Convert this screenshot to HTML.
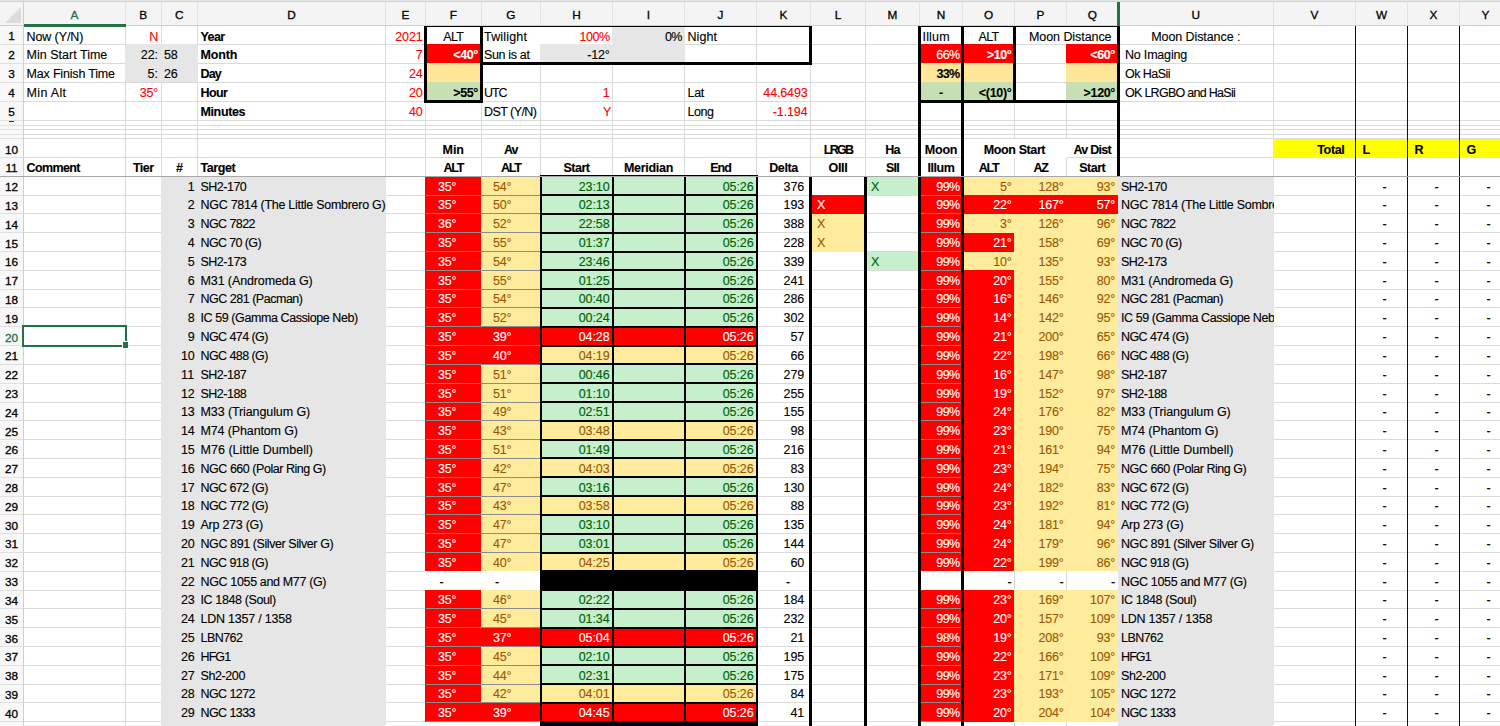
<!DOCTYPE html>
<html><head><meta charset="utf-8"><style>
html,body{margin:0;padding:0;background:#fff;}
body{width:1500px;height:726px;overflow:hidden;position:relative;font-family:"Liberation Sans", sans-serif;font-size:12.5px;-webkit-text-stroke:0.12px currentColor;}
</style></head><body>
<div style="position:absolute;left:0.00px;top:44.00px;width:1500.00px;height:1.00px;background:#DADADA;z-index:1;"></div>
<div style="position:absolute;left:0.00px;top:63.00px;width:1500.00px;height:1.00px;background:#DADADA;z-index:1;"></div>
<div style="position:absolute;left:0.00px;top:82.00px;width:1500.00px;height:1.00px;background:#DADADA;z-index:1;"></div>
<div style="position:absolute;left:0.00px;top:101.00px;width:1500.00px;height:1.00px;background:#DADADA;z-index:1;"></div>
<div style="position:absolute;left:0.00px;top:120.00px;width:1500.00px;height:1.00px;background:#DADADA;z-index:1;"></div>
<div style="position:absolute;left:0.00px;top:125.00px;width:1500.00px;height:1.00px;background:#DADADA;z-index:1;"></div>
<div style="position:absolute;left:0.00px;top:129.00px;width:1500.00px;height:1.00px;background:#DADADA;z-index:1;"></div>
<div style="position:absolute;left:0.00px;top:134.00px;width:1500.00px;height:1.00px;background:#DADADA;z-index:1;"></div>
<div style="position:absolute;left:0.00px;top:138.00px;width:1500.00px;height:1.00px;background:#DADADA;z-index:1;"></div>
<div style="position:absolute;left:0.00px;top:157.00px;width:1500.00px;height:1.00px;background:#DADADA;z-index:1;"></div>
<div style="position:absolute;left:0.00px;top:176.00px;width:1500.00px;height:1.00px;background:#DADADA;z-index:1;"></div>
<div style="position:absolute;left:0.00px;top:195.00px;width:1500.00px;height:1.00px;background:#DADADA;z-index:1;"></div>
<div style="position:absolute;left:0.00px;top:213.00px;width:1500.00px;height:1.00px;background:#DADADA;z-index:1;"></div>
<div style="position:absolute;left:0.00px;top:232.00px;width:1500.00px;height:1.00px;background:#DADADA;z-index:1;"></div>
<div style="position:absolute;left:0.00px;top:251.00px;width:1500.00px;height:1.00px;background:#DADADA;z-index:1;"></div>
<div style="position:absolute;left:0.00px;top:270.00px;width:1500.00px;height:1.00px;background:#DADADA;z-index:1;"></div>
<div style="position:absolute;left:0.00px;top:289.00px;width:1500.00px;height:1.00px;background:#DADADA;z-index:1;"></div>
<div style="position:absolute;left:0.00px;top:307.00px;width:1500.00px;height:1.00px;background:#DADADA;z-index:1;"></div>
<div style="position:absolute;left:0.00px;top:326.00px;width:1500.00px;height:1.00px;background:#DADADA;z-index:1;"></div>
<div style="position:absolute;left:0.00px;top:345.00px;width:1500.00px;height:1.00px;background:#DADADA;z-index:1;"></div>
<div style="position:absolute;left:0.00px;top:364.00px;width:1500.00px;height:1.00px;background:#DADADA;z-index:1;"></div>
<div style="position:absolute;left:0.00px;top:383.00px;width:1500.00px;height:1.00px;background:#DADADA;z-index:1;"></div>
<div style="position:absolute;left:0.00px;top:402.00px;width:1500.00px;height:1.00px;background:#DADADA;z-index:1;"></div>
<div style="position:absolute;left:0.00px;top:420.00px;width:1500.00px;height:1.00px;background:#DADADA;z-index:1;"></div>
<div style="position:absolute;left:0.00px;top:439.00px;width:1500.00px;height:1.00px;background:#DADADA;z-index:1;"></div>
<div style="position:absolute;left:0.00px;top:458.00px;width:1500.00px;height:1.00px;background:#DADADA;z-index:1;"></div>
<div style="position:absolute;left:0.00px;top:477.00px;width:1500.00px;height:1.00px;background:#DADADA;z-index:1;"></div>
<div style="position:absolute;left:0.00px;top:496.00px;width:1500.00px;height:1.00px;background:#DADADA;z-index:1;"></div>
<div style="position:absolute;left:0.00px;top:514.00px;width:1500.00px;height:1.00px;background:#DADADA;z-index:1;"></div>
<div style="position:absolute;left:0.00px;top:533.00px;width:1500.00px;height:1.00px;background:#DADADA;z-index:1;"></div>
<div style="position:absolute;left:0.00px;top:552.00px;width:1500.00px;height:1.00px;background:#DADADA;z-index:1;"></div>
<div style="position:absolute;left:0.00px;top:571.00px;width:1500.00px;height:1.00px;background:#DADADA;z-index:1;"></div>
<div style="position:absolute;left:0.00px;top:590.00px;width:1500.00px;height:1.00px;background:#DADADA;z-index:1;"></div>
<div style="position:absolute;left:0.00px;top:608.00px;width:1500.00px;height:1.00px;background:#DADADA;z-index:1;"></div>
<div style="position:absolute;left:0.00px;top:627.00px;width:1500.00px;height:1.00px;background:#DADADA;z-index:1;"></div>
<div style="position:absolute;left:0.00px;top:646.00px;width:1500.00px;height:1.00px;background:#DADADA;z-index:1;"></div>
<div style="position:absolute;left:0.00px;top:665.00px;width:1500.00px;height:1.00px;background:#DADADA;z-index:1;"></div>
<div style="position:absolute;left:0.00px;top:684.00px;width:1500.00px;height:1.00px;background:#DADADA;z-index:1;"></div>
<div style="position:absolute;left:0.00px;top:702.00px;width:1500.00px;height:1.00px;background:#DADADA;z-index:1;"></div>
<div style="position:absolute;left:0.00px;top:721.00px;width:1500.00px;height:1.00px;background:#DADADA;z-index:1;"></div>
<div style="position:absolute;left:125.00px;top:26.00px;width:1.00px;height:700.00px;background:#DADADA;z-index:1;"></div>
<div style="position:absolute;left:161.00px;top:26.00px;width:1.00px;height:700.00px;background:#DADADA;z-index:1;"></div>
<div style="position:absolute;left:197.00px;top:26.00px;width:1.00px;height:700.00px;background:#DADADA;z-index:1;"></div>
<div style="position:absolute;left:385.00px;top:26.00px;width:1.00px;height:700.00px;background:#DADADA;z-index:1;"></div>
<div style="position:absolute;left:425.00px;top:26.00px;width:1.00px;height:700.00px;background:#DADADA;z-index:1;"></div>
<div style="position:absolute;left:481.00px;top:26.00px;width:1.00px;height:700.00px;background:#DADADA;z-index:1;"></div>
<div style="position:absolute;left:540.00px;top:26.00px;width:1.00px;height:700.00px;background:#DADADA;z-index:1;"></div>
<div style="position:absolute;left:612.00px;top:26.00px;width:1.00px;height:700.00px;background:#DADADA;z-index:1;"></div>
<div style="position:absolute;left:684.00px;top:26.00px;width:1.00px;height:700.00px;background:#DADADA;z-index:1;"></div>
<div style="position:absolute;left:756.00px;top:26.00px;width:1.00px;height:700.00px;background:#DADADA;z-index:1;"></div>
<div style="position:absolute;left:810.00px;top:26.00px;width:1.00px;height:700.00px;background:#DADADA;z-index:1;"></div>
<div style="position:absolute;left:865.00px;top:26.00px;width:1.00px;height:700.00px;background:#DADADA;z-index:1;"></div>
<div style="position:absolute;left:919.00px;top:26.00px;width:1.00px;height:700.00px;background:#DADADA;z-index:1;"></div>
<div style="position:absolute;left:962.00px;top:26.00px;width:1.00px;height:700.00px;background:#DADADA;z-index:1;"></div>
<div style="position:absolute;left:1014.00px;top:26.00px;width:1.00px;height:700.00px;background:#DADADA;z-index:1;"></div>
<div style="position:absolute;left:1066.00px;top:26.00px;width:1.00px;height:700.00px;background:#DADADA;z-index:1;"></div>
<div style="position:absolute;left:1118.00px;top:26.00px;width:1.00px;height:700.00px;background:#DADADA;z-index:1;"></div>
<div style="position:absolute;left:1273.00px;top:26.00px;width:1.00px;height:700.00px;background:#DADADA;z-index:1;"></div>
<div style="position:absolute;left:1355.00px;top:26.00px;width:1.00px;height:700.00px;background:#DADADA;z-index:1;"></div>
<div style="position:absolute;left:1407.00px;top:26.00px;width:1.00px;height:700.00px;background:#DADADA;z-index:1;"></div>
<div style="position:absolute;left:1459.00px;top:26.00px;width:1.00px;height:700.00px;background:#DADADA;z-index:1;"></div>
<div style="position:absolute;left:125.00px;top:44.00px;width:73.00px;height:38.00px;background:#E6E6E6;z-index:3;"></div>
<div style="position:absolute;left:425.00px;top:26.00px;width:56.00px;height:18.00px;background:#FFFFFF;z-index:3;"></div>
<div style="position:absolute;left:425.00px;top:44.00px;width:56.00px;height:19.00px;background:#FF0000;z-index:3;"></div>
<div style="position:absolute;left:425.00px;top:63.00px;width:56.00px;height:19.00px;background:#FFE699;z-index:3;"></div>
<div style="position:absolute;left:425.00px;top:82.00px;width:56.00px;height:19.00px;background:#C6E0B4;z-index:3;"></div>
<div style="position:absolute;left:481.00px;top:26.00px;width:132.00px;height:37.00px;background:#FFFFFF;z-index:3;"></div>
<div style="position:absolute;left:612.00px;top:26.00px;width:73.00px;height:37.00px;background:#E6E6E6;z-index:3;"></div>
<div style="position:absolute;left:540.00px;top:44.00px;width:73.00px;height:19.00px;background:#E6E6E6;z-index:3;"></div>
<div style="position:absolute;left:919.00px;top:26.00px;width:199.00px;height:18.00px;background:#FFFFFF;z-index:3;"></div>
<div style="position:absolute;left:919.00px;top:44.00px;width:96.00px;height:19.00px;background:#FF0000;z-index:3;"></div>
<div style="position:absolute;left:1066.00px;top:44.00px;width:52.00px;height:19.00px;background:#FF0000;z-index:3;"></div>
<div style="position:absolute;left:919.00px;top:63.00px;width:96.00px;height:19.00px;background:#FFE699;z-index:3;"></div>
<div style="position:absolute;left:1066.00px;top:63.00px;width:52.00px;height:19.00px;background:#FFE699;z-index:3;"></div>
<div style="position:absolute;left:919.00px;top:82.00px;width:96.00px;height:19.00px;background:#C6E0B4;z-index:3;"></div>
<div style="position:absolute;left:1066.00px;top:82.00px;width:52.00px;height:19.00px;background:#C6E0B4;z-index:3;"></div>
<div style="position:absolute;left:1273.00px;top:139.00px;width:239.00px;height:19.00px;background:#FFFF00;z-index:3;"></div>
<div style="position:absolute;left:962.00px;top:139.00px;width:105.00px;height:19.00px;background:#FFFFFF;z-index:3;"></div>
<div style="position:absolute;left:161.00px;top:176.00px;width:225.00px;height:565.00px;background:#E6E6E6;z-index:3;"></div>
<div style="position:absolute;left:1118.00px;top:176.00px;width:156.00px;height:565.00px;background:#E6E6E6;z-index:3;"></div>
<div style="position:absolute;left:425.00px;top:722.00px;width:116.00px;height:19.00px;background:#FFFFFF;z-index:3;"></div>
<div style="position:absolute;left:425.00px;top:176.00px;width:56.00px;height:19.00px;background:#FF0000;z-index:3;"></div>
<div style="position:absolute;left:481.00px;top:176.00px;width:60.00px;height:19.00px;background:#FFEB9C;z-index:3;"></div>
<div style="position:absolute;left:540.00px;top:176.00px;width:217.00px;height:19.00px;background:#C6EFCE;z-index:3;"></div>
<div style="position:absolute;left:919.00px;top:176.00px;width:44.00px;height:19.00px;background:#FF0000;z-index:3;"></div>
<div style="position:absolute;left:962.00px;top:176.00px;width:156.00px;height:19.00px;background:#FFEB9C;z-index:3;"></div>
<div style="position:absolute;left:425.00px;top:195.00px;width:56.00px;height:19.00px;background:#FF0000;z-index:3;"></div>
<div style="position:absolute;left:481.00px;top:195.00px;width:60.00px;height:19.00px;background:#FFEB9C;z-index:3;"></div>
<div style="position:absolute;left:540.00px;top:195.00px;width:217.00px;height:19.00px;background:#C6EFCE;z-index:3;"></div>
<div style="position:absolute;left:919.00px;top:195.00px;width:44.00px;height:19.00px;background:#FF0000;z-index:3;"></div>
<div style="position:absolute;left:962.00px;top:195.00px;width:156.00px;height:19.00px;background:#FF0000;z-index:3;"></div>
<div style="position:absolute;left:425.00px;top:214.00px;width:56.00px;height:19.00px;background:#FF0000;z-index:3;"></div>
<div style="position:absolute;left:481.00px;top:214.00px;width:60.00px;height:19.00px;background:#FFEB9C;z-index:3;"></div>
<div style="position:absolute;left:540.00px;top:214.00px;width:217.00px;height:19.00px;background:#C6EFCE;z-index:3;"></div>
<div style="position:absolute;left:919.00px;top:214.00px;width:44.00px;height:19.00px;background:#FF0000;z-index:3;"></div>
<div style="position:absolute;left:962.00px;top:214.00px;width:156.00px;height:19.00px;background:#FFEB9C;z-index:3;"></div>
<div style="position:absolute;left:425.00px;top:233.00px;width:56.00px;height:19.00px;background:#FF0000;z-index:3;"></div>
<div style="position:absolute;left:481.00px;top:233.00px;width:60.00px;height:19.00px;background:#FFEB9C;z-index:3;"></div>
<div style="position:absolute;left:540.00px;top:233.00px;width:217.00px;height:19.00px;background:#C6EFCE;z-index:3;"></div>
<div style="position:absolute;left:919.00px;top:233.00px;width:44.00px;height:19.00px;background:#FF0000;z-index:3;"></div>
<div style="position:absolute;left:962.00px;top:233.00px;width:53.00px;height:19.00px;background:#FF0000;z-index:3;"></div>
<div style="position:absolute;left:1014.00px;top:233.00px;width:104.00px;height:19.00px;background:#FFEB9C;z-index:3;"></div>
<div style="position:absolute;left:425.00px;top:252.00px;width:56.00px;height:18.00px;background:#FF0000;z-index:3;"></div>
<div style="position:absolute;left:481.00px;top:252.00px;width:60.00px;height:18.00px;background:#FFEB9C;z-index:3;"></div>
<div style="position:absolute;left:540.00px;top:252.00px;width:217.00px;height:18.00px;background:#C6EFCE;z-index:3;"></div>
<div style="position:absolute;left:919.00px;top:252.00px;width:44.00px;height:18.00px;background:#FF0000;z-index:3;"></div>
<div style="position:absolute;left:962.00px;top:252.00px;width:156.00px;height:18.00px;background:#FFEB9C;z-index:3;"></div>
<div style="position:absolute;left:425.00px;top:270.00px;width:56.00px;height:19.00px;background:#FF0000;z-index:3;"></div>
<div style="position:absolute;left:481.00px;top:270.00px;width:60.00px;height:19.00px;background:#FFEB9C;z-index:3;"></div>
<div style="position:absolute;left:540.00px;top:270.00px;width:217.00px;height:19.00px;background:#C6EFCE;z-index:3;"></div>
<div style="position:absolute;left:919.00px;top:270.00px;width:44.00px;height:19.00px;background:#FF0000;z-index:3;"></div>
<div style="position:absolute;left:962.00px;top:270.00px;width:53.00px;height:19.00px;background:#FF0000;z-index:3;"></div>
<div style="position:absolute;left:1014.00px;top:270.00px;width:104.00px;height:19.00px;background:#FFEB9C;z-index:3;"></div>
<div style="position:absolute;left:425.00px;top:289.00px;width:56.00px;height:19.00px;background:#FF0000;z-index:3;"></div>
<div style="position:absolute;left:481.00px;top:289.00px;width:60.00px;height:19.00px;background:#FFEB9C;z-index:3;"></div>
<div style="position:absolute;left:540.00px;top:289.00px;width:217.00px;height:19.00px;background:#C6EFCE;z-index:3;"></div>
<div style="position:absolute;left:919.00px;top:289.00px;width:44.00px;height:19.00px;background:#FF0000;z-index:3;"></div>
<div style="position:absolute;left:962.00px;top:289.00px;width:53.00px;height:19.00px;background:#FF0000;z-index:3;"></div>
<div style="position:absolute;left:1014.00px;top:289.00px;width:104.00px;height:19.00px;background:#FFEB9C;z-index:3;"></div>
<div style="position:absolute;left:425.00px;top:308.00px;width:56.00px;height:19.00px;background:#FF0000;z-index:3;"></div>
<div style="position:absolute;left:481.00px;top:308.00px;width:60.00px;height:19.00px;background:#FFEB9C;z-index:3;"></div>
<div style="position:absolute;left:540.00px;top:308.00px;width:217.00px;height:19.00px;background:#C6EFCE;z-index:3;"></div>
<div style="position:absolute;left:919.00px;top:308.00px;width:44.00px;height:19.00px;background:#FF0000;z-index:3;"></div>
<div style="position:absolute;left:962.00px;top:308.00px;width:53.00px;height:19.00px;background:#FF0000;z-index:3;"></div>
<div style="position:absolute;left:1014.00px;top:308.00px;width:104.00px;height:19.00px;background:#FFEB9C;z-index:3;"></div>
<div style="position:absolute;left:425.00px;top:327.00px;width:56.00px;height:19.00px;background:#FF0000;z-index:3;"></div>
<div style="position:absolute;left:481.00px;top:327.00px;width:60.00px;height:19.00px;background:#FF0000;z-index:3;"></div>
<div style="position:absolute;left:540.00px;top:327.00px;width:217.00px;height:19.00px;background:#FF0000;z-index:3;"></div>
<div style="position:absolute;left:919.00px;top:327.00px;width:44.00px;height:19.00px;background:#FF0000;z-index:3;"></div>
<div style="position:absolute;left:962.00px;top:327.00px;width:53.00px;height:19.00px;background:#FF0000;z-index:3;"></div>
<div style="position:absolute;left:1014.00px;top:327.00px;width:104.00px;height:19.00px;background:#FFEB9C;z-index:3;"></div>
<div style="position:absolute;left:425.00px;top:346.00px;width:56.00px;height:18.00px;background:#FF0000;z-index:3;"></div>
<div style="position:absolute;left:481.00px;top:346.00px;width:60.00px;height:18.00px;background:#FF0000;z-index:3;"></div>
<div style="position:absolute;left:540.00px;top:346.00px;width:217.00px;height:18.00px;background:#FFEB9C;z-index:3;"></div>
<div style="position:absolute;left:919.00px;top:346.00px;width:44.00px;height:18.00px;background:#FF0000;z-index:3;"></div>
<div style="position:absolute;left:962.00px;top:346.00px;width:53.00px;height:18.00px;background:#FF0000;z-index:3;"></div>
<div style="position:absolute;left:1014.00px;top:346.00px;width:104.00px;height:18.00px;background:#FFEB9C;z-index:3;"></div>
<div style="position:absolute;left:425.00px;top:364.00px;width:56.00px;height:19.00px;background:#FF0000;z-index:3;"></div>
<div style="position:absolute;left:481.00px;top:364.00px;width:60.00px;height:19.00px;background:#FFEB9C;z-index:3;"></div>
<div style="position:absolute;left:540.00px;top:364.00px;width:217.00px;height:19.00px;background:#C6EFCE;z-index:3;"></div>
<div style="position:absolute;left:919.00px;top:364.00px;width:44.00px;height:19.00px;background:#FF0000;z-index:3;"></div>
<div style="position:absolute;left:962.00px;top:364.00px;width:53.00px;height:19.00px;background:#FF0000;z-index:3;"></div>
<div style="position:absolute;left:1014.00px;top:364.00px;width:104.00px;height:19.00px;background:#FFEB9C;z-index:3;"></div>
<div style="position:absolute;left:425.00px;top:383.00px;width:56.00px;height:19.00px;background:#FF0000;z-index:3;"></div>
<div style="position:absolute;left:481.00px;top:383.00px;width:60.00px;height:19.00px;background:#FFEB9C;z-index:3;"></div>
<div style="position:absolute;left:540.00px;top:383.00px;width:217.00px;height:19.00px;background:#C6EFCE;z-index:3;"></div>
<div style="position:absolute;left:919.00px;top:383.00px;width:44.00px;height:19.00px;background:#FF0000;z-index:3;"></div>
<div style="position:absolute;left:962.00px;top:383.00px;width:53.00px;height:19.00px;background:#FF0000;z-index:3;"></div>
<div style="position:absolute;left:1014.00px;top:383.00px;width:104.00px;height:19.00px;background:#FFEB9C;z-index:3;"></div>
<div style="position:absolute;left:425.00px;top:402.00px;width:56.00px;height:19.00px;background:#FF0000;z-index:3;"></div>
<div style="position:absolute;left:481.00px;top:402.00px;width:60.00px;height:19.00px;background:#FFEB9C;z-index:3;"></div>
<div style="position:absolute;left:540.00px;top:402.00px;width:217.00px;height:19.00px;background:#C6EFCE;z-index:3;"></div>
<div style="position:absolute;left:919.00px;top:402.00px;width:44.00px;height:19.00px;background:#FF0000;z-index:3;"></div>
<div style="position:absolute;left:962.00px;top:402.00px;width:53.00px;height:19.00px;background:#FF0000;z-index:3;"></div>
<div style="position:absolute;left:1014.00px;top:402.00px;width:104.00px;height:19.00px;background:#FFEB9C;z-index:3;"></div>
<div style="position:absolute;left:425.00px;top:421.00px;width:56.00px;height:19.00px;background:#FF0000;z-index:3;"></div>
<div style="position:absolute;left:481.00px;top:421.00px;width:60.00px;height:19.00px;background:#FFEB9C;z-index:3;"></div>
<div style="position:absolute;left:540.00px;top:421.00px;width:217.00px;height:19.00px;background:#FFEB9C;z-index:3;"></div>
<div style="position:absolute;left:919.00px;top:421.00px;width:44.00px;height:19.00px;background:#FF0000;z-index:3;"></div>
<div style="position:absolute;left:962.00px;top:421.00px;width:53.00px;height:19.00px;background:#FF0000;z-index:3;"></div>
<div style="position:absolute;left:1014.00px;top:421.00px;width:104.00px;height:19.00px;background:#FFEB9C;z-index:3;"></div>
<div style="position:absolute;left:425.00px;top:440.00px;width:56.00px;height:18.00px;background:#FF0000;z-index:3;"></div>
<div style="position:absolute;left:481.00px;top:440.00px;width:60.00px;height:18.00px;background:#FFEB9C;z-index:3;"></div>
<div style="position:absolute;left:540.00px;top:440.00px;width:217.00px;height:18.00px;background:#C6EFCE;z-index:3;"></div>
<div style="position:absolute;left:919.00px;top:440.00px;width:44.00px;height:18.00px;background:#FF0000;z-index:3;"></div>
<div style="position:absolute;left:962.00px;top:440.00px;width:53.00px;height:18.00px;background:#FF0000;z-index:3;"></div>
<div style="position:absolute;left:1014.00px;top:440.00px;width:104.00px;height:18.00px;background:#FFEB9C;z-index:3;"></div>
<div style="position:absolute;left:425.00px;top:458.00px;width:56.00px;height:19.00px;background:#FF0000;z-index:3;"></div>
<div style="position:absolute;left:481.00px;top:458.00px;width:60.00px;height:19.00px;background:#FFEB9C;z-index:3;"></div>
<div style="position:absolute;left:540.00px;top:458.00px;width:217.00px;height:19.00px;background:#FFEB9C;z-index:3;"></div>
<div style="position:absolute;left:919.00px;top:458.00px;width:44.00px;height:19.00px;background:#FF0000;z-index:3;"></div>
<div style="position:absolute;left:962.00px;top:458.00px;width:53.00px;height:19.00px;background:#FF0000;z-index:3;"></div>
<div style="position:absolute;left:1014.00px;top:458.00px;width:104.00px;height:19.00px;background:#FFEB9C;z-index:3;"></div>
<div style="position:absolute;left:425.00px;top:477.00px;width:56.00px;height:19.00px;background:#FF0000;z-index:3;"></div>
<div style="position:absolute;left:481.00px;top:477.00px;width:60.00px;height:19.00px;background:#FFEB9C;z-index:3;"></div>
<div style="position:absolute;left:540.00px;top:477.00px;width:217.00px;height:19.00px;background:#C6EFCE;z-index:3;"></div>
<div style="position:absolute;left:919.00px;top:477.00px;width:44.00px;height:19.00px;background:#FF0000;z-index:3;"></div>
<div style="position:absolute;left:962.00px;top:477.00px;width:53.00px;height:19.00px;background:#FF0000;z-index:3;"></div>
<div style="position:absolute;left:1014.00px;top:477.00px;width:104.00px;height:19.00px;background:#FFEB9C;z-index:3;"></div>
<div style="position:absolute;left:425.00px;top:496.00px;width:56.00px;height:19.00px;background:#FF0000;z-index:3;"></div>
<div style="position:absolute;left:481.00px;top:496.00px;width:60.00px;height:19.00px;background:#FFEB9C;z-index:3;"></div>
<div style="position:absolute;left:540.00px;top:496.00px;width:217.00px;height:19.00px;background:#FFEB9C;z-index:3;"></div>
<div style="position:absolute;left:919.00px;top:496.00px;width:44.00px;height:19.00px;background:#FF0000;z-index:3;"></div>
<div style="position:absolute;left:962.00px;top:496.00px;width:53.00px;height:19.00px;background:#FF0000;z-index:3;"></div>
<div style="position:absolute;left:1014.00px;top:496.00px;width:104.00px;height:19.00px;background:#FFEB9C;z-index:3;"></div>
<div style="position:absolute;left:425.00px;top:515.00px;width:56.00px;height:19.00px;background:#FF0000;z-index:3;"></div>
<div style="position:absolute;left:481.00px;top:515.00px;width:60.00px;height:19.00px;background:#FFEB9C;z-index:3;"></div>
<div style="position:absolute;left:540.00px;top:515.00px;width:217.00px;height:19.00px;background:#C6EFCE;z-index:3;"></div>
<div style="position:absolute;left:919.00px;top:515.00px;width:44.00px;height:19.00px;background:#FF0000;z-index:3;"></div>
<div style="position:absolute;left:962.00px;top:515.00px;width:53.00px;height:19.00px;background:#FF0000;z-index:3;"></div>
<div style="position:absolute;left:1014.00px;top:515.00px;width:104.00px;height:19.00px;background:#FFEB9C;z-index:3;"></div>
<div style="position:absolute;left:425.00px;top:534.00px;width:56.00px;height:19.00px;background:#FF0000;z-index:3;"></div>
<div style="position:absolute;left:481.00px;top:534.00px;width:60.00px;height:19.00px;background:#FFEB9C;z-index:3;"></div>
<div style="position:absolute;left:540.00px;top:534.00px;width:217.00px;height:19.00px;background:#C6EFCE;z-index:3;"></div>
<div style="position:absolute;left:919.00px;top:534.00px;width:44.00px;height:19.00px;background:#FF0000;z-index:3;"></div>
<div style="position:absolute;left:962.00px;top:534.00px;width:53.00px;height:19.00px;background:#FF0000;z-index:3;"></div>
<div style="position:absolute;left:1014.00px;top:534.00px;width:104.00px;height:19.00px;background:#FFEB9C;z-index:3;"></div>
<div style="position:absolute;left:425.00px;top:553.00px;width:56.00px;height:18.00px;background:#FF0000;z-index:3;"></div>
<div style="position:absolute;left:481.00px;top:553.00px;width:60.00px;height:18.00px;background:#FFEB9C;z-index:3;"></div>
<div style="position:absolute;left:540.00px;top:553.00px;width:217.00px;height:18.00px;background:#FFEB9C;z-index:3;"></div>
<div style="position:absolute;left:919.00px;top:553.00px;width:44.00px;height:18.00px;background:#FF0000;z-index:3;"></div>
<div style="position:absolute;left:962.00px;top:553.00px;width:53.00px;height:18.00px;background:#FF0000;z-index:3;"></div>
<div style="position:absolute;left:1014.00px;top:553.00px;width:104.00px;height:18.00px;background:#FFEB9C;z-index:3;"></div>
<div style="position:absolute;left:540.00px;top:571.00px;width:217.00px;height:19.00px;background:#000000;z-index:4;"></div>
<div style="position:absolute;left:425.00px;top:571.00px;width:116.00px;height:19.00px;background:#FFFFFF;z-index:3;"></div>
<div style="position:absolute;left:919.00px;top:571.00px;width:199.00px;height:19.00px;background:#FFFFFF;z-index:3;"></div>
<div style="position:absolute;left:425.00px;top:590.00px;width:56.00px;height:19.00px;background:#FF0000;z-index:3;"></div>
<div style="position:absolute;left:481.00px;top:590.00px;width:60.00px;height:19.00px;background:#FFEB9C;z-index:3;"></div>
<div style="position:absolute;left:540.00px;top:590.00px;width:217.00px;height:19.00px;background:#C6EFCE;z-index:3;"></div>
<div style="position:absolute;left:919.00px;top:590.00px;width:44.00px;height:19.00px;background:#FF0000;z-index:3;"></div>
<div style="position:absolute;left:962.00px;top:590.00px;width:53.00px;height:19.00px;background:#FF0000;z-index:3;"></div>
<div style="position:absolute;left:1014.00px;top:590.00px;width:104.00px;height:19.00px;background:#FFEB9C;z-index:3;"></div>
<div style="position:absolute;left:425.00px;top:609.00px;width:56.00px;height:19.00px;background:#FF0000;z-index:3;"></div>
<div style="position:absolute;left:481.00px;top:609.00px;width:60.00px;height:19.00px;background:#FFEB9C;z-index:3;"></div>
<div style="position:absolute;left:540.00px;top:609.00px;width:217.00px;height:19.00px;background:#C6EFCE;z-index:3;"></div>
<div style="position:absolute;left:919.00px;top:609.00px;width:44.00px;height:19.00px;background:#FF0000;z-index:3;"></div>
<div style="position:absolute;left:962.00px;top:609.00px;width:53.00px;height:19.00px;background:#FF0000;z-index:3;"></div>
<div style="position:absolute;left:1014.00px;top:609.00px;width:104.00px;height:19.00px;background:#FFEB9C;z-index:3;"></div>
<div style="position:absolute;left:425.00px;top:628.00px;width:56.00px;height:19.00px;background:#FF0000;z-index:3;"></div>
<div style="position:absolute;left:481.00px;top:628.00px;width:60.00px;height:19.00px;background:#FF0000;z-index:3;"></div>
<div style="position:absolute;left:540.00px;top:628.00px;width:217.00px;height:19.00px;background:#FF0000;z-index:3;"></div>
<div style="position:absolute;left:919.00px;top:628.00px;width:44.00px;height:19.00px;background:#FF0000;z-index:3;"></div>
<div style="position:absolute;left:962.00px;top:628.00px;width:53.00px;height:19.00px;background:#FF0000;z-index:3;"></div>
<div style="position:absolute;left:1014.00px;top:628.00px;width:104.00px;height:19.00px;background:#FFEB9C;z-index:3;"></div>
<div style="position:absolute;left:425.00px;top:647.00px;width:56.00px;height:18.00px;background:#FF0000;z-index:3;"></div>
<div style="position:absolute;left:481.00px;top:647.00px;width:60.00px;height:18.00px;background:#FFEB9C;z-index:3;"></div>
<div style="position:absolute;left:540.00px;top:647.00px;width:217.00px;height:18.00px;background:#C6EFCE;z-index:3;"></div>
<div style="position:absolute;left:919.00px;top:647.00px;width:44.00px;height:18.00px;background:#FF0000;z-index:3;"></div>
<div style="position:absolute;left:962.00px;top:647.00px;width:53.00px;height:18.00px;background:#FF0000;z-index:3;"></div>
<div style="position:absolute;left:1014.00px;top:647.00px;width:104.00px;height:18.00px;background:#FFEB9C;z-index:3;"></div>
<div style="position:absolute;left:425.00px;top:665.00px;width:56.00px;height:19.00px;background:#FF0000;z-index:3;"></div>
<div style="position:absolute;left:481.00px;top:665.00px;width:60.00px;height:19.00px;background:#FFEB9C;z-index:3;"></div>
<div style="position:absolute;left:540.00px;top:665.00px;width:217.00px;height:19.00px;background:#C6EFCE;z-index:3;"></div>
<div style="position:absolute;left:919.00px;top:665.00px;width:44.00px;height:19.00px;background:#FF0000;z-index:3;"></div>
<div style="position:absolute;left:962.00px;top:665.00px;width:53.00px;height:19.00px;background:#FF0000;z-index:3;"></div>
<div style="position:absolute;left:1014.00px;top:665.00px;width:104.00px;height:19.00px;background:#FFEB9C;z-index:3;"></div>
<div style="position:absolute;left:425.00px;top:684.00px;width:56.00px;height:19.00px;background:#FF0000;z-index:3;"></div>
<div style="position:absolute;left:481.00px;top:684.00px;width:60.00px;height:19.00px;background:#FFEB9C;z-index:3;"></div>
<div style="position:absolute;left:540.00px;top:684.00px;width:217.00px;height:19.00px;background:#FFEB9C;z-index:3;"></div>
<div style="position:absolute;left:919.00px;top:684.00px;width:44.00px;height:19.00px;background:#FF0000;z-index:3;"></div>
<div style="position:absolute;left:962.00px;top:684.00px;width:53.00px;height:19.00px;background:#FF0000;z-index:3;"></div>
<div style="position:absolute;left:1014.00px;top:684.00px;width:104.00px;height:19.00px;background:#FFEB9C;z-index:3;"></div>
<div style="position:absolute;left:425.00px;top:703.00px;width:56.00px;height:19.00px;background:#FF0000;z-index:3;"></div>
<div style="position:absolute;left:481.00px;top:703.00px;width:60.00px;height:19.00px;background:#FF0000;z-index:3;"></div>
<div style="position:absolute;left:540.00px;top:703.00px;width:217.00px;height:19.00px;background:#FF0000;z-index:3;"></div>
<div style="position:absolute;left:919.00px;top:703.00px;width:44.00px;height:19.00px;background:#FF0000;z-index:3;"></div>
<div style="position:absolute;left:962.00px;top:703.00px;width:53.00px;height:19.00px;background:#FF0000;z-index:3;"></div>
<div style="position:absolute;left:1014.00px;top:703.00px;width:104.00px;height:19.00px;background:#FFEB9C;z-index:3;"></div>
<div style="position:absolute;left:810.00px;top:195.00px;width:56.00px;height:19.00px;background:#FF0000;z-index:3;"></div>
<div style="position:absolute;left:810.00px;top:214.00px;width:56.00px;height:38.00px;background:#FFEB9C;z-index:3;"></div>
<div style="position:absolute;left:865.00px;top:176.00px;width:55.00px;height:19.00px;background:#C6EFCE;z-index:3;"></div>
<div style="position:absolute;left:865.00px;top:252.00px;width:55.00px;height:18.00px;background:#C6EFCE;z-index:3;"></div>
<div style="position:absolute;left:541.00px;top:722.00px;width:216.00px;height:4.00px;background:#000;z-index:4;"></div>
<div style="position:absolute;left:426.00px;top:195.00px;width:115.00px;height:1.00px;background:#8C8C8C;z-index:5;"></div>
<div style="position:absolute;left:920.00px;top:195.00px;width:43.00px;height:1.00px;background:#8C8C8C;z-index:5;"></div>
<div style="position:absolute;left:426.00px;top:213.00px;width:115.00px;height:1.00px;background:#8C8C8C;z-index:5;"></div>
<div style="position:absolute;left:920.00px;top:213.00px;width:43.00px;height:1.00px;background:#8C8C8C;z-index:5;"></div>
<div style="position:absolute;left:426.00px;top:232.00px;width:115.00px;height:1.00px;background:#8C8C8C;z-index:5;"></div>
<div style="position:absolute;left:920.00px;top:232.00px;width:43.00px;height:1.00px;background:#8C8C8C;z-index:5;"></div>
<div style="position:absolute;left:426.00px;top:251.00px;width:115.00px;height:1.00px;background:#8C8C8C;z-index:5;"></div>
<div style="position:absolute;left:920.00px;top:251.00px;width:43.00px;height:1.00px;background:#8C8C8C;z-index:5;"></div>
<div style="position:absolute;left:426.00px;top:270.00px;width:115.00px;height:1.00px;background:#8C8C8C;z-index:5;"></div>
<div style="position:absolute;left:920.00px;top:270.00px;width:43.00px;height:1.00px;background:#8C8C8C;z-index:5;"></div>
<div style="position:absolute;left:426.00px;top:289.00px;width:115.00px;height:1.00px;background:#8C8C8C;z-index:5;"></div>
<div style="position:absolute;left:920.00px;top:289.00px;width:43.00px;height:1.00px;background:#8C8C8C;z-index:5;"></div>
<div style="position:absolute;left:426.00px;top:307.00px;width:115.00px;height:1.00px;background:#8C8C8C;z-index:5;"></div>
<div style="position:absolute;left:920.00px;top:307.00px;width:43.00px;height:1.00px;background:#8C8C8C;z-index:5;"></div>
<div style="position:absolute;left:426.00px;top:326.00px;width:115.00px;height:1.00px;background:#8C8C8C;z-index:5;"></div>
<div style="position:absolute;left:920.00px;top:326.00px;width:43.00px;height:1.00px;background:#8C8C8C;z-index:5;"></div>
<div style="position:absolute;left:426.00px;top:345.00px;width:115.00px;height:1.00px;background:#8C8C8C;z-index:5;"></div>
<div style="position:absolute;left:920.00px;top:345.00px;width:43.00px;height:1.00px;background:#8C8C8C;z-index:5;"></div>
<div style="position:absolute;left:426.00px;top:364.00px;width:115.00px;height:1.00px;background:#8C8C8C;z-index:5;"></div>
<div style="position:absolute;left:920.00px;top:364.00px;width:43.00px;height:1.00px;background:#8C8C8C;z-index:5;"></div>
<div style="position:absolute;left:426.00px;top:383.00px;width:115.00px;height:1.00px;background:#8C8C8C;z-index:5;"></div>
<div style="position:absolute;left:920.00px;top:383.00px;width:43.00px;height:1.00px;background:#8C8C8C;z-index:5;"></div>
<div style="position:absolute;left:426.00px;top:402.00px;width:115.00px;height:1.00px;background:#8C8C8C;z-index:5;"></div>
<div style="position:absolute;left:920.00px;top:402.00px;width:43.00px;height:1.00px;background:#8C8C8C;z-index:5;"></div>
<div style="position:absolute;left:426.00px;top:420.00px;width:115.00px;height:1.00px;background:#8C8C8C;z-index:5;"></div>
<div style="position:absolute;left:920.00px;top:420.00px;width:43.00px;height:1.00px;background:#8C8C8C;z-index:5;"></div>
<div style="position:absolute;left:426.00px;top:439.00px;width:115.00px;height:1.00px;background:#8C8C8C;z-index:5;"></div>
<div style="position:absolute;left:920.00px;top:439.00px;width:43.00px;height:1.00px;background:#8C8C8C;z-index:5;"></div>
<div style="position:absolute;left:426.00px;top:458.00px;width:115.00px;height:1.00px;background:#8C8C8C;z-index:5;"></div>
<div style="position:absolute;left:920.00px;top:458.00px;width:43.00px;height:1.00px;background:#8C8C8C;z-index:5;"></div>
<div style="position:absolute;left:426.00px;top:477.00px;width:115.00px;height:1.00px;background:#8C8C8C;z-index:5;"></div>
<div style="position:absolute;left:920.00px;top:477.00px;width:43.00px;height:1.00px;background:#8C8C8C;z-index:5;"></div>
<div style="position:absolute;left:426.00px;top:496.00px;width:115.00px;height:1.00px;background:#8C8C8C;z-index:5;"></div>
<div style="position:absolute;left:920.00px;top:496.00px;width:43.00px;height:1.00px;background:#8C8C8C;z-index:5;"></div>
<div style="position:absolute;left:426.00px;top:514.00px;width:115.00px;height:1.00px;background:#8C8C8C;z-index:5;"></div>
<div style="position:absolute;left:920.00px;top:514.00px;width:43.00px;height:1.00px;background:#8C8C8C;z-index:5;"></div>
<div style="position:absolute;left:426.00px;top:533.00px;width:115.00px;height:1.00px;background:#8C8C8C;z-index:5;"></div>
<div style="position:absolute;left:920.00px;top:533.00px;width:43.00px;height:1.00px;background:#8C8C8C;z-index:5;"></div>
<div style="position:absolute;left:426.00px;top:552.00px;width:115.00px;height:1.00px;background:#8C8C8C;z-index:5;"></div>
<div style="position:absolute;left:920.00px;top:552.00px;width:43.00px;height:1.00px;background:#8C8C8C;z-index:5;"></div>
<div style="position:absolute;left:426.00px;top:608.00px;width:115.00px;height:1.00px;background:#8C8C8C;z-index:5;"></div>
<div style="position:absolute;left:920.00px;top:608.00px;width:43.00px;height:1.00px;background:#8C8C8C;z-index:5;"></div>
<div style="position:absolute;left:426.00px;top:627.00px;width:115.00px;height:1.00px;background:#8C8C8C;z-index:5;"></div>
<div style="position:absolute;left:920.00px;top:627.00px;width:43.00px;height:1.00px;background:#8C8C8C;z-index:5;"></div>
<div style="position:absolute;left:426.00px;top:646.00px;width:115.00px;height:1.00px;background:#8C8C8C;z-index:5;"></div>
<div style="position:absolute;left:920.00px;top:646.00px;width:43.00px;height:1.00px;background:#8C8C8C;z-index:5;"></div>
<div style="position:absolute;left:426.00px;top:665.00px;width:115.00px;height:1.00px;background:#8C8C8C;z-index:5;"></div>
<div style="position:absolute;left:920.00px;top:665.00px;width:43.00px;height:1.00px;background:#8C8C8C;z-index:5;"></div>
<div style="position:absolute;left:426.00px;top:684.00px;width:115.00px;height:1.00px;background:#8C8C8C;z-index:5;"></div>
<div style="position:absolute;left:920.00px;top:684.00px;width:43.00px;height:1.00px;background:#8C8C8C;z-index:5;"></div>
<div style="position:absolute;left:426.00px;top:702.00px;width:115.00px;height:1.00px;background:#8C8C8C;z-index:5;"></div>
<div style="position:absolute;left:920.00px;top:702.00px;width:43.00px;height:1.00px;background:#8C8C8C;z-index:5;"></div>
<div style="position:absolute;left:426.00px;top:721.00px;width:115.00px;height:1.00px;background:#8C8C8C;z-index:5;"></div>
<div style="position:absolute;left:920.00px;top:721.00px;width:43.00px;height:1.00px;background:#8C8C8C;z-index:5;"></div>
<div style="position:absolute;left:1014.00px;top:571.00px;width:1.00px;height:19.00px;background:#DADADA;z-index:5;"></div>
<div style="position:absolute;left:1066.00px;top:571.00px;width:1.00px;height:19.00px;background:#DADADA;z-index:5;"></div>
<div style="position:absolute;left:424.00px;top:26.00px;width:3.00px;height:75.00px;background:#000;z-index:6;"></div>
<div style="position:absolute;left:480.00px;top:26.00px;width:3.00px;height:75.00px;background:#000;z-index:6;"></div>
<div style="position:absolute;left:424.00px;top:26.00px;width:59.00px;height:1.00px;background:#000;z-index:6;"></div>
<div style="position:absolute;left:424.00px;top:100.00px;width:59.00px;height:3.00px;background:#000;z-index:6;"></div>
<div style="position:absolute;left:481.00px;top:26.00px;width:331.00px;height:1.00px;background:#000;z-index:6;"></div>
<div style="position:absolute;left:481.00px;top:62.00px;width:331.00px;height:3.00px;background:#000;z-index:6;"></div>
<div style="position:absolute;left:809.00px;top:26.00px;width:3.00px;height:39.00px;background:#000;z-index:6;"></div>
<div style="position:absolute;left:918.00px;top:26.00px;width:202.00px;height:1.00px;background:#000;z-index:6;"></div>
<div style="position:absolute;left:918.00px;top:100.00px;width:202.00px;height:3.00px;background:#000;z-index:6;"></div>
<div style="position:absolute;left:918.00px;top:26.00px;width:3.00px;height:700.00px;background:#000;z-index:6;"></div>
<div style="position:absolute;left:961.00px;top:26.00px;width:3.00px;height:700.00px;background:#000;z-index:6;"></div>
<div style="position:absolute;left:1013.00px;top:26.00px;width:3.00px;height:75.00px;background:#000;z-index:6;"></div>
<div style="position:absolute;left:1117.00px;top:26.00px;width:3.00px;height:150.00px;background:#000;z-index:6;"></div>
<div style="position:absolute;left:809.00px;top:176.00px;width:3.00px;height:550.00px;background:#000;z-index:6;"></div>
<div style="position:absolute;left:864.00px;top:176.00px;width:3.00px;height:550.00px;background:#000;z-index:6;"></div>
<div style="position:absolute;left:540.00px;top:176.00px;width:2.00px;height:550.00px;background:#000;z-index:6;"></div>
<div style="position:absolute;left:612.00px;top:176.00px;width:2.00px;height:550.00px;background:#000;z-index:6;"></div>
<div style="position:absolute;left:684.00px;top:176.00px;width:2.00px;height:550.00px;background:#000;z-index:6;"></div>
<div style="position:absolute;left:756.00px;top:176.00px;width:2.00px;height:550.00px;background:#000;z-index:6;"></div>
<div style="position:absolute;left:540.00px;top:175.00px;width:218.00px;height:2.00px;background:#000;z-index:6;"></div>
<div style="position:absolute;left:540.00px;top:194.00px;width:218.00px;height:2.00px;background:#000;z-index:6;"></div>
<div style="position:absolute;left:540.00px;top:213.00px;width:218.00px;height:2.00px;background:#000;z-index:6;"></div>
<div style="position:absolute;left:540.00px;top:232.00px;width:218.00px;height:2.00px;background:#000;z-index:6;"></div>
<div style="position:absolute;left:540.00px;top:251.00px;width:218.00px;height:2.00px;background:#000;z-index:6;"></div>
<div style="position:absolute;left:540.00px;top:269.00px;width:218.00px;height:2.00px;background:#000;z-index:6;"></div>
<div style="position:absolute;left:540.00px;top:288.00px;width:218.00px;height:2.00px;background:#000;z-index:6;"></div>
<div style="position:absolute;left:540.00px;top:307.00px;width:218.00px;height:2.00px;background:#000;z-index:6;"></div>
<div style="position:absolute;left:540.00px;top:326.00px;width:218.00px;height:2.00px;background:#000;z-index:6;"></div>
<div style="position:absolute;left:540.00px;top:345.00px;width:218.00px;height:2.00px;background:#000;z-index:6;"></div>
<div style="position:absolute;left:540.00px;top:363.00px;width:218.00px;height:2.00px;background:#000;z-index:6;"></div>
<div style="position:absolute;left:540.00px;top:382.00px;width:218.00px;height:2.00px;background:#000;z-index:6;"></div>
<div style="position:absolute;left:540.00px;top:401.00px;width:218.00px;height:2.00px;background:#000;z-index:6;"></div>
<div style="position:absolute;left:540.00px;top:420.00px;width:218.00px;height:2.00px;background:#000;z-index:6;"></div>
<div style="position:absolute;left:540.00px;top:439.00px;width:218.00px;height:2.00px;background:#000;z-index:6;"></div>
<div style="position:absolute;left:540.00px;top:457.00px;width:218.00px;height:2.00px;background:#000;z-index:6;"></div>
<div style="position:absolute;left:540.00px;top:476.00px;width:218.00px;height:2.00px;background:#000;z-index:6;"></div>
<div style="position:absolute;left:540.00px;top:495.00px;width:218.00px;height:2.00px;background:#000;z-index:6;"></div>
<div style="position:absolute;left:540.00px;top:514.00px;width:218.00px;height:2.00px;background:#000;z-index:6;"></div>
<div style="position:absolute;left:540.00px;top:533.00px;width:218.00px;height:2.00px;background:#000;z-index:6;"></div>
<div style="position:absolute;left:540.00px;top:552.00px;width:218.00px;height:2.00px;background:#000;z-index:6;"></div>
<div style="position:absolute;left:540.00px;top:570.00px;width:218.00px;height:2.00px;background:#000;z-index:6;"></div>
<div style="position:absolute;left:540.00px;top:589.00px;width:218.00px;height:2.00px;background:#000;z-index:6;"></div>
<div style="position:absolute;left:540.00px;top:608.00px;width:218.00px;height:2.00px;background:#000;z-index:6;"></div>
<div style="position:absolute;left:540.00px;top:627.00px;width:218.00px;height:2.00px;background:#000;z-index:6;"></div>
<div style="position:absolute;left:540.00px;top:646.00px;width:218.00px;height:2.00px;background:#000;z-index:6;"></div>
<div style="position:absolute;left:540.00px;top:664.00px;width:218.00px;height:2.00px;background:#000;z-index:6;"></div>
<div style="position:absolute;left:540.00px;top:683.00px;width:218.00px;height:2.00px;background:#000;z-index:6;"></div>
<div style="position:absolute;left:540.00px;top:702.00px;width:218.00px;height:2.00px;background:#000;z-index:6;"></div>
<div style="position:absolute;left:540.00px;top:721.00px;width:218.00px;height:2.00px;background:#000;z-index:6;"></div>
<div style="position:absolute;left:1355.00px;top:26.00px;width:1.00px;height:700.00px;background:#111;z-index:6;"></div>
<div style="position:absolute;left:1407.00px;top:26.00px;width:1.00px;height:700.00px;background:#111;z-index:6;"></div>
<div style="position:absolute;left:1459.00px;top:26.00px;width:1.00px;height:700.00px;background:#111;z-index:6;"></div>
<div style="position:absolute;left:23.50px;top:28.10px;width:102.00px;height:18.90px;line-height:18.90px;text-align:left;color:#000;z-index:8;white-space:nowrap;box-sizing:border-box;padding-left:3px;letter-spacing:-0.092px;">Now (Y/N)</div>
<div style="position:absolute;left:125.50px;top:28.10px;width:35.50px;height:18.90px;line-height:18.90px;text-align:right;color:#FF0000;z-index:8;white-space:nowrap;box-sizing:border-box;padding-right:3px;letter-spacing:-0.377px;">N</div>
<div style="position:absolute;left:197.50px;top:28.10px;width:188.00px;height:18.90px;line-height:18.90px;text-align:left;color:#000;z-index:8;white-space:nowrap;box-sizing:border-box;padding-left:3px;font-weight:bold;letter-spacing:-0.593px;">Year</div>
<div style="position:absolute;left:385.50px;top:28.10px;width:40.00px;height:18.90px;line-height:18.90px;text-align:right;color:#FF0000;z-index:8;white-space:nowrap;box-sizing:border-box;padding-right:3px;letter-spacing:-0.160px;">2021</div>
<div style="position:absolute;left:425.50px;top:28.10px;width:55.50px;height:18.90px;line-height:18.90px;text-align:center;color:#000;z-index:8;white-space:nowrap;box-sizing:border-box;padding-left:0px;letter-spacing:-0.693px;">ALT</div>
<div style="position:absolute;left:481.00px;top:28.10px;width:59.50px;height:18.90px;line-height:18.90px;text-align:left;color:#000;z-index:8;white-space:nowrap;box-sizing:border-box;padding-left:3px;letter-spacing:0.186px;">Twilight</div>
<div style="position:absolute;left:540.50px;top:28.10px;width:72.00px;height:18.90px;line-height:18.90px;text-align:right;color:#FF0000;z-index:8;white-space:nowrap;box-sizing:border-box;padding-right:3px;letter-spacing:-0.503px;">100%</div>
<div style="position:absolute;left:612.50px;top:28.10px;width:72.00px;height:18.90px;line-height:18.90px;text-align:right;color:#000;z-index:8;white-space:nowrap;box-sizing:border-box;padding-right:3px;letter-spacing:-0.845px;">0%</div>
<div style="position:absolute;left:684.50px;top:28.10px;width:72.00px;height:18.90px;line-height:18.90px;text-align:left;color:#000;z-index:8;white-space:nowrap;box-sizing:border-box;padding-left:3px;letter-spacing:0.076px;">Night</div>
<div style="position:absolute;left:919.50px;top:28.10px;width:43.00px;height:18.90px;line-height:18.90px;text-align:left;color:#000;z-index:8;white-space:nowrap;box-sizing:border-box;padding-left:3px;letter-spacing:0.176px;">Illum</div>
<div style="position:absolute;left:962.50px;top:28.10px;width:52.00px;height:18.90px;line-height:18.90px;text-align:center;color:#000;z-index:8;white-space:nowrap;box-sizing:border-box;padding-left:0px;letter-spacing:-0.693px;">ALT</div>
<div style="position:absolute;left:1014.50px;top:28.10px;width:103.50px;height:18.90px;line-height:18.90px;text-align:center;color:#000;z-index:8;white-space:nowrap;box-sizing:border-box;padding-left:8px;letter-spacing:-0.067px;">Moon Distance</div>
<div style="position:absolute;left:1118.00px;top:28.10px;width:155.50px;height:18.90px;line-height:18.90px;text-align:center;color:#000;z-index:8;white-space:nowrap;box-sizing:border-box;padding-left:0px;letter-spacing:-0.080px;">Moon Distance :</div>
<div style="position:absolute;left:23.50px;top:46.20px;width:102.00px;height:18.90px;line-height:18.90px;text-align:left;color:#000;z-index:8;white-space:nowrap;box-sizing:border-box;padding-left:3px;letter-spacing:0.018px;">Min Start Time</div>
<div style="position:absolute;left:125.50px;top:46.20px;width:35.50px;height:18.90px;line-height:18.90px;text-align:right;color:#000;z-index:8;white-space:nowrap;box-sizing:border-box;padding-right:3px;letter-spacing:-0.069px;">22:</div>
<div style="position:absolute;left:161.00px;top:46.20px;width:36.50px;height:18.90px;line-height:18.90px;text-align:left;color:#000;z-index:8;white-space:nowrap;box-sizing:border-box;padding-left:3px;letter-spacing:-0.160px;">58</div>
<div style="position:absolute;left:197.50px;top:46.20px;width:188.00px;height:18.90px;line-height:18.90px;text-align:left;color:#000;z-index:8;white-space:nowrap;box-sizing:border-box;padding-left:3px;font-weight:bold;letter-spacing:-0.152px;">Month</div>
<div style="position:absolute;left:385.50px;top:46.20px;width:40.00px;height:18.90px;line-height:18.90px;text-align:right;color:#FF0000;z-index:8;white-space:nowrap;box-sizing:border-box;padding-right:3px;letter-spacing:-0.160px;">7</div>
<div style="position:absolute;left:425.50px;top:46.20px;width:55.50px;height:18.90px;line-height:18.90px;text-align:right;color:#FFFFFF;z-index:8;white-space:nowrap;box-sizing:border-box;padding-right:3px;font-weight:bold;letter-spacing:-0.382px;">&lt;40°</div>
<div style="position:absolute;left:481.00px;top:46.20px;width:59.50px;height:18.90px;line-height:18.90px;text-align:left;color:#000;z-index:8;white-space:nowrap;box-sizing:border-box;padding-left:3px;letter-spacing:-0.347px;">Sun is at</div>
<div style="position:absolute;left:540.50px;top:46.20px;width:72.00px;height:18.90px;line-height:18.90px;text-align:right;color:#000;z-index:8;white-space:nowrap;box-sizing:border-box;padding-right:3px;letter-spacing:-0.177px;">-12°</div>
<div style="position:absolute;left:919.50px;top:46.20px;width:43.00px;height:18.90px;line-height:18.90px;text-align:right;color:#FFFFFF;z-index:8;white-space:nowrap;box-sizing:border-box;padding-right:3px;letter-spacing:-0.617px;">66%</div>
<div style="position:absolute;left:962.50px;top:46.20px;width:52.00px;height:18.90px;line-height:18.90px;text-align:right;color:#FFFFFF;z-index:8;white-space:nowrap;box-sizing:border-box;padding-right:3px;font-weight:bold;letter-spacing:-0.382px;">&gt;10°</div>
<div style="position:absolute;left:1066.50px;top:46.20px;width:51.50px;height:18.90px;line-height:18.90px;text-align:right;color:#FFFFFF;z-index:8;white-space:nowrap;box-sizing:border-box;padding-right:3px;font-weight:bold;letter-spacing:-0.382px;">&lt;60°</div>
<div style="position:absolute;left:1118.00px;top:46.20px;width:155.50px;height:18.90px;line-height:18.90px;text-align:left;color:#000;z-index:8;white-space:nowrap;box-sizing:border-box;padding-left:7px;letter-spacing:-0.195px;">No Imaging</div>
<div style="position:absolute;left:23.50px;top:65.10px;width:102.00px;height:19.00px;line-height:19.00px;text-align:left;color:#000;z-index:8;white-space:nowrap;box-sizing:border-box;padding-left:3px;letter-spacing:-0.177px;">Max Finish Time</div>
<div style="position:absolute;left:125.50px;top:65.10px;width:35.50px;height:19.00px;line-height:19.00px;text-align:right;color:#000;z-index:8;white-space:nowrap;box-sizing:border-box;padding-right:3px;letter-spacing:-0.024px;">5:</div>
<div style="position:absolute;left:161.00px;top:65.10px;width:36.50px;height:19.00px;line-height:19.00px;text-align:left;color:#000;z-index:8;white-space:nowrap;box-sizing:border-box;padding-left:3px;letter-spacing:-0.160px;">26</div>
<div style="position:absolute;left:197.50px;top:65.10px;width:188.00px;height:19.00px;line-height:19.00px;text-align:left;color:#000;z-index:8;white-space:nowrap;box-sizing:border-box;padding-left:3px;font-weight:bold;letter-spacing:-0.803px;">Day</div>
<div style="position:absolute;left:385.50px;top:65.10px;width:40.00px;height:19.00px;line-height:19.00px;text-align:right;color:#FF0000;z-index:8;white-space:nowrap;box-sizing:border-box;padding-right:3px;letter-spacing:-0.160px;">24</div>
<div style="position:absolute;left:919.50px;top:65.10px;width:43.00px;height:19.00px;line-height:19.00px;text-align:right;color:#000;z-index:8;white-space:nowrap;box-sizing:border-box;padding-right:3px;font-weight:bold;letter-spacing:-0.694px;">33%</div>
<div style="position:absolute;left:1118.00px;top:65.10px;width:155.50px;height:19.00px;line-height:19.00px;text-align:left;color:#000;z-index:8;white-space:nowrap;box-sizing:border-box;padding-left:7px;letter-spacing:-0.531px;">Ok HaSii</div>
<div style="position:absolute;left:23.50px;top:84.10px;width:102.00px;height:19.00px;line-height:19.00px;text-align:left;color:#000;z-index:8;white-space:nowrap;box-sizing:border-box;padding-left:3px;letter-spacing:0.344px;">Min Alt</div>
<div style="position:absolute;left:125.50px;top:84.10px;width:35.50px;height:19.00px;line-height:19.00px;text-align:right;color:#FF0000;z-index:8;white-space:nowrap;box-sizing:border-box;padding-right:3px;letter-spacing:-0.216px;">35°</div>
<div style="position:absolute;left:197.50px;top:84.10px;width:188.00px;height:19.00px;line-height:19.00px;text-align:left;color:#000;z-index:8;white-space:nowrap;box-sizing:border-box;padding-left:3px;font-weight:bold;letter-spacing:-0.577px;">Hour</div>
<div style="position:absolute;left:385.50px;top:84.10px;width:40.00px;height:19.00px;line-height:19.00px;text-align:right;color:#FF0000;z-index:8;white-space:nowrap;box-sizing:border-box;padding-right:3px;letter-spacing:-0.160px;">20</div>
<div style="position:absolute;left:425.50px;top:84.10px;width:55.50px;height:19.00px;line-height:19.00px;text-align:right;color:#000;z-index:8;white-space:nowrap;box-sizing:border-box;padding-right:3px;font-weight:bold;letter-spacing:-0.382px;">&gt;55°</div>
<div style="position:absolute;left:481.00px;top:84.10px;width:59.50px;height:19.00px;line-height:19.00px;text-align:left;color:#000;z-index:8;white-space:nowrap;box-sizing:border-box;padding-left:3px;letter-spacing:-1.139px;">UTC</div>
<div style="position:absolute;left:540.50px;top:84.10px;width:72.00px;height:19.00px;line-height:19.00px;text-align:right;color:#FF0000;z-index:8;white-space:nowrap;box-sizing:border-box;padding-right:3px;letter-spacing:-0.160px;">1</div>
<div style="position:absolute;left:684.50px;top:84.10px;width:72.00px;height:19.00px;line-height:19.00px;text-align:left;color:#000;z-index:8;white-space:nowrap;box-sizing:border-box;padding-left:3px;letter-spacing:-0.279px;">Lat</div>
<div style="position:absolute;left:756.50px;top:84.10px;width:54.00px;height:19.00px;line-height:19.00px;text-align:right;color:#FF0000;z-index:8;white-space:nowrap;box-sizing:border-box;padding-right:3px;letter-spacing:-0.150px;">44.6493</div>
<div style="position:absolute;left:919.50px;top:84.10px;width:43.00px;height:19.00px;line-height:19.00px;text-align:center;color:#000;z-index:8;white-space:nowrap;box-sizing:border-box;padding-left:0px;font-weight:bold;letter-spacing:-0.101px;">-</div>
<div style="position:absolute;left:962.50px;top:84.10px;width:52.00px;height:19.00px;line-height:19.00px;text-align:right;color:#000;z-index:8;white-space:nowrap;box-sizing:border-box;padding-right:3px;font-weight:bold;letter-spacing:-0.302px;">&lt;(10)°</div>
<div style="position:absolute;left:1066.50px;top:84.10px;width:51.50px;height:19.00px;line-height:19.00px;text-align:right;color:#000;z-index:8;white-space:nowrap;box-sizing:border-box;padding-right:3px;font-weight:bold;letter-spacing:-0.352px;">&gt;120°</div>
<div style="position:absolute;left:1118.00px;top:84.10px;width:155.50px;height:19.00px;line-height:19.00px;text-align:left;color:#000;z-index:8;white-space:nowrap;box-sizing:border-box;padding-left:7px;letter-spacing:-0.719px;">OK LRGBO and HaSii</div>
<div style="position:absolute;left:197.50px;top:103.10px;width:188.00px;height:18.70px;line-height:18.70px;text-align:left;color:#000;z-index:8;white-space:nowrap;box-sizing:border-box;padding-left:3px;font-weight:bold;letter-spacing:-0.381px;">Minutes</div>
<div style="position:absolute;left:385.50px;top:103.10px;width:40.00px;height:18.70px;line-height:18.70px;text-align:right;color:#FF0000;z-index:8;white-space:nowrap;box-sizing:border-box;padding-right:3px;letter-spacing:-0.160px;">40</div>
<div style="position:absolute;left:481.00px;top:103.10px;width:59.50px;height:18.70px;line-height:18.70px;text-align:left;color:#000;z-index:8;white-space:nowrap;box-sizing:border-box;padding-left:3px;letter-spacing:-0.551px;">DST (Y/N)</div>
<div style="position:absolute;left:540.50px;top:103.10px;width:72.00px;height:18.70px;line-height:18.70px;text-align:right;color:#FF0000;z-index:8;white-space:nowrap;box-sizing:border-box;padding-right:3px;letter-spacing:-1.808px;">Y</div>
<div style="position:absolute;left:684.50px;top:103.10px;width:72.00px;height:18.70px;line-height:18.70px;text-align:left;color:#000;z-index:8;white-space:nowrap;box-sizing:border-box;padding-left:3px;letter-spacing:-0.440px;">Long</div>
<div style="position:absolute;left:756.50px;top:103.10px;width:54.00px;height:18.70px;line-height:18.70px;text-align:right;color:#FF0000;z-index:8;white-space:nowrap;box-sizing:border-box;padding-right:3px;letter-spacing:-0.132px;">-1.194</div>
<div style="position:absolute;left:425.50px;top:140.60px;width:55.50px;height:18.80px;line-height:18.80px;text-align:center;color:#000;z-index:8;white-space:nowrap;box-sizing:border-box;padding-left:0px;font-weight:bold;letter-spacing:-0.055px;">Min</div>
<div style="position:absolute;left:481.00px;top:140.60px;width:59.50px;height:18.80px;line-height:18.80px;text-align:center;color:#000;z-index:8;white-space:nowrap;box-sizing:border-box;padding-left:0px;font-weight:bold;letter-spacing:-0.924px;">Av</div>
<div style="position:absolute;left:810.50px;top:140.60px;width:55.00px;height:18.80px;line-height:18.80px;text-align:center;color:#000;z-index:8;white-space:nowrap;box-sizing:border-box;padding-left:0px;font-weight:bold;letter-spacing:-1.762px;">LRGB</div>
<div style="position:absolute;left:865.50px;top:140.60px;width:54.00px;height:18.80px;line-height:18.80px;text-align:center;color:#000;z-index:8;white-space:nowrap;box-sizing:border-box;padding-left:0px;font-weight:bold;letter-spacing:-0.680px;">Ha</div>
<div style="position:absolute;left:919.50px;top:140.60px;width:43.00px;height:18.80px;line-height:18.80px;text-align:center;color:#000;z-index:8;white-space:nowrap;box-sizing:border-box;padding-left:0px;font-weight:bold;letter-spacing:-0.254px;">Moon</div>
<div style="position:absolute;left:1066.50px;top:140.60px;width:51.50px;height:18.80px;line-height:18.80px;text-align:center;color:#000;z-index:8;white-space:nowrap;box-sizing:border-box;padding-left:0px;font-weight:bold;letter-spacing:-0.728px;">Av Dist</div>
<div style="position:absolute;left:962.50px;top:140.60px;width:104.00px;height:18.80px;line-height:18.80px;text-align:center;color:#000;z-index:8;white-space:nowrap;box-sizing:border-box;padding-left:0px;font-weight:bold;letter-spacing:-0.401px;">Moon Start</div>
<div style="position:absolute;left:1273.50px;top:140.60px;width:82.00px;height:18.80px;line-height:18.80px;text-align:right;color:#000;z-index:8;white-space:nowrap;box-sizing:border-box;padding-right:11px;font-weight:bold;letter-spacing:-0.326px;">Total</div>
<div style="position:absolute;left:1355.50px;top:140.60px;width:52.00px;height:18.80px;line-height:18.80px;text-align:left;color:#000;z-index:8;white-space:nowrap;box-sizing:border-box;padding-left:7px;font-weight:bold;letter-spacing:-2.058px;">L</div>
<div style="position:absolute;left:1407.50px;top:140.60px;width:52.00px;height:18.80px;line-height:18.80px;text-align:left;color:#000;z-index:8;white-space:nowrap;box-sizing:border-box;padding-left:7px;font-weight:bold;letter-spacing:-1.824px;">R</div>
<div style="position:absolute;left:1459.50px;top:140.60px;width:52.00px;height:18.80px;line-height:18.80px;text-align:left;color:#000;z-index:8;white-space:nowrap;box-sizing:border-box;padding-left:7px;font-weight:bold;letter-spacing:-1.354px;">G</div>
<div style="position:absolute;left:23.50px;top:159.40px;width:102.00px;height:18.70px;line-height:18.70px;text-align:left;color:#000;z-index:8;white-space:nowrap;box-sizing:border-box;padding-left:3px;font-weight:bold;letter-spacing:-0.623px;">Comment</div>
<div style="position:absolute;left:125.50px;top:159.40px;width:35.50px;height:18.70px;line-height:18.70px;text-align:center;color:#000;z-index:8;white-space:nowrap;box-sizing:border-box;padding-left:0px;font-weight:bold;letter-spacing:-0.491px;">Tier</div>
<div style="position:absolute;left:161.00px;top:159.40px;width:36.50px;height:18.70px;line-height:18.70px;text-align:center;color:#000;z-index:8;white-space:nowrap;box-sizing:border-box;padding-left:0px;font-weight:bold;letter-spacing:-0.345px;">#</div>
<div style="position:absolute;left:197.50px;top:159.40px;width:188.00px;height:18.70px;line-height:18.70px;text-align:left;color:#000;z-index:8;white-space:nowrap;box-sizing:border-box;padding-left:3px;font-weight:bold;letter-spacing:-0.424px;">Target</div>
<div style="position:absolute;left:425.50px;top:159.40px;width:55.50px;height:18.70px;line-height:18.70px;text-align:center;color:#000;z-index:8;white-space:nowrap;box-sizing:border-box;padding-left:0px;font-weight:bold;letter-spacing:-1.218px;">ALT</div>
<div style="position:absolute;left:481.00px;top:159.40px;width:59.50px;height:18.70px;line-height:18.70px;text-align:center;color:#000;z-index:8;white-space:nowrap;box-sizing:border-box;padding-left:0px;font-weight:bold;letter-spacing:-1.218px;">ALT</div>
<div style="position:absolute;left:540.50px;top:159.40px;width:72.00px;height:18.70px;line-height:18.70px;text-align:center;color:#000;z-index:8;white-space:nowrap;box-sizing:border-box;padding-left:0px;font-weight:bold;letter-spacing:-0.503px;">Start</div>
<div style="position:absolute;left:612.50px;top:159.40px;width:72.00px;height:18.70px;line-height:18.70px;text-align:center;color:#000;z-index:8;white-space:nowrap;box-sizing:border-box;padding-left:0px;font-weight:bold;letter-spacing:-0.306px;">Meridian</div>
<div style="position:absolute;left:684.50px;top:159.40px;width:72.00px;height:18.70px;line-height:18.70px;text-align:center;color:#000;z-index:8;white-space:nowrap;box-sizing:border-box;padding-left:0px;font-weight:bold;letter-spacing:-1.064px;">End</div>
<div style="position:absolute;left:810.50px;top:159.40px;width:55.00px;height:18.70px;line-height:18.70px;text-align:center;color:#000;z-index:8;white-space:nowrap;box-sizing:border-box;padding-left:0px;font-weight:bold;letter-spacing:-0.333px;">OIII</div>
<div style="position:absolute;left:865.50px;top:159.40px;width:54.00px;height:18.70px;line-height:18.70px;text-align:center;color:#000;z-index:8;white-space:nowrap;box-sizing:border-box;padding-left:0px;font-weight:bold;letter-spacing:-0.834px;">SII</div>
<div style="position:absolute;left:919.50px;top:159.40px;width:43.00px;height:18.70px;line-height:18.70px;text-align:center;color:#000;z-index:8;white-space:nowrap;box-sizing:border-box;padding-left:0px;font-weight:bold;letter-spacing:-0.434px;">Illum</div>
<div style="position:absolute;left:962.50px;top:159.40px;width:52.00px;height:18.70px;line-height:18.70px;text-align:center;color:#000;z-index:8;white-space:nowrap;box-sizing:border-box;padding-left:0px;font-weight:bold;letter-spacing:-1.218px;">ALT</div>
<div style="position:absolute;left:1014.50px;top:159.40px;width:52.00px;height:18.70px;line-height:18.70px;text-align:center;color:#000;z-index:8;white-space:nowrap;box-sizing:border-box;padding-left:0px;font-weight:bold;letter-spacing:-1.387px;">AZ</div>
<div style="position:absolute;left:1066.50px;top:159.40px;width:51.50px;height:18.70px;line-height:18.70px;text-align:center;color:#000;z-index:8;white-space:nowrap;box-sizing:border-box;padding-left:0px;font-weight:bold;letter-spacing:-0.503px;">Start</div>
<div style="position:absolute;left:756.50px;top:159.40px;width:54.00px;height:18.70px;line-height:18.70px;text-align:center;color:#000;z-index:8;white-space:nowrap;box-sizing:border-box;padding-left:0px;font-weight:bold;letter-spacing:-0.392px;">Delta</div>
<div style="position:absolute;left:161.00px;top:177.60px;width:36.50px;height:18.81px;line-height:18.81px;text-align:right;color:#000;z-index:8;white-space:nowrap;box-sizing:border-box;padding-right:3px;letter-spacing:-0.160px;">1</div>
<div style="position:absolute;left:197.50px;top:177.60px;width:188.00px;height:18.81px;line-height:18.81px;text-align:left;color:#000;z-index:8;white-space:nowrap;box-sizing:border-box;padding-left:3px;letter-spacing:-0.509px;">SH2-170</div>
<div style="position:absolute;left:1118.00px;top:177.60px;width:155.50px;height:18.81px;line-height:18.81px;text-align:left;color:#000;z-index:8;white-space:nowrap;box-sizing:border-box;padding-left:3px;letter-spacing:-0.509px;overflow:hidden;">SH2-170</div>
<div style="position:absolute;left:1355.50px;top:177.60px;width:52.00px;height:18.81px;line-height:18.81px;text-align:right;color:#000;z-index:8;white-space:nowrap;box-sizing:border-box;padding-right:21px;letter-spacing:-0.060px;">-</div>
<div style="position:absolute;left:1407.50px;top:177.60px;width:52.00px;height:18.81px;line-height:18.81px;text-align:right;color:#000;z-index:8;white-space:nowrap;box-sizing:border-box;padding-right:21px;letter-spacing:-0.060px;">-</div>
<div style="position:absolute;left:1459.50px;top:177.60px;width:52.00px;height:18.81px;line-height:18.81px;text-align:right;color:#000;z-index:8;white-space:nowrap;box-sizing:border-box;padding-right:21px;letter-spacing:-0.060px;">-</div>
<div style="position:absolute;left:425.50px;top:177.60px;width:55.50px;height:18.81px;line-height:18.81px;text-align:left;color:#FFFFFF;z-index:8;white-space:nowrap;box-sizing:border-box;padding-left:12.5px;letter-spacing:-0.216px;">35°</div>
<div style="position:absolute;left:481.00px;top:177.60px;width:59.50px;height:18.81px;line-height:18.81px;text-align:left;color:#9C5700;z-index:8;white-space:nowrap;box-sizing:border-box;padding-left:12px;letter-spacing:-0.216px;">54°</div>
<div style="position:absolute;left:540.50px;top:177.60px;width:72.00px;height:18.81px;line-height:18.81px;text-align:right;color:#006100;z-index:8;white-space:nowrap;box-sizing:border-box;padding-right:3px;letter-spacing:-0.106px;">23:10</div>
<div style="position:absolute;left:684.50px;top:177.60px;width:72.00px;height:18.81px;line-height:18.81px;text-align:right;color:#006100;z-index:8;white-space:nowrap;box-sizing:border-box;padding-right:3px;letter-spacing:-0.106px;">05:26</div>
<div style="position:absolute;left:756.50px;top:177.60px;width:54.00px;height:18.81px;line-height:18.81px;text-align:right;color:#000;z-index:8;white-space:nowrap;box-sizing:border-box;padding-right:6.5px;letter-spacing:-0.160px;">376</div>
<div style="position:absolute;left:919.50px;top:177.60px;width:43.00px;height:18.81px;line-height:18.81px;text-align:right;color:#FFFFFF;z-index:8;white-space:nowrap;box-sizing:border-box;padding-right:3px;letter-spacing:-0.617px;">99%</div>
<div style="position:absolute;left:962.50px;top:177.60px;width:52.00px;height:18.81px;line-height:18.81px;text-align:right;color:#9C5700;z-index:8;white-space:nowrap;box-sizing:border-box;padding-right:3px;letter-spacing:-0.244px;">5°</div>
<div style="position:absolute;left:1014.50px;top:177.60px;width:52.00px;height:18.81px;line-height:18.81px;text-align:right;color:#9C5700;z-index:8;white-space:nowrap;box-sizing:border-box;padding-right:3px;letter-spacing:-0.202px;">128°</div>
<div style="position:absolute;left:1066.50px;top:177.60px;width:51.50px;height:18.81px;line-height:18.81px;text-align:right;color:#9C5700;z-index:8;white-space:nowrap;box-sizing:border-box;padding-right:3px;letter-spacing:-0.216px;">93°</div>
<div style="position:absolute;left:161.00px;top:196.41px;width:36.50px;height:18.81px;line-height:18.81px;text-align:right;color:#000;z-index:8;white-space:nowrap;box-sizing:border-box;padding-right:3px;letter-spacing:-0.160px;">2</div>
<div style="position:absolute;left:197.50px;top:196.41px;width:188.00px;height:18.81px;line-height:18.81px;text-align:left;color:#000;z-index:8;white-space:nowrap;box-sizing:border-box;padding-left:3px;letter-spacing:-0.280px;">NGC 7814 (The Little Sombrero G)</div>
<div style="position:absolute;left:1118.00px;top:196.41px;width:155.50px;height:18.81px;line-height:18.81px;text-align:left;color:#000;z-index:8;white-space:nowrap;box-sizing:border-box;padding-left:3px;letter-spacing:-0.280px;overflow:hidden;">NGC 7814 (The Little Sombrero G)</div>
<div style="position:absolute;left:1355.50px;top:196.41px;width:52.00px;height:18.81px;line-height:18.81px;text-align:right;color:#000;z-index:8;white-space:nowrap;box-sizing:border-box;padding-right:21px;letter-spacing:-0.060px;">-</div>
<div style="position:absolute;left:1407.50px;top:196.41px;width:52.00px;height:18.81px;line-height:18.81px;text-align:right;color:#000;z-index:8;white-space:nowrap;box-sizing:border-box;padding-right:21px;letter-spacing:-0.060px;">-</div>
<div style="position:absolute;left:1459.50px;top:196.41px;width:52.00px;height:18.81px;line-height:18.81px;text-align:right;color:#000;z-index:8;white-space:nowrap;box-sizing:border-box;padding-right:21px;letter-spacing:-0.060px;">-</div>
<div style="position:absolute;left:425.50px;top:196.41px;width:55.50px;height:18.81px;line-height:18.81px;text-align:left;color:#FFFFFF;z-index:8;white-space:nowrap;box-sizing:border-box;padding-left:12.5px;letter-spacing:-0.216px;">35°</div>
<div style="position:absolute;left:481.00px;top:196.41px;width:59.50px;height:18.81px;line-height:18.81px;text-align:left;color:#9C5700;z-index:8;white-space:nowrap;box-sizing:border-box;padding-left:12px;letter-spacing:-0.216px;">50°</div>
<div style="position:absolute;left:540.50px;top:196.41px;width:72.00px;height:18.81px;line-height:18.81px;text-align:right;color:#006100;z-index:8;white-space:nowrap;box-sizing:border-box;padding-right:3px;letter-spacing:-0.106px;">02:13</div>
<div style="position:absolute;left:684.50px;top:196.41px;width:72.00px;height:18.81px;line-height:18.81px;text-align:right;color:#006100;z-index:8;white-space:nowrap;box-sizing:border-box;padding-right:3px;letter-spacing:-0.106px;">05:26</div>
<div style="position:absolute;left:756.50px;top:196.41px;width:54.00px;height:18.81px;line-height:18.81px;text-align:right;color:#000;z-index:8;white-space:nowrap;box-sizing:border-box;padding-right:6.5px;letter-spacing:-0.160px;">193</div>
<div style="position:absolute;left:919.50px;top:196.41px;width:43.00px;height:18.81px;line-height:18.81px;text-align:right;color:#FFFFFF;z-index:8;white-space:nowrap;box-sizing:border-box;padding-right:3px;letter-spacing:-0.617px;">99%</div>
<div style="position:absolute;left:962.50px;top:196.41px;width:52.00px;height:18.81px;line-height:18.81px;text-align:right;color:#FFFFFF;z-index:8;white-space:nowrap;box-sizing:border-box;padding-right:3px;letter-spacing:-0.216px;">22°</div>
<div style="position:absolute;left:1014.50px;top:196.41px;width:52.00px;height:18.81px;line-height:18.81px;text-align:right;color:#FFFFFF;z-index:8;white-space:nowrap;box-sizing:border-box;padding-right:3px;letter-spacing:-0.202px;">167°</div>
<div style="position:absolute;left:1066.50px;top:196.41px;width:51.50px;height:18.81px;line-height:18.81px;text-align:right;color:#FFFFFF;z-index:8;white-space:nowrap;box-sizing:border-box;padding-right:3px;letter-spacing:-0.216px;">57°</div>
<div style="position:absolute;left:161.00px;top:215.22px;width:36.50px;height:18.81px;line-height:18.81px;text-align:right;color:#000;z-index:8;white-space:nowrap;box-sizing:border-box;padding-right:3px;letter-spacing:-0.160px;">3</div>
<div style="position:absolute;left:197.50px;top:215.22px;width:188.00px;height:18.81px;line-height:18.81px;text-align:left;color:#000;z-index:8;white-space:nowrap;box-sizing:border-box;padding-left:3px;letter-spacing:-0.577px;">NGC 7822</div>
<div style="position:absolute;left:1118.00px;top:215.22px;width:155.50px;height:18.81px;line-height:18.81px;text-align:left;color:#000;z-index:8;white-space:nowrap;box-sizing:border-box;padding-left:3px;letter-spacing:-0.577px;overflow:hidden;">NGC 7822</div>
<div style="position:absolute;left:1355.50px;top:215.22px;width:52.00px;height:18.81px;line-height:18.81px;text-align:right;color:#000;z-index:8;white-space:nowrap;box-sizing:border-box;padding-right:21px;letter-spacing:-0.060px;">-</div>
<div style="position:absolute;left:1407.50px;top:215.22px;width:52.00px;height:18.81px;line-height:18.81px;text-align:right;color:#000;z-index:8;white-space:nowrap;box-sizing:border-box;padding-right:21px;letter-spacing:-0.060px;">-</div>
<div style="position:absolute;left:1459.50px;top:215.22px;width:52.00px;height:18.81px;line-height:18.81px;text-align:right;color:#000;z-index:8;white-space:nowrap;box-sizing:border-box;padding-right:21px;letter-spacing:-0.060px;">-</div>
<div style="position:absolute;left:425.50px;top:215.22px;width:55.50px;height:18.81px;line-height:18.81px;text-align:left;color:#FFFFFF;z-index:8;white-space:nowrap;box-sizing:border-box;padding-left:12.5px;letter-spacing:-0.216px;">36°</div>
<div style="position:absolute;left:481.00px;top:215.22px;width:59.50px;height:18.81px;line-height:18.81px;text-align:left;color:#9C5700;z-index:8;white-space:nowrap;box-sizing:border-box;padding-left:12px;letter-spacing:-0.216px;">52°</div>
<div style="position:absolute;left:540.50px;top:215.22px;width:72.00px;height:18.81px;line-height:18.81px;text-align:right;color:#006100;z-index:8;white-space:nowrap;box-sizing:border-box;padding-right:3px;letter-spacing:-0.106px;">22:58</div>
<div style="position:absolute;left:684.50px;top:215.22px;width:72.00px;height:18.81px;line-height:18.81px;text-align:right;color:#006100;z-index:8;white-space:nowrap;box-sizing:border-box;padding-right:3px;letter-spacing:-0.106px;">05:26</div>
<div style="position:absolute;left:756.50px;top:215.22px;width:54.00px;height:18.81px;line-height:18.81px;text-align:right;color:#000;z-index:8;white-space:nowrap;box-sizing:border-box;padding-right:6.5px;letter-spacing:-0.160px;">388</div>
<div style="position:absolute;left:919.50px;top:215.22px;width:43.00px;height:18.81px;line-height:18.81px;text-align:right;color:#FFFFFF;z-index:8;white-space:nowrap;box-sizing:border-box;padding-right:3px;letter-spacing:-0.617px;">99%</div>
<div style="position:absolute;left:962.50px;top:215.22px;width:52.00px;height:18.81px;line-height:18.81px;text-align:right;color:#9C5700;z-index:8;white-space:nowrap;box-sizing:border-box;padding-right:3px;letter-spacing:-0.244px;">3°</div>
<div style="position:absolute;left:1014.50px;top:215.22px;width:52.00px;height:18.81px;line-height:18.81px;text-align:right;color:#9C5700;z-index:8;white-space:nowrap;box-sizing:border-box;padding-right:3px;letter-spacing:-0.202px;">126°</div>
<div style="position:absolute;left:1066.50px;top:215.22px;width:51.50px;height:18.81px;line-height:18.81px;text-align:right;color:#9C5700;z-index:8;white-space:nowrap;box-sizing:border-box;padding-right:3px;letter-spacing:-0.216px;">96°</div>
<div style="position:absolute;left:161.00px;top:234.03px;width:36.50px;height:18.81px;line-height:18.81px;text-align:right;color:#000;z-index:8;white-space:nowrap;box-sizing:border-box;padding-right:3px;letter-spacing:-0.160px;">4</div>
<div style="position:absolute;left:197.50px;top:234.03px;width:188.00px;height:18.81px;line-height:18.81px;text-align:left;color:#000;z-index:8;white-space:nowrap;box-sizing:border-box;padding-left:3px;letter-spacing:-0.620px;">NGC 70 (G)</div>
<div style="position:absolute;left:1118.00px;top:234.03px;width:155.50px;height:18.81px;line-height:18.81px;text-align:left;color:#000;z-index:8;white-space:nowrap;box-sizing:border-box;padding-left:3px;letter-spacing:-0.620px;overflow:hidden;">NGC 70 (G)</div>
<div style="position:absolute;left:1355.50px;top:234.03px;width:52.00px;height:18.81px;line-height:18.81px;text-align:right;color:#000;z-index:8;white-space:nowrap;box-sizing:border-box;padding-right:21px;letter-spacing:-0.060px;">-</div>
<div style="position:absolute;left:1407.50px;top:234.03px;width:52.00px;height:18.81px;line-height:18.81px;text-align:right;color:#000;z-index:8;white-space:nowrap;box-sizing:border-box;padding-right:21px;letter-spacing:-0.060px;">-</div>
<div style="position:absolute;left:1459.50px;top:234.03px;width:52.00px;height:18.81px;line-height:18.81px;text-align:right;color:#000;z-index:8;white-space:nowrap;box-sizing:border-box;padding-right:21px;letter-spacing:-0.060px;">-</div>
<div style="position:absolute;left:425.50px;top:234.03px;width:55.50px;height:18.81px;line-height:18.81px;text-align:left;color:#FFFFFF;z-index:8;white-space:nowrap;box-sizing:border-box;padding-left:12.5px;letter-spacing:-0.216px;">35°</div>
<div style="position:absolute;left:481.00px;top:234.03px;width:59.50px;height:18.81px;line-height:18.81px;text-align:left;color:#9C5700;z-index:8;white-space:nowrap;box-sizing:border-box;padding-left:12px;letter-spacing:-0.216px;">55°</div>
<div style="position:absolute;left:540.50px;top:234.03px;width:72.00px;height:18.81px;line-height:18.81px;text-align:right;color:#006100;z-index:8;white-space:nowrap;box-sizing:border-box;padding-right:3px;letter-spacing:-0.106px;">01:37</div>
<div style="position:absolute;left:684.50px;top:234.03px;width:72.00px;height:18.81px;line-height:18.81px;text-align:right;color:#006100;z-index:8;white-space:nowrap;box-sizing:border-box;padding-right:3px;letter-spacing:-0.106px;">05:26</div>
<div style="position:absolute;left:756.50px;top:234.03px;width:54.00px;height:18.81px;line-height:18.81px;text-align:right;color:#000;z-index:8;white-space:nowrap;box-sizing:border-box;padding-right:6.5px;letter-spacing:-0.160px;">228</div>
<div style="position:absolute;left:919.50px;top:234.03px;width:43.00px;height:18.81px;line-height:18.81px;text-align:right;color:#FFFFFF;z-index:8;white-space:nowrap;box-sizing:border-box;padding-right:3px;letter-spacing:-0.617px;">99%</div>
<div style="position:absolute;left:962.50px;top:234.03px;width:52.00px;height:18.81px;line-height:18.81px;text-align:right;color:#FFFFFF;z-index:8;white-space:nowrap;box-sizing:border-box;padding-right:3px;letter-spacing:-0.216px;">21°</div>
<div style="position:absolute;left:1014.50px;top:234.03px;width:52.00px;height:18.81px;line-height:18.81px;text-align:right;color:#9C5700;z-index:8;white-space:nowrap;box-sizing:border-box;padding-right:3px;letter-spacing:-0.202px;">158°</div>
<div style="position:absolute;left:1066.50px;top:234.03px;width:51.50px;height:18.81px;line-height:18.81px;text-align:right;color:#9C5700;z-index:8;white-space:nowrap;box-sizing:border-box;padding-right:3px;letter-spacing:-0.216px;">69°</div>
<div style="position:absolute;left:161.00px;top:252.84px;width:36.50px;height:18.81px;line-height:18.81px;text-align:right;color:#000;z-index:8;white-space:nowrap;box-sizing:border-box;padding-right:3px;letter-spacing:-0.160px;">5</div>
<div style="position:absolute;left:197.50px;top:252.84px;width:188.00px;height:18.81px;line-height:18.81px;text-align:left;color:#000;z-index:8;white-space:nowrap;box-sizing:border-box;padding-left:3px;letter-spacing:-0.509px;">SH2-173</div>
<div style="position:absolute;left:1118.00px;top:252.84px;width:155.50px;height:18.81px;line-height:18.81px;text-align:left;color:#000;z-index:8;white-space:nowrap;box-sizing:border-box;padding-left:3px;letter-spacing:-0.509px;overflow:hidden;">SH2-173</div>
<div style="position:absolute;left:1355.50px;top:252.84px;width:52.00px;height:18.81px;line-height:18.81px;text-align:right;color:#000;z-index:8;white-space:nowrap;box-sizing:border-box;padding-right:21px;letter-spacing:-0.060px;">-</div>
<div style="position:absolute;left:1407.50px;top:252.84px;width:52.00px;height:18.81px;line-height:18.81px;text-align:right;color:#000;z-index:8;white-space:nowrap;box-sizing:border-box;padding-right:21px;letter-spacing:-0.060px;">-</div>
<div style="position:absolute;left:1459.50px;top:252.84px;width:52.00px;height:18.81px;line-height:18.81px;text-align:right;color:#000;z-index:8;white-space:nowrap;box-sizing:border-box;padding-right:21px;letter-spacing:-0.060px;">-</div>
<div style="position:absolute;left:425.50px;top:252.84px;width:55.50px;height:18.81px;line-height:18.81px;text-align:left;color:#FFFFFF;z-index:8;white-space:nowrap;box-sizing:border-box;padding-left:12.5px;letter-spacing:-0.216px;">35°</div>
<div style="position:absolute;left:481.00px;top:252.84px;width:59.50px;height:18.81px;line-height:18.81px;text-align:left;color:#9C5700;z-index:8;white-space:nowrap;box-sizing:border-box;padding-left:12px;letter-spacing:-0.216px;">54°</div>
<div style="position:absolute;left:540.50px;top:252.84px;width:72.00px;height:18.81px;line-height:18.81px;text-align:right;color:#006100;z-index:8;white-space:nowrap;box-sizing:border-box;padding-right:3px;letter-spacing:-0.106px;">23:46</div>
<div style="position:absolute;left:684.50px;top:252.84px;width:72.00px;height:18.81px;line-height:18.81px;text-align:right;color:#006100;z-index:8;white-space:nowrap;box-sizing:border-box;padding-right:3px;letter-spacing:-0.106px;">05:26</div>
<div style="position:absolute;left:756.50px;top:252.84px;width:54.00px;height:18.81px;line-height:18.81px;text-align:right;color:#000;z-index:8;white-space:nowrap;box-sizing:border-box;padding-right:6.5px;letter-spacing:-0.160px;">339</div>
<div style="position:absolute;left:919.50px;top:252.84px;width:43.00px;height:18.81px;line-height:18.81px;text-align:right;color:#FFFFFF;z-index:8;white-space:nowrap;box-sizing:border-box;padding-right:3px;letter-spacing:-0.617px;">99%</div>
<div style="position:absolute;left:962.50px;top:252.84px;width:52.00px;height:18.81px;line-height:18.81px;text-align:right;color:#9C5700;z-index:8;white-space:nowrap;box-sizing:border-box;padding-right:3px;letter-spacing:-0.216px;">10°</div>
<div style="position:absolute;left:1014.50px;top:252.84px;width:52.00px;height:18.81px;line-height:18.81px;text-align:right;color:#9C5700;z-index:8;white-space:nowrap;box-sizing:border-box;padding-right:3px;letter-spacing:-0.202px;">135°</div>
<div style="position:absolute;left:1066.50px;top:252.84px;width:51.50px;height:18.81px;line-height:18.81px;text-align:right;color:#9C5700;z-index:8;white-space:nowrap;box-sizing:border-box;padding-right:3px;letter-spacing:-0.216px;">93°</div>
<div style="position:absolute;left:161.00px;top:271.65px;width:36.50px;height:18.81px;line-height:18.81px;text-align:right;color:#000;z-index:8;white-space:nowrap;box-sizing:border-box;padding-right:3px;letter-spacing:-0.160px;">6</div>
<div style="position:absolute;left:197.50px;top:271.65px;width:188.00px;height:18.81px;line-height:18.81px;text-align:left;color:#000;z-index:8;white-space:nowrap;box-sizing:border-box;padding-left:3px;letter-spacing:-0.109px;">M31 (Andromeda G)</div>
<div style="position:absolute;left:1118.00px;top:271.65px;width:155.50px;height:18.81px;line-height:18.81px;text-align:left;color:#000;z-index:8;white-space:nowrap;box-sizing:border-box;padding-left:3px;letter-spacing:-0.109px;overflow:hidden;">M31 (Andromeda G)</div>
<div style="position:absolute;left:1355.50px;top:271.65px;width:52.00px;height:18.81px;line-height:18.81px;text-align:right;color:#000;z-index:8;white-space:nowrap;box-sizing:border-box;padding-right:21px;letter-spacing:-0.060px;">-</div>
<div style="position:absolute;left:1407.50px;top:271.65px;width:52.00px;height:18.81px;line-height:18.81px;text-align:right;color:#000;z-index:8;white-space:nowrap;box-sizing:border-box;padding-right:21px;letter-spacing:-0.060px;">-</div>
<div style="position:absolute;left:1459.50px;top:271.65px;width:52.00px;height:18.81px;line-height:18.81px;text-align:right;color:#000;z-index:8;white-space:nowrap;box-sizing:border-box;padding-right:21px;letter-spacing:-0.060px;">-</div>
<div style="position:absolute;left:425.50px;top:271.65px;width:55.50px;height:18.81px;line-height:18.81px;text-align:left;color:#FFFFFF;z-index:8;white-space:nowrap;box-sizing:border-box;padding-left:12.5px;letter-spacing:-0.216px;">35°</div>
<div style="position:absolute;left:481.00px;top:271.65px;width:59.50px;height:18.81px;line-height:18.81px;text-align:left;color:#9C5700;z-index:8;white-space:nowrap;box-sizing:border-box;padding-left:12px;letter-spacing:-0.216px;">55°</div>
<div style="position:absolute;left:540.50px;top:271.65px;width:72.00px;height:18.81px;line-height:18.81px;text-align:right;color:#006100;z-index:8;white-space:nowrap;box-sizing:border-box;padding-right:3px;letter-spacing:-0.106px;">01:25</div>
<div style="position:absolute;left:684.50px;top:271.65px;width:72.00px;height:18.81px;line-height:18.81px;text-align:right;color:#006100;z-index:8;white-space:nowrap;box-sizing:border-box;padding-right:3px;letter-spacing:-0.106px;">05:26</div>
<div style="position:absolute;left:756.50px;top:271.65px;width:54.00px;height:18.81px;line-height:18.81px;text-align:right;color:#000;z-index:8;white-space:nowrap;box-sizing:border-box;padding-right:6.5px;letter-spacing:-0.160px;">241</div>
<div style="position:absolute;left:919.50px;top:271.65px;width:43.00px;height:18.81px;line-height:18.81px;text-align:right;color:#FFFFFF;z-index:8;white-space:nowrap;box-sizing:border-box;padding-right:3px;letter-spacing:-0.617px;">99%</div>
<div style="position:absolute;left:962.50px;top:271.65px;width:52.00px;height:18.81px;line-height:18.81px;text-align:right;color:#FFFFFF;z-index:8;white-space:nowrap;box-sizing:border-box;padding-right:3px;letter-spacing:-0.216px;">20°</div>
<div style="position:absolute;left:1014.50px;top:271.65px;width:52.00px;height:18.81px;line-height:18.81px;text-align:right;color:#9C5700;z-index:8;white-space:nowrap;box-sizing:border-box;padding-right:3px;letter-spacing:-0.202px;">155°</div>
<div style="position:absolute;left:1066.50px;top:271.65px;width:51.50px;height:18.81px;line-height:18.81px;text-align:right;color:#9C5700;z-index:8;white-space:nowrap;box-sizing:border-box;padding-right:3px;letter-spacing:-0.216px;">80°</div>
<div style="position:absolute;left:161.00px;top:290.46px;width:36.50px;height:18.81px;line-height:18.81px;text-align:right;color:#000;z-index:8;white-space:nowrap;box-sizing:border-box;padding-right:3px;letter-spacing:-0.160px;">7</div>
<div style="position:absolute;left:197.50px;top:290.46px;width:188.00px;height:18.81px;line-height:18.81px;text-align:left;color:#000;z-index:8;white-space:nowrap;box-sizing:border-box;padding-left:3px;letter-spacing:-0.486px;">NGC 281 (Pacman)</div>
<div style="position:absolute;left:1118.00px;top:290.46px;width:155.50px;height:18.81px;line-height:18.81px;text-align:left;color:#000;z-index:8;white-space:nowrap;box-sizing:border-box;padding-left:3px;letter-spacing:-0.486px;overflow:hidden;">NGC 281 (Pacman)</div>
<div style="position:absolute;left:1355.50px;top:290.46px;width:52.00px;height:18.81px;line-height:18.81px;text-align:right;color:#000;z-index:8;white-space:nowrap;box-sizing:border-box;padding-right:21px;letter-spacing:-0.060px;">-</div>
<div style="position:absolute;left:1407.50px;top:290.46px;width:52.00px;height:18.81px;line-height:18.81px;text-align:right;color:#000;z-index:8;white-space:nowrap;box-sizing:border-box;padding-right:21px;letter-spacing:-0.060px;">-</div>
<div style="position:absolute;left:1459.50px;top:290.46px;width:52.00px;height:18.81px;line-height:18.81px;text-align:right;color:#000;z-index:8;white-space:nowrap;box-sizing:border-box;padding-right:21px;letter-spacing:-0.060px;">-</div>
<div style="position:absolute;left:425.50px;top:290.46px;width:55.50px;height:18.81px;line-height:18.81px;text-align:left;color:#FFFFFF;z-index:8;white-space:nowrap;box-sizing:border-box;padding-left:12.5px;letter-spacing:-0.216px;">35°</div>
<div style="position:absolute;left:481.00px;top:290.46px;width:59.50px;height:18.81px;line-height:18.81px;text-align:left;color:#9C5700;z-index:8;white-space:nowrap;box-sizing:border-box;padding-left:12px;letter-spacing:-0.216px;">54°</div>
<div style="position:absolute;left:540.50px;top:290.46px;width:72.00px;height:18.81px;line-height:18.81px;text-align:right;color:#006100;z-index:8;white-space:nowrap;box-sizing:border-box;padding-right:3px;letter-spacing:-0.106px;">00:40</div>
<div style="position:absolute;left:684.50px;top:290.46px;width:72.00px;height:18.81px;line-height:18.81px;text-align:right;color:#006100;z-index:8;white-space:nowrap;box-sizing:border-box;padding-right:3px;letter-spacing:-0.106px;">05:26</div>
<div style="position:absolute;left:756.50px;top:290.46px;width:54.00px;height:18.81px;line-height:18.81px;text-align:right;color:#000;z-index:8;white-space:nowrap;box-sizing:border-box;padding-right:6.5px;letter-spacing:-0.160px;">286</div>
<div style="position:absolute;left:919.50px;top:290.46px;width:43.00px;height:18.81px;line-height:18.81px;text-align:right;color:#FFFFFF;z-index:8;white-space:nowrap;box-sizing:border-box;padding-right:3px;letter-spacing:-0.617px;">99%</div>
<div style="position:absolute;left:962.50px;top:290.46px;width:52.00px;height:18.81px;line-height:18.81px;text-align:right;color:#FFFFFF;z-index:8;white-space:nowrap;box-sizing:border-box;padding-right:3px;letter-spacing:-0.216px;">16°</div>
<div style="position:absolute;left:1014.50px;top:290.46px;width:52.00px;height:18.81px;line-height:18.81px;text-align:right;color:#9C5700;z-index:8;white-space:nowrap;box-sizing:border-box;padding-right:3px;letter-spacing:-0.202px;">146°</div>
<div style="position:absolute;left:1066.50px;top:290.46px;width:51.50px;height:18.81px;line-height:18.81px;text-align:right;color:#9C5700;z-index:8;white-space:nowrap;box-sizing:border-box;padding-right:3px;letter-spacing:-0.216px;">92°</div>
<div style="position:absolute;left:161.00px;top:309.27px;width:36.50px;height:18.81px;line-height:18.81px;text-align:right;color:#000;z-index:8;white-space:nowrap;box-sizing:border-box;padding-right:3px;letter-spacing:-0.160px;">8</div>
<div style="position:absolute;left:197.50px;top:309.27px;width:188.00px;height:18.81px;line-height:18.81px;text-align:left;color:#000;z-index:8;white-space:nowrap;box-sizing:border-box;padding-left:3px;letter-spacing:-0.416px;">IC 59 (Gamma Cassiope Neb)</div>
<div style="position:absolute;left:1118.00px;top:309.27px;width:155.50px;height:18.81px;line-height:18.81px;text-align:left;color:#000;z-index:8;white-space:nowrap;box-sizing:border-box;padding-left:3px;letter-spacing:-0.416px;overflow:hidden;">IC 59 (Gamma Cassiope Neb)</div>
<div style="position:absolute;left:1355.50px;top:309.27px;width:52.00px;height:18.81px;line-height:18.81px;text-align:right;color:#000;z-index:8;white-space:nowrap;box-sizing:border-box;padding-right:21px;letter-spacing:-0.060px;">-</div>
<div style="position:absolute;left:1407.50px;top:309.27px;width:52.00px;height:18.81px;line-height:18.81px;text-align:right;color:#000;z-index:8;white-space:nowrap;box-sizing:border-box;padding-right:21px;letter-spacing:-0.060px;">-</div>
<div style="position:absolute;left:1459.50px;top:309.27px;width:52.00px;height:18.81px;line-height:18.81px;text-align:right;color:#000;z-index:8;white-space:nowrap;box-sizing:border-box;padding-right:21px;letter-spacing:-0.060px;">-</div>
<div style="position:absolute;left:425.50px;top:309.27px;width:55.50px;height:18.81px;line-height:18.81px;text-align:left;color:#FFFFFF;z-index:8;white-space:nowrap;box-sizing:border-box;padding-left:12.5px;letter-spacing:-0.216px;">35°</div>
<div style="position:absolute;left:481.00px;top:309.27px;width:59.50px;height:18.81px;line-height:18.81px;text-align:left;color:#9C5700;z-index:8;white-space:nowrap;box-sizing:border-box;padding-left:12px;letter-spacing:-0.216px;">52°</div>
<div style="position:absolute;left:540.50px;top:309.27px;width:72.00px;height:18.81px;line-height:18.81px;text-align:right;color:#006100;z-index:8;white-space:nowrap;box-sizing:border-box;padding-right:3px;letter-spacing:-0.106px;">00:24</div>
<div style="position:absolute;left:684.50px;top:309.27px;width:72.00px;height:18.81px;line-height:18.81px;text-align:right;color:#006100;z-index:8;white-space:nowrap;box-sizing:border-box;padding-right:3px;letter-spacing:-0.106px;">05:26</div>
<div style="position:absolute;left:756.50px;top:309.27px;width:54.00px;height:18.81px;line-height:18.81px;text-align:right;color:#000;z-index:8;white-space:nowrap;box-sizing:border-box;padding-right:6.5px;letter-spacing:-0.160px;">302</div>
<div style="position:absolute;left:919.50px;top:309.27px;width:43.00px;height:18.81px;line-height:18.81px;text-align:right;color:#FFFFFF;z-index:8;white-space:nowrap;box-sizing:border-box;padding-right:3px;letter-spacing:-0.617px;">99%</div>
<div style="position:absolute;left:962.50px;top:309.27px;width:52.00px;height:18.81px;line-height:18.81px;text-align:right;color:#FFFFFF;z-index:8;white-space:nowrap;box-sizing:border-box;padding-right:3px;letter-spacing:-0.216px;">14°</div>
<div style="position:absolute;left:1014.50px;top:309.27px;width:52.00px;height:18.81px;line-height:18.81px;text-align:right;color:#9C5700;z-index:8;white-space:nowrap;box-sizing:border-box;padding-right:3px;letter-spacing:-0.202px;">142°</div>
<div style="position:absolute;left:1066.50px;top:309.27px;width:51.50px;height:18.81px;line-height:18.81px;text-align:right;color:#9C5700;z-index:8;white-space:nowrap;box-sizing:border-box;padding-right:3px;letter-spacing:-0.216px;">95°</div>
<div style="position:absolute;left:161.00px;top:328.08px;width:36.50px;height:18.81px;line-height:18.81px;text-align:right;color:#000;z-index:8;white-space:nowrap;box-sizing:border-box;padding-right:3px;letter-spacing:-0.160px;">9</div>
<div style="position:absolute;left:197.50px;top:328.08px;width:188.00px;height:18.81px;line-height:18.81px;text-align:left;color:#000;z-index:8;white-space:nowrap;box-sizing:border-box;padding-left:3px;letter-spacing:-0.579px;">NGC 474 (G)</div>
<div style="position:absolute;left:1118.00px;top:328.08px;width:155.50px;height:18.81px;line-height:18.81px;text-align:left;color:#000;z-index:8;white-space:nowrap;box-sizing:border-box;padding-left:3px;letter-spacing:-0.579px;overflow:hidden;">NGC 474 (G)</div>
<div style="position:absolute;left:1355.50px;top:328.08px;width:52.00px;height:18.81px;line-height:18.81px;text-align:right;color:#000;z-index:8;white-space:nowrap;box-sizing:border-box;padding-right:21px;letter-spacing:-0.060px;">-</div>
<div style="position:absolute;left:1407.50px;top:328.08px;width:52.00px;height:18.81px;line-height:18.81px;text-align:right;color:#000;z-index:8;white-space:nowrap;box-sizing:border-box;padding-right:21px;letter-spacing:-0.060px;">-</div>
<div style="position:absolute;left:1459.50px;top:328.08px;width:52.00px;height:18.81px;line-height:18.81px;text-align:right;color:#000;z-index:8;white-space:nowrap;box-sizing:border-box;padding-right:21px;letter-spacing:-0.060px;">-</div>
<div style="position:absolute;left:425.50px;top:328.08px;width:55.50px;height:18.81px;line-height:18.81px;text-align:left;color:#FFFFFF;z-index:8;white-space:nowrap;box-sizing:border-box;padding-left:12.5px;letter-spacing:-0.216px;">35°</div>
<div style="position:absolute;left:481.00px;top:328.08px;width:59.50px;height:18.81px;line-height:18.81px;text-align:left;color:#FFFFFF;z-index:8;white-space:nowrap;box-sizing:border-box;padding-left:12px;letter-spacing:-0.216px;">39°</div>
<div style="position:absolute;left:540.50px;top:328.08px;width:72.00px;height:18.81px;line-height:18.81px;text-align:right;color:#FFFFFF;z-index:8;white-space:nowrap;box-sizing:border-box;padding-right:3px;letter-spacing:-0.106px;">04:28</div>
<div style="position:absolute;left:684.50px;top:328.08px;width:72.00px;height:18.81px;line-height:18.81px;text-align:right;color:#FFFFFF;z-index:8;white-space:nowrap;box-sizing:border-box;padding-right:3px;letter-spacing:-0.106px;">05:26</div>
<div style="position:absolute;left:756.50px;top:328.08px;width:54.00px;height:18.81px;line-height:18.81px;text-align:right;color:#000;z-index:8;white-space:nowrap;box-sizing:border-box;padding-right:6.5px;letter-spacing:-0.160px;">57</div>
<div style="position:absolute;left:919.50px;top:328.08px;width:43.00px;height:18.81px;line-height:18.81px;text-align:right;color:#FFFFFF;z-index:8;white-space:nowrap;box-sizing:border-box;padding-right:3px;letter-spacing:-0.617px;">99%</div>
<div style="position:absolute;left:962.50px;top:328.08px;width:52.00px;height:18.81px;line-height:18.81px;text-align:right;color:#FFFFFF;z-index:8;white-space:nowrap;box-sizing:border-box;padding-right:3px;letter-spacing:-0.216px;">21°</div>
<div style="position:absolute;left:1014.50px;top:328.08px;width:52.00px;height:18.81px;line-height:18.81px;text-align:right;color:#9C5700;z-index:8;white-space:nowrap;box-sizing:border-box;padding-right:3px;letter-spacing:-0.202px;">200°</div>
<div style="position:absolute;left:1066.50px;top:328.08px;width:51.50px;height:18.81px;line-height:18.81px;text-align:right;color:#9C5700;z-index:8;white-space:nowrap;box-sizing:border-box;padding-right:3px;letter-spacing:-0.216px;">65°</div>
<div style="position:absolute;left:161.00px;top:346.89px;width:36.50px;height:18.81px;line-height:18.81px;text-align:right;color:#000;z-index:8;white-space:nowrap;box-sizing:border-box;padding-right:3px;letter-spacing:-0.160px;">10</div>
<div style="position:absolute;left:197.50px;top:346.89px;width:188.00px;height:18.81px;line-height:18.81px;text-align:left;color:#000;z-index:8;white-space:nowrap;box-sizing:border-box;padding-left:3px;letter-spacing:-0.579px;">NGC 488 (G)</div>
<div style="position:absolute;left:1118.00px;top:346.89px;width:155.50px;height:18.81px;line-height:18.81px;text-align:left;color:#000;z-index:8;white-space:nowrap;box-sizing:border-box;padding-left:3px;letter-spacing:-0.579px;overflow:hidden;">NGC 488 (G)</div>
<div style="position:absolute;left:1355.50px;top:346.89px;width:52.00px;height:18.81px;line-height:18.81px;text-align:right;color:#000;z-index:8;white-space:nowrap;box-sizing:border-box;padding-right:21px;letter-spacing:-0.060px;">-</div>
<div style="position:absolute;left:1407.50px;top:346.89px;width:52.00px;height:18.81px;line-height:18.81px;text-align:right;color:#000;z-index:8;white-space:nowrap;box-sizing:border-box;padding-right:21px;letter-spacing:-0.060px;">-</div>
<div style="position:absolute;left:1459.50px;top:346.89px;width:52.00px;height:18.81px;line-height:18.81px;text-align:right;color:#000;z-index:8;white-space:nowrap;box-sizing:border-box;padding-right:21px;letter-spacing:-0.060px;">-</div>
<div style="position:absolute;left:425.50px;top:346.89px;width:55.50px;height:18.81px;line-height:18.81px;text-align:left;color:#FFFFFF;z-index:8;white-space:nowrap;box-sizing:border-box;padding-left:12.5px;letter-spacing:-0.216px;">35°</div>
<div style="position:absolute;left:481.00px;top:346.89px;width:59.50px;height:18.81px;line-height:18.81px;text-align:left;color:#FFFFFF;z-index:8;white-space:nowrap;box-sizing:border-box;padding-left:12px;letter-spacing:-0.216px;">40°</div>
<div style="position:absolute;left:540.50px;top:346.89px;width:72.00px;height:18.81px;line-height:18.81px;text-align:right;color:#9C5700;z-index:8;white-space:nowrap;box-sizing:border-box;padding-right:3px;letter-spacing:-0.106px;">04:19</div>
<div style="position:absolute;left:684.50px;top:346.89px;width:72.00px;height:18.81px;line-height:18.81px;text-align:right;color:#9C5700;z-index:8;white-space:nowrap;box-sizing:border-box;padding-right:3px;letter-spacing:-0.106px;">05:26</div>
<div style="position:absolute;left:756.50px;top:346.89px;width:54.00px;height:18.81px;line-height:18.81px;text-align:right;color:#000;z-index:8;white-space:nowrap;box-sizing:border-box;padding-right:6.5px;letter-spacing:-0.160px;">66</div>
<div style="position:absolute;left:919.50px;top:346.89px;width:43.00px;height:18.81px;line-height:18.81px;text-align:right;color:#FFFFFF;z-index:8;white-space:nowrap;box-sizing:border-box;padding-right:3px;letter-spacing:-0.617px;">99%</div>
<div style="position:absolute;left:962.50px;top:346.89px;width:52.00px;height:18.81px;line-height:18.81px;text-align:right;color:#FFFFFF;z-index:8;white-space:nowrap;box-sizing:border-box;padding-right:3px;letter-spacing:-0.216px;">22°</div>
<div style="position:absolute;left:1014.50px;top:346.89px;width:52.00px;height:18.81px;line-height:18.81px;text-align:right;color:#9C5700;z-index:8;white-space:nowrap;box-sizing:border-box;padding-right:3px;letter-spacing:-0.202px;">198°</div>
<div style="position:absolute;left:1066.50px;top:346.89px;width:51.50px;height:18.81px;line-height:18.81px;text-align:right;color:#9C5700;z-index:8;white-space:nowrap;box-sizing:border-box;padding-right:3px;letter-spacing:-0.216px;">66°</div>
<div style="position:absolute;left:161.00px;top:365.70px;width:36.50px;height:18.81px;line-height:18.81px;text-align:right;color:#000;z-index:8;white-space:nowrap;box-sizing:border-box;padding-right:3px;letter-spacing:0.304px;">11</div>
<div style="position:absolute;left:197.50px;top:365.70px;width:188.00px;height:18.81px;line-height:18.81px;text-align:left;color:#000;z-index:8;white-space:nowrap;box-sizing:border-box;padding-left:3px;letter-spacing:-0.509px;">SH2-187</div>
<div style="position:absolute;left:1118.00px;top:365.70px;width:155.50px;height:18.81px;line-height:18.81px;text-align:left;color:#000;z-index:8;white-space:nowrap;box-sizing:border-box;padding-left:3px;letter-spacing:-0.509px;overflow:hidden;">SH2-187</div>
<div style="position:absolute;left:1355.50px;top:365.70px;width:52.00px;height:18.81px;line-height:18.81px;text-align:right;color:#000;z-index:8;white-space:nowrap;box-sizing:border-box;padding-right:21px;letter-spacing:-0.060px;">-</div>
<div style="position:absolute;left:1407.50px;top:365.70px;width:52.00px;height:18.81px;line-height:18.81px;text-align:right;color:#000;z-index:8;white-space:nowrap;box-sizing:border-box;padding-right:21px;letter-spacing:-0.060px;">-</div>
<div style="position:absolute;left:1459.50px;top:365.70px;width:52.00px;height:18.81px;line-height:18.81px;text-align:right;color:#000;z-index:8;white-space:nowrap;box-sizing:border-box;padding-right:21px;letter-spacing:-0.060px;">-</div>
<div style="position:absolute;left:425.50px;top:365.70px;width:55.50px;height:18.81px;line-height:18.81px;text-align:left;color:#FFFFFF;z-index:8;white-space:nowrap;box-sizing:border-box;padding-left:12.5px;letter-spacing:-0.216px;">35°</div>
<div style="position:absolute;left:481.00px;top:365.70px;width:59.50px;height:18.81px;line-height:18.81px;text-align:left;color:#9C5700;z-index:8;white-space:nowrap;box-sizing:border-box;padding-left:12px;letter-spacing:-0.216px;">51°</div>
<div style="position:absolute;left:540.50px;top:365.70px;width:72.00px;height:18.81px;line-height:18.81px;text-align:right;color:#006100;z-index:8;white-space:nowrap;box-sizing:border-box;padding-right:3px;letter-spacing:-0.106px;">00:46</div>
<div style="position:absolute;left:684.50px;top:365.70px;width:72.00px;height:18.81px;line-height:18.81px;text-align:right;color:#006100;z-index:8;white-space:nowrap;box-sizing:border-box;padding-right:3px;letter-spacing:-0.106px;">05:26</div>
<div style="position:absolute;left:756.50px;top:365.70px;width:54.00px;height:18.81px;line-height:18.81px;text-align:right;color:#000;z-index:8;white-space:nowrap;box-sizing:border-box;padding-right:6.5px;letter-spacing:-0.160px;">279</div>
<div style="position:absolute;left:919.50px;top:365.70px;width:43.00px;height:18.81px;line-height:18.81px;text-align:right;color:#FFFFFF;z-index:8;white-space:nowrap;box-sizing:border-box;padding-right:3px;letter-spacing:-0.617px;">99%</div>
<div style="position:absolute;left:962.50px;top:365.70px;width:52.00px;height:18.81px;line-height:18.81px;text-align:right;color:#FFFFFF;z-index:8;white-space:nowrap;box-sizing:border-box;padding-right:3px;letter-spacing:-0.216px;">16°</div>
<div style="position:absolute;left:1014.50px;top:365.70px;width:52.00px;height:18.81px;line-height:18.81px;text-align:right;color:#9C5700;z-index:8;white-space:nowrap;box-sizing:border-box;padding-right:3px;letter-spacing:-0.202px;">147°</div>
<div style="position:absolute;left:1066.50px;top:365.70px;width:51.50px;height:18.81px;line-height:18.81px;text-align:right;color:#9C5700;z-index:8;white-space:nowrap;box-sizing:border-box;padding-right:3px;letter-spacing:-0.216px;">98°</div>
<div style="position:absolute;left:161.00px;top:384.51px;width:36.50px;height:18.81px;line-height:18.81px;text-align:right;color:#000;z-index:8;white-space:nowrap;box-sizing:border-box;padding-right:3px;letter-spacing:-0.160px;">12</div>
<div style="position:absolute;left:197.50px;top:384.51px;width:188.00px;height:18.81px;line-height:18.81px;text-align:left;color:#000;z-index:8;white-space:nowrap;box-sizing:border-box;padding-left:3px;letter-spacing:-0.509px;">SH2-188</div>
<div style="position:absolute;left:1118.00px;top:384.51px;width:155.50px;height:18.81px;line-height:18.81px;text-align:left;color:#000;z-index:8;white-space:nowrap;box-sizing:border-box;padding-left:3px;letter-spacing:-0.509px;overflow:hidden;">SH2-188</div>
<div style="position:absolute;left:1355.50px;top:384.51px;width:52.00px;height:18.81px;line-height:18.81px;text-align:right;color:#000;z-index:8;white-space:nowrap;box-sizing:border-box;padding-right:21px;letter-spacing:-0.060px;">-</div>
<div style="position:absolute;left:1407.50px;top:384.51px;width:52.00px;height:18.81px;line-height:18.81px;text-align:right;color:#000;z-index:8;white-space:nowrap;box-sizing:border-box;padding-right:21px;letter-spacing:-0.060px;">-</div>
<div style="position:absolute;left:1459.50px;top:384.51px;width:52.00px;height:18.81px;line-height:18.81px;text-align:right;color:#000;z-index:8;white-space:nowrap;box-sizing:border-box;padding-right:21px;letter-spacing:-0.060px;">-</div>
<div style="position:absolute;left:425.50px;top:384.51px;width:55.50px;height:18.81px;line-height:18.81px;text-align:left;color:#FFFFFF;z-index:8;white-space:nowrap;box-sizing:border-box;padding-left:12.5px;letter-spacing:-0.216px;">35°</div>
<div style="position:absolute;left:481.00px;top:384.51px;width:59.50px;height:18.81px;line-height:18.81px;text-align:left;color:#9C5700;z-index:8;white-space:nowrap;box-sizing:border-box;padding-left:12px;letter-spacing:-0.216px;">51°</div>
<div style="position:absolute;left:540.50px;top:384.51px;width:72.00px;height:18.81px;line-height:18.81px;text-align:right;color:#006100;z-index:8;white-space:nowrap;box-sizing:border-box;padding-right:3px;letter-spacing:-0.106px;">01:10</div>
<div style="position:absolute;left:684.50px;top:384.51px;width:72.00px;height:18.81px;line-height:18.81px;text-align:right;color:#006100;z-index:8;white-space:nowrap;box-sizing:border-box;padding-right:3px;letter-spacing:-0.106px;">05:26</div>
<div style="position:absolute;left:756.50px;top:384.51px;width:54.00px;height:18.81px;line-height:18.81px;text-align:right;color:#000;z-index:8;white-space:nowrap;box-sizing:border-box;padding-right:6.5px;letter-spacing:-0.160px;">255</div>
<div style="position:absolute;left:919.50px;top:384.51px;width:43.00px;height:18.81px;line-height:18.81px;text-align:right;color:#FFFFFF;z-index:8;white-space:nowrap;box-sizing:border-box;padding-right:3px;letter-spacing:-0.617px;">99%</div>
<div style="position:absolute;left:962.50px;top:384.51px;width:52.00px;height:18.81px;line-height:18.81px;text-align:right;color:#FFFFFF;z-index:8;white-space:nowrap;box-sizing:border-box;padding-right:3px;letter-spacing:-0.216px;">19°</div>
<div style="position:absolute;left:1014.50px;top:384.51px;width:52.00px;height:18.81px;line-height:18.81px;text-align:right;color:#9C5700;z-index:8;white-space:nowrap;box-sizing:border-box;padding-right:3px;letter-spacing:-0.202px;">152°</div>
<div style="position:absolute;left:1066.50px;top:384.51px;width:51.50px;height:18.81px;line-height:18.81px;text-align:right;color:#9C5700;z-index:8;white-space:nowrap;box-sizing:border-box;padding-right:3px;letter-spacing:-0.216px;">97°</div>
<div style="position:absolute;left:161.00px;top:403.32px;width:36.50px;height:18.81px;line-height:18.81px;text-align:right;color:#000;z-index:8;white-space:nowrap;box-sizing:border-box;padding-right:3px;letter-spacing:-0.160px;">13</div>
<div style="position:absolute;left:197.50px;top:403.32px;width:188.00px;height:18.81px;line-height:18.81px;text-align:left;color:#000;z-index:8;white-space:nowrap;box-sizing:border-box;padding-left:3px;letter-spacing:-0.099px;">M33 (Triangulum G)</div>
<div style="position:absolute;left:1118.00px;top:403.32px;width:155.50px;height:18.81px;line-height:18.81px;text-align:left;color:#000;z-index:8;white-space:nowrap;box-sizing:border-box;padding-left:3px;letter-spacing:-0.099px;overflow:hidden;">M33 (Triangulum G)</div>
<div style="position:absolute;left:1355.50px;top:403.32px;width:52.00px;height:18.81px;line-height:18.81px;text-align:right;color:#000;z-index:8;white-space:nowrap;box-sizing:border-box;padding-right:21px;letter-spacing:-0.060px;">-</div>
<div style="position:absolute;left:1407.50px;top:403.32px;width:52.00px;height:18.81px;line-height:18.81px;text-align:right;color:#000;z-index:8;white-space:nowrap;box-sizing:border-box;padding-right:21px;letter-spacing:-0.060px;">-</div>
<div style="position:absolute;left:1459.50px;top:403.32px;width:52.00px;height:18.81px;line-height:18.81px;text-align:right;color:#000;z-index:8;white-space:nowrap;box-sizing:border-box;padding-right:21px;letter-spacing:-0.060px;">-</div>
<div style="position:absolute;left:425.50px;top:403.32px;width:55.50px;height:18.81px;line-height:18.81px;text-align:left;color:#FFFFFF;z-index:8;white-space:nowrap;box-sizing:border-box;padding-left:12.5px;letter-spacing:-0.216px;">35°</div>
<div style="position:absolute;left:481.00px;top:403.32px;width:59.50px;height:18.81px;line-height:18.81px;text-align:left;color:#9C5700;z-index:8;white-space:nowrap;box-sizing:border-box;padding-left:12px;letter-spacing:-0.216px;">49°</div>
<div style="position:absolute;left:540.50px;top:403.32px;width:72.00px;height:18.81px;line-height:18.81px;text-align:right;color:#006100;z-index:8;white-space:nowrap;box-sizing:border-box;padding-right:3px;letter-spacing:-0.106px;">02:51</div>
<div style="position:absolute;left:684.50px;top:403.32px;width:72.00px;height:18.81px;line-height:18.81px;text-align:right;color:#006100;z-index:8;white-space:nowrap;box-sizing:border-box;padding-right:3px;letter-spacing:-0.106px;">05:26</div>
<div style="position:absolute;left:756.50px;top:403.32px;width:54.00px;height:18.81px;line-height:18.81px;text-align:right;color:#000;z-index:8;white-space:nowrap;box-sizing:border-box;padding-right:6.5px;letter-spacing:-0.160px;">155</div>
<div style="position:absolute;left:919.50px;top:403.32px;width:43.00px;height:18.81px;line-height:18.81px;text-align:right;color:#FFFFFF;z-index:8;white-space:nowrap;box-sizing:border-box;padding-right:3px;letter-spacing:-0.617px;">99%</div>
<div style="position:absolute;left:962.50px;top:403.32px;width:52.00px;height:18.81px;line-height:18.81px;text-align:right;color:#FFFFFF;z-index:8;white-space:nowrap;box-sizing:border-box;padding-right:3px;letter-spacing:-0.216px;">24°</div>
<div style="position:absolute;left:1014.50px;top:403.32px;width:52.00px;height:18.81px;line-height:18.81px;text-align:right;color:#9C5700;z-index:8;white-space:nowrap;box-sizing:border-box;padding-right:3px;letter-spacing:-0.202px;">176°</div>
<div style="position:absolute;left:1066.50px;top:403.32px;width:51.50px;height:18.81px;line-height:18.81px;text-align:right;color:#9C5700;z-index:8;white-space:nowrap;box-sizing:border-box;padding-right:3px;letter-spacing:-0.216px;">82°</div>
<div style="position:absolute;left:161.00px;top:422.13px;width:36.50px;height:18.81px;line-height:18.81px;text-align:right;color:#000;z-index:8;white-space:nowrap;box-sizing:border-box;padding-right:3px;letter-spacing:-0.160px;">14</div>
<div style="position:absolute;left:197.50px;top:422.13px;width:188.00px;height:18.81px;line-height:18.81px;text-align:left;color:#000;z-index:8;white-space:nowrap;box-sizing:border-box;padding-left:3px;letter-spacing:-0.132px;">M74 (Phantom G)</div>
<div style="position:absolute;left:1118.00px;top:422.13px;width:155.50px;height:18.81px;line-height:18.81px;text-align:left;color:#000;z-index:8;white-space:nowrap;box-sizing:border-box;padding-left:3px;letter-spacing:-0.132px;overflow:hidden;">M74 (Phantom G)</div>
<div style="position:absolute;left:1355.50px;top:422.13px;width:52.00px;height:18.81px;line-height:18.81px;text-align:right;color:#000;z-index:8;white-space:nowrap;box-sizing:border-box;padding-right:21px;letter-spacing:-0.060px;">-</div>
<div style="position:absolute;left:1407.50px;top:422.13px;width:52.00px;height:18.81px;line-height:18.81px;text-align:right;color:#000;z-index:8;white-space:nowrap;box-sizing:border-box;padding-right:21px;letter-spacing:-0.060px;">-</div>
<div style="position:absolute;left:1459.50px;top:422.13px;width:52.00px;height:18.81px;line-height:18.81px;text-align:right;color:#000;z-index:8;white-space:nowrap;box-sizing:border-box;padding-right:21px;letter-spacing:-0.060px;">-</div>
<div style="position:absolute;left:425.50px;top:422.13px;width:55.50px;height:18.81px;line-height:18.81px;text-align:left;color:#FFFFFF;z-index:8;white-space:nowrap;box-sizing:border-box;padding-left:12.5px;letter-spacing:-0.216px;">35°</div>
<div style="position:absolute;left:481.00px;top:422.13px;width:59.50px;height:18.81px;line-height:18.81px;text-align:left;color:#9C5700;z-index:8;white-space:nowrap;box-sizing:border-box;padding-left:12px;letter-spacing:-0.216px;">43°</div>
<div style="position:absolute;left:540.50px;top:422.13px;width:72.00px;height:18.81px;line-height:18.81px;text-align:right;color:#9C5700;z-index:8;white-space:nowrap;box-sizing:border-box;padding-right:3px;letter-spacing:-0.106px;">03:48</div>
<div style="position:absolute;left:684.50px;top:422.13px;width:72.00px;height:18.81px;line-height:18.81px;text-align:right;color:#9C5700;z-index:8;white-space:nowrap;box-sizing:border-box;padding-right:3px;letter-spacing:-0.106px;">05:26</div>
<div style="position:absolute;left:756.50px;top:422.13px;width:54.00px;height:18.81px;line-height:18.81px;text-align:right;color:#000;z-index:8;white-space:nowrap;box-sizing:border-box;padding-right:6.5px;letter-spacing:-0.160px;">98</div>
<div style="position:absolute;left:919.50px;top:422.13px;width:43.00px;height:18.81px;line-height:18.81px;text-align:right;color:#FFFFFF;z-index:8;white-space:nowrap;box-sizing:border-box;padding-right:3px;letter-spacing:-0.617px;">99%</div>
<div style="position:absolute;left:962.50px;top:422.13px;width:52.00px;height:18.81px;line-height:18.81px;text-align:right;color:#FFFFFF;z-index:8;white-space:nowrap;box-sizing:border-box;padding-right:3px;letter-spacing:-0.216px;">23°</div>
<div style="position:absolute;left:1014.50px;top:422.13px;width:52.00px;height:18.81px;line-height:18.81px;text-align:right;color:#9C5700;z-index:8;white-space:nowrap;box-sizing:border-box;padding-right:3px;letter-spacing:-0.202px;">190°</div>
<div style="position:absolute;left:1066.50px;top:422.13px;width:51.50px;height:18.81px;line-height:18.81px;text-align:right;color:#9C5700;z-index:8;white-space:nowrap;box-sizing:border-box;padding-right:3px;letter-spacing:-0.216px;">75°</div>
<div style="position:absolute;left:161.00px;top:440.94px;width:36.50px;height:18.81px;line-height:18.81px;text-align:right;color:#000;z-index:8;white-space:nowrap;box-sizing:border-box;padding-right:3px;letter-spacing:-0.160px;">15</div>
<div style="position:absolute;left:197.50px;top:440.94px;width:188.00px;height:18.81px;line-height:18.81px;text-align:left;color:#000;z-index:8;white-space:nowrap;box-sizing:border-box;padding-left:3px;letter-spacing:0.033px;">M76 (Little Dumbell)</div>
<div style="position:absolute;left:1118.00px;top:440.94px;width:155.50px;height:18.81px;line-height:18.81px;text-align:left;color:#000;z-index:8;white-space:nowrap;box-sizing:border-box;padding-left:3px;letter-spacing:0.033px;overflow:hidden;">M76 (Little Dumbell)</div>
<div style="position:absolute;left:1355.50px;top:440.94px;width:52.00px;height:18.81px;line-height:18.81px;text-align:right;color:#000;z-index:8;white-space:nowrap;box-sizing:border-box;padding-right:21px;letter-spacing:-0.060px;">-</div>
<div style="position:absolute;left:1407.50px;top:440.94px;width:52.00px;height:18.81px;line-height:18.81px;text-align:right;color:#000;z-index:8;white-space:nowrap;box-sizing:border-box;padding-right:21px;letter-spacing:-0.060px;">-</div>
<div style="position:absolute;left:1459.50px;top:440.94px;width:52.00px;height:18.81px;line-height:18.81px;text-align:right;color:#000;z-index:8;white-space:nowrap;box-sizing:border-box;padding-right:21px;letter-spacing:-0.060px;">-</div>
<div style="position:absolute;left:425.50px;top:440.94px;width:55.50px;height:18.81px;line-height:18.81px;text-align:left;color:#FFFFFF;z-index:8;white-space:nowrap;box-sizing:border-box;padding-left:12.5px;letter-spacing:-0.216px;">35°</div>
<div style="position:absolute;left:481.00px;top:440.94px;width:59.50px;height:18.81px;line-height:18.81px;text-align:left;color:#9C5700;z-index:8;white-space:nowrap;box-sizing:border-box;padding-left:12px;letter-spacing:-0.216px;">51°</div>
<div style="position:absolute;left:540.50px;top:440.94px;width:72.00px;height:18.81px;line-height:18.81px;text-align:right;color:#006100;z-index:8;white-space:nowrap;box-sizing:border-box;padding-right:3px;letter-spacing:-0.106px;">01:49</div>
<div style="position:absolute;left:684.50px;top:440.94px;width:72.00px;height:18.81px;line-height:18.81px;text-align:right;color:#006100;z-index:8;white-space:nowrap;box-sizing:border-box;padding-right:3px;letter-spacing:-0.106px;">05:26</div>
<div style="position:absolute;left:756.50px;top:440.94px;width:54.00px;height:18.81px;line-height:18.81px;text-align:right;color:#000;z-index:8;white-space:nowrap;box-sizing:border-box;padding-right:6.5px;letter-spacing:-0.160px;">216</div>
<div style="position:absolute;left:919.50px;top:440.94px;width:43.00px;height:18.81px;line-height:18.81px;text-align:right;color:#FFFFFF;z-index:8;white-space:nowrap;box-sizing:border-box;padding-right:3px;letter-spacing:-0.617px;">99%</div>
<div style="position:absolute;left:962.50px;top:440.94px;width:52.00px;height:18.81px;line-height:18.81px;text-align:right;color:#FFFFFF;z-index:8;white-space:nowrap;box-sizing:border-box;padding-right:3px;letter-spacing:-0.216px;">21°</div>
<div style="position:absolute;left:1014.50px;top:440.94px;width:52.00px;height:18.81px;line-height:18.81px;text-align:right;color:#9C5700;z-index:8;white-space:nowrap;box-sizing:border-box;padding-right:3px;letter-spacing:-0.202px;">161°</div>
<div style="position:absolute;left:1066.50px;top:440.94px;width:51.50px;height:18.81px;line-height:18.81px;text-align:right;color:#9C5700;z-index:8;white-space:nowrap;box-sizing:border-box;padding-right:3px;letter-spacing:-0.216px;">94°</div>
<div style="position:absolute;left:161.00px;top:459.75px;width:36.50px;height:18.81px;line-height:18.81px;text-align:right;color:#000;z-index:8;white-space:nowrap;box-sizing:border-box;padding-right:3px;letter-spacing:-0.160px;">16</div>
<div style="position:absolute;left:197.50px;top:459.75px;width:188.00px;height:18.81px;line-height:18.81px;text-align:left;color:#000;z-index:8;white-space:nowrap;box-sizing:border-box;padding-left:3px;letter-spacing:-0.468px;">NGC 660 (Polar Ring G)</div>
<div style="position:absolute;left:1118.00px;top:459.75px;width:155.50px;height:18.81px;line-height:18.81px;text-align:left;color:#000;z-index:8;white-space:nowrap;box-sizing:border-box;padding-left:3px;letter-spacing:-0.468px;overflow:hidden;">NGC 660 (Polar Ring G)</div>
<div style="position:absolute;left:1355.50px;top:459.75px;width:52.00px;height:18.81px;line-height:18.81px;text-align:right;color:#000;z-index:8;white-space:nowrap;box-sizing:border-box;padding-right:21px;letter-spacing:-0.060px;">-</div>
<div style="position:absolute;left:1407.50px;top:459.75px;width:52.00px;height:18.81px;line-height:18.81px;text-align:right;color:#000;z-index:8;white-space:nowrap;box-sizing:border-box;padding-right:21px;letter-spacing:-0.060px;">-</div>
<div style="position:absolute;left:1459.50px;top:459.75px;width:52.00px;height:18.81px;line-height:18.81px;text-align:right;color:#000;z-index:8;white-space:nowrap;box-sizing:border-box;padding-right:21px;letter-spacing:-0.060px;">-</div>
<div style="position:absolute;left:425.50px;top:459.75px;width:55.50px;height:18.81px;line-height:18.81px;text-align:left;color:#FFFFFF;z-index:8;white-space:nowrap;box-sizing:border-box;padding-left:12.5px;letter-spacing:-0.216px;">35°</div>
<div style="position:absolute;left:481.00px;top:459.75px;width:59.50px;height:18.81px;line-height:18.81px;text-align:left;color:#9C5700;z-index:8;white-space:nowrap;box-sizing:border-box;padding-left:12px;letter-spacing:-0.216px;">42°</div>
<div style="position:absolute;left:540.50px;top:459.75px;width:72.00px;height:18.81px;line-height:18.81px;text-align:right;color:#9C5700;z-index:8;white-space:nowrap;box-sizing:border-box;padding-right:3px;letter-spacing:-0.106px;">04:03</div>
<div style="position:absolute;left:684.50px;top:459.75px;width:72.00px;height:18.81px;line-height:18.81px;text-align:right;color:#9C5700;z-index:8;white-space:nowrap;box-sizing:border-box;padding-right:3px;letter-spacing:-0.106px;">05:26</div>
<div style="position:absolute;left:756.50px;top:459.75px;width:54.00px;height:18.81px;line-height:18.81px;text-align:right;color:#000;z-index:8;white-space:nowrap;box-sizing:border-box;padding-right:6.5px;letter-spacing:-0.160px;">83</div>
<div style="position:absolute;left:919.50px;top:459.75px;width:43.00px;height:18.81px;line-height:18.81px;text-align:right;color:#FFFFFF;z-index:8;white-space:nowrap;box-sizing:border-box;padding-right:3px;letter-spacing:-0.617px;">99%</div>
<div style="position:absolute;left:962.50px;top:459.75px;width:52.00px;height:18.81px;line-height:18.81px;text-align:right;color:#FFFFFF;z-index:8;white-space:nowrap;box-sizing:border-box;padding-right:3px;letter-spacing:-0.216px;">23°</div>
<div style="position:absolute;left:1014.50px;top:459.75px;width:52.00px;height:18.81px;line-height:18.81px;text-align:right;color:#9C5700;z-index:8;white-space:nowrap;box-sizing:border-box;padding-right:3px;letter-spacing:-0.202px;">194°</div>
<div style="position:absolute;left:1066.50px;top:459.75px;width:51.50px;height:18.81px;line-height:18.81px;text-align:right;color:#9C5700;z-index:8;white-space:nowrap;box-sizing:border-box;padding-right:3px;letter-spacing:-0.216px;">75°</div>
<div style="position:absolute;left:161.00px;top:478.56px;width:36.50px;height:18.81px;line-height:18.81px;text-align:right;color:#000;z-index:8;white-space:nowrap;box-sizing:border-box;padding-right:3px;letter-spacing:-0.160px;">17</div>
<div style="position:absolute;left:197.50px;top:478.56px;width:188.00px;height:18.81px;line-height:18.81px;text-align:left;color:#000;z-index:8;white-space:nowrap;box-sizing:border-box;padding-left:3px;letter-spacing:-0.579px;">NGC 672 (G)</div>
<div style="position:absolute;left:1118.00px;top:478.56px;width:155.50px;height:18.81px;line-height:18.81px;text-align:left;color:#000;z-index:8;white-space:nowrap;box-sizing:border-box;padding-left:3px;letter-spacing:-0.579px;overflow:hidden;">NGC 672 (G)</div>
<div style="position:absolute;left:1355.50px;top:478.56px;width:52.00px;height:18.81px;line-height:18.81px;text-align:right;color:#000;z-index:8;white-space:nowrap;box-sizing:border-box;padding-right:21px;letter-spacing:-0.060px;">-</div>
<div style="position:absolute;left:1407.50px;top:478.56px;width:52.00px;height:18.81px;line-height:18.81px;text-align:right;color:#000;z-index:8;white-space:nowrap;box-sizing:border-box;padding-right:21px;letter-spacing:-0.060px;">-</div>
<div style="position:absolute;left:1459.50px;top:478.56px;width:52.00px;height:18.81px;line-height:18.81px;text-align:right;color:#000;z-index:8;white-space:nowrap;box-sizing:border-box;padding-right:21px;letter-spacing:-0.060px;">-</div>
<div style="position:absolute;left:425.50px;top:478.56px;width:55.50px;height:18.81px;line-height:18.81px;text-align:left;color:#FFFFFF;z-index:8;white-space:nowrap;box-sizing:border-box;padding-left:12.5px;letter-spacing:-0.216px;">35°</div>
<div style="position:absolute;left:481.00px;top:478.56px;width:59.50px;height:18.81px;line-height:18.81px;text-align:left;color:#9C5700;z-index:8;white-space:nowrap;box-sizing:border-box;padding-left:12px;letter-spacing:-0.216px;">47°</div>
<div style="position:absolute;left:540.50px;top:478.56px;width:72.00px;height:18.81px;line-height:18.81px;text-align:right;color:#006100;z-index:8;white-space:nowrap;box-sizing:border-box;padding-right:3px;letter-spacing:-0.106px;">03:16</div>
<div style="position:absolute;left:684.50px;top:478.56px;width:72.00px;height:18.81px;line-height:18.81px;text-align:right;color:#006100;z-index:8;white-space:nowrap;box-sizing:border-box;padding-right:3px;letter-spacing:-0.106px;">05:26</div>
<div style="position:absolute;left:756.50px;top:478.56px;width:54.00px;height:18.81px;line-height:18.81px;text-align:right;color:#000;z-index:8;white-space:nowrap;box-sizing:border-box;padding-right:6.5px;letter-spacing:-0.160px;">130</div>
<div style="position:absolute;left:919.50px;top:478.56px;width:43.00px;height:18.81px;line-height:18.81px;text-align:right;color:#FFFFFF;z-index:8;white-space:nowrap;box-sizing:border-box;padding-right:3px;letter-spacing:-0.617px;">99%</div>
<div style="position:absolute;left:962.50px;top:478.56px;width:52.00px;height:18.81px;line-height:18.81px;text-align:right;color:#FFFFFF;z-index:8;white-space:nowrap;box-sizing:border-box;padding-right:3px;letter-spacing:-0.216px;">24°</div>
<div style="position:absolute;left:1014.50px;top:478.56px;width:52.00px;height:18.81px;line-height:18.81px;text-align:right;color:#9C5700;z-index:8;white-space:nowrap;box-sizing:border-box;padding-right:3px;letter-spacing:-0.202px;">182°</div>
<div style="position:absolute;left:1066.50px;top:478.56px;width:51.50px;height:18.81px;line-height:18.81px;text-align:right;color:#9C5700;z-index:8;white-space:nowrap;box-sizing:border-box;padding-right:3px;letter-spacing:-0.216px;">83°</div>
<div style="position:absolute;left:161.00px;top:497.37px;width:36.50px;height:18.81px;line-height:18.81px;text-align:right;color:#000;z-index:8;white-space:nowrap;box-sizing:border-box;padding-right:3px;letter-spacing:-0.160px;">18</div>
<div style="position:absolute;left:197.50px;top:497.37px;width:188.00px;height:18.81px;line-height:18.81px;text-align:left;color:#000;z-index:8;white-space:nowrap;box-sizing:border-box;padding-left:3px;letter-spacing:-0.579px;">NGC 772 (G)</div>
<div style="position:absolute;left:1118.00px;top:497.37px;width:155.50px;height:18.81px;line-height:18.81px;text-align:left;color:#000;z-index:8;white-space:nowrap;box-sizing:border-box;padding-left:3px;letter-spacing:-0.579px;overflow:hidden;">NGC 772 (G)</div>
<div style="position:absolute;left:1355.50px;top:497.37px;width:52.00px;height:18.81px;line-height:18.81px;text-align:right;color:#000;z-index:8;white-space:nowrap;box-sizing:border-box;padding-right:21px;letter-spacing:-0.060px;">-</div>
<div style="position:absolute;left:1407.50px;top:497.37px;width:52.00px;height:18.81px;line-height:18.81px;text-align:right;color:#000;z-index:8;white-space:nowrap;box-sizing:border-box;padding-right:21px;letter-spacing:-0.060px;">-</div>
<div style="position:absolute;left:1459.50px;top:497.37px;width:52.00px;height:18.81px;line-height:18.81px;text-align:right;color:#000;z-index:8;white-space:nowrap;box-sizing:border-box;padding-right:21px;letter-spacing:-0.060px;">-</div>
<div style="position:absolute;left:425.50px;top:497.37px;width:55.50px;height:18.81px;line-height:18.81px;text-align:left;color:#FFFFFF;z-index:8;white-space:nowrap;box-sizing:border-box;padding-left:12.5px;letter-spacing:-0.216px;">35°</div>
<div style="position:absolute;left:481.00px;top:497.37px;width:59.50px;height:18.81px;line-height:18.81px;text-align:left;color:#9C5700;z-index:8;white-space:nowrap;box-sizing:border-box;padding-left:12px;letter-spacing:-0.216px;">43°</div>
<div style="position:absolute;left:540.50px;top:497.37px;width:72.00px;height:18.81px;line-height:18.81px;text-align:right;color:#9C5700;z-index:8;white-space:nowrap;box-sizing:border-box;padding-right:3px;letter-spacing:-0.106px;">03:58</div>
<div style="position:absolute;left:684.50px;top:497.37px;width:72.00px;height:18.81px;line-height:18.81px;text-align:right;color:#9C5700;z-index:8;white-space:nowrap;box-sizing:border-box;padding-right:3px;letter-spacing:-0.106px;">05:26</div>
<div style="position:absolute;left:756.50px;top:497.37px;width:54.00px;height:18.81px;line-height:18.81px;text-align:right;color:#000;z-index:8;white-space:nowrap;box-sizing:border-box;padding-right:6.5px;letter-spacing:-0.160px;">88</div>
<div style="position:absolute;left:919.50px;top:497.37px;width:43.00px;height:18.81px;line-height:18.81px;text-align:right;color:#FFFFFF;z-index:8;white-space:nowrap;box-sizing:border-box;padding-right:3px;letter-spacing:-0.617px;">99%</div>
<div style="position:absolute;left:962.50px;top:497.37px;width:52.00px;height:18.81px;line-height:18.81px;text-align:right;color:#FFFFFF;z-index:8;white-space:nowrap;box-sizing:border-box;padding-right:3px;letter-spacing:-0.216px;">23°</div>
<div style="position:absolute;left:1014.50px;top:497.37px;width:52.00px;height:18.81px;line-height:18.81px;text-align:right;color:#9C5700;z-index:8;white-space:nowrap;box-sizing:border-box;padding-right:3px;letter-spacing:-0.202px;">192°</div>
<div style="position:absolute;left:1066.50px;top:497.37px;width:51.50px;height:18.81px;line-height:18.81px;text-align:right;color:#9C5700;z-index:8;white-space:nowrap;box-sizing:border-box;padding-right:3px;letter-spacing:-0.216px;">81°</div>
<div style="position:absolute;left:161.00px;top:516.18px;width:36.50px;height:18.81px;line-height:18.81px;text-align:right;color:#000;z-index:8;white-space:nowrap;box-sizing:border-box;padding-right:3px;letter-spacing:-0.160px;">19</div>
<div style="position:absolute;left:197.50px;top:516.18px;width:188.00px;height:18.81px;line-height:18.81px;text-align:left;color:#000;z-index:8;white-space:nowrap;box-sizing:border-box;padding-left:3px;letter-spacing:-0.257px;">Arp 273 (G)</div>
<div style="position:absolute;left:1118.00px;top:516.18px;width:155.50px;height:18.81px;line-height:18.81px;text-align:left;color:#000;z-index:8;white-space:nowrap;box-sizing:border-box;padding-left:3px;letter-spacing:-0.257px;overflow:hidden;">Arp 273 (G)</div>
<div style="position:absolute;left:1355.50px;top:516.18px;width:52.00px;height:18.81px;line-height:18.81px;text-align:right;color:#000;z-index:8;white-space:nowrap;box-sizing:border-box;padding-right:21px;letter-spacing:-0.060px;">-</div>
<div style="position:absolute;left:1407.50px;top:516.18px;width:52.00px;height:18.81px;line-height:18.81px;text-align:right;color:#000;z-index:8;white-space:nowrap;box-sizing:border-box;padding-right:21px;letter-spacing:-0.060px;">-</div>
<div style="position:absolute;left:1459.50px;top:516.18px;width:52.00px;height:18.81px;line-height:18.81px;text-align:right;color:#000;z-index:8;white-space:nowrap;box-sizing:border-box;padding-right:21px;letter-spacing:-0.060px;">-</div>
<div style="position:absolute;left:425.50px;top:516.18px;width:55.50px;height:18.81px;line-height:18.81px;text-align:left;color:#FFFFFF;z-index:8;white-space:nowrap;box-sizing:border-box;padding-left:12.5px;letter-spacing:-0.216px;">35°</div>
<div style="position:absolute;left:481.00px;top:516.18px;width:59.50px;height:18.81px;line-height:18.81px;text-align:left;color:#9C5700;z-index:8;white-space:nowrap;box-sizing:border-box;padding-left:12px;letter-spacing:-0.216px;">47°</div>
<div style="position:absolute;left:540.50px;top:516.18px;width:72.00px;height:18.81px;line-height:18.81px;text-align:right;color:#006100;z-index:8;white-space:nowrap;box-sizing:border-box;padding-right:3px;letter-spacing:-0.106px;">03:10</div>
<div style="position:absolute;left:684.50px;top:516.18px;width:72.00px;height:18.81px;line-height:18.81px;text-align:right;color:#006100;z-index:8;white-space:nowrap;box-sizing:border-box;padding-right:3px;letter-spacing:-0.106px;">05:26</div>
<div style="position:absolute;left:756.50px;top:516.18px;width:54.00px;height:18.81px;line-height:18.81px;text-align:right;color:#000;z-index:8;white-space:nowrap;box-sizing:border-box;padding-right:6.5px;letter-spacing:-0.160px;">135</div>
<div style="position:absolute;left:919.50px;top:516.18px;width:43.00px;height:18.81px;line-height:18.81px;text-align:right;color:#FFFFFF;z-index:8;white-space:nowrap;box-sizing:border-box;padding-right:3px;letter-spacing:-0.617px;">99%</div>
<div style="position:absolute;left:962.50px;top:516.18px;width:52.00px;height:18.81px;line-height:18.81px;text-align:right;color:#FFFFFF;z-index:8;white-space:nowrap;box-sizing:border-box;padding-right:3px;letter-spacing:-0.216px;">24°</div>
<div style="position:absolute;left:1014.50px;top:516.18px;width:52.00px;height:18.81px;line-height:18.81px;text-align:right;color:#9C5700;z-index:8;white-space:nowrap;box-sizing:border-box;padding-right:3px;letter-spacing:-0.202px;">181°</div>
<div style="position:absolute;left:1066.50px;top:516.18px;width:51.50px;height:18.81px;line-height:18.81px;text-align:right;color:#9C5700;z-index:8;white-space:nowrap;box-sizing:border-box;padding-right:3px;letter-spacing:-0.216px;">94°</div>
<div style="position:absolute;left:161.00px;top:534.99px;width:36.50px;height:18.81px;line-height:18.81px;text-align:right;color:#000;z-index:8;white-space:nowrap;box-sizing:border-box;padding-right:3px;letter-spacing:-0.160px;">20</div>
<div style="position:absolute;left:197.50px;top:534.99px;width:188.00px;height:18.81px;line-height:18.81px;text-align:left;color:#000;z-index:8;white-space:nowrap;box-sizing:border-box;padding-left:3px;letter-spacing:-0.415px;">NGC 891 (Silver Silver G)</div>
<div style="position:absolute;left:1118.00px;top:534.99px;width:155.50px;height:18.81px;line-height:18.81px;text-align:left;color:#000;z-index:8;white-space:nowrap;box-sizing:border-box;padding-left:3px;letter-spacing:-0.415px;overflow:hidden;">NGC 891 (Silver Silver G)</div>
<div style="position:absolute;left:1355.50px;top:534.99px;width:52.00px;height:18.81px;line-height:18.81px;text-align:right;color:#000;z-index:8;white-space:nowrap;box-sizing:border-box;padding-right:21px;letter-spacing:-0.060px;">-</div>
<div style="position:absolute;left:1407.50px;top:534.99px;width:52.00px;height:18.81px;line-height:18.81px;text-align:right;color:#000;z-index:8;white-space:nowrap;box-sizing:border-box;padding-right:21px;letter-spacing:-0.060px;">-</div>
<div style="position:absolute;left:1459.50px;top:534.99px;width:52.00px;height:18.81px;line-height:18.81px;text-align:right;color:#000;z-index:8;white-space:nowrap;box-sizing:border-box;padding-right:21px;letter-spacing:-0.060px;">-</div>
<div style="position:absolute;left:425.50px;top:534.99px;width:55.50px;height:18.81px;line-height:18.81px;text-align:left;color:#FFFFFF;z-index:8;white-space:nowrap;box-sizing:border-box;padding-left:12.5px;letter-spacing:-0.216px;">35°</div>
<div style="position:absolute;left:481.00px;top:534.99px;width:59.50px;height:18.81px;line-height:18.81px;text-align:left;color:#9C5700;z-index:8;white-space:nowrap;box-sizing:border-box;padding-left:12px;letter-spacing:-0.216px;">47°</div>
<div style="position:absolute;left:540.50px;top:534.99px;width:72.00px;height:18.81px;line-height:18.81px;text-align:right;color:#006100;z-index:8;white-space:nowrap;box-sizing:border-box;padding-right:3px;letter-spacing:-0.106px;">03:01</div>
<div style="position:absolute;left:684.50px;top:534.99px;width:72.00px;height:18.81px;line-height:18.81px;text-align:right;color:#006100;z-index:8;white-space:nowrap;box-sizing:border-box;padding-right:3px;letter-spacing:-0.106px;">05:26</div>
<div style="position:absolute;left:756.50px;top:534.99px;width:54.00px;height:18.81px;line-height:18.81px;text-align:right;color:#000;z-index:8;white-space:nowrap;box-sizing:border-box;padding-right:6.5px;letter-spacing:-0.160px;">144</div>
<div style="position:absolute;left:919.50px;top:534.99px;width:43.00px;height:18.81px;line-height:18.81px;text-align:right;color:#FFFFFF;z-index:8;white-space:nowrap;box-sizing:border-box;padding-right:3px;letter-spacing:-0.617px;">99%</div>
<div style="position:absolute;left:962.50px;top:534.99px;width:52.00px;height:18.81px;line-height:18.81px;text-align:right;color:#FFFFFF;z-index:8;white-space:nowrap;box-sizing:border-box;padding-right:3px;letter-spacing:-0.216px;">24°</div>
<div style="position:absolute;left:1014.50px;top:534.99px;width:52.00px;height:18.81px;line-height:18.81px;text-align:right;color:#9C5700;z-index:8;white-space:nowrap;box-sizing:border-box;padding-right:3px;letter-spacing:-0.202px;">179°</div>
<div style="position:absolute;left:1066.50px;top:534.99px;width:51.50px;height:18.81px;line-height:18.81px;text-align:right;color:#9C5700;z-index:8;white-space:nowrap;box-sizing:border-box;padding-right:3px;letter-spacing:-0.216px;">96°</div>
<div style="position:absolute;left:161.00px;top:553.80px;width:36.50px;height:18.81px;line-height:18.81px;text-align:right;color:#000;z-index:8;white-space:nowrap;box-sizing:border-box;padding-right:3px;letter-spacing:-0.160px;">21</div>
<div style="position:absolute;left:197.50px;top:553.80px;width:188.00px;height:18.81px;line-height:18.81px;text-align:left;color:#000;z-index:8;white-space:nowrap;box-sizing:border-box;padding-left:3px;letter-spacing:-0.579px;">NGC 918 (G)</div>
<div style="position:absolute;left:1118.00px;top:553.80px;width:155.50px;height:18.81px;line-height:18.81px;text-align:left;color:#000;z-index:8;white-space:nowrap;box-sizing:border-box;padding-left:3px;letter-spacing:-0.579px;overflow:hidden;">NGC 918 (G)</div>
<div style="position:absolute;left:1355.50px;top:553.80px;width:52.00px;height:18.81px;line-height:18.81px;text-align:right;color:#000;z-index:8;white-space:nowrap;box-sizing:border-box;padding-right:21px;letter-spacing:-0.060px;">-</div>
<div style="position:absolute;left:1407.50px;top:553.80px;width:52.00px;height:18.81px;line-height:18.81px;text-align:right;color:#000;z-index:8;white-space:nowrap;box-sizing:border-box;padding-right:21px;letter-spacing:-0.060px;">-</div>
<div style="position:absolute;left:1459.50px;top:553.80px;width:52.00px;height:18.81px;line-height:18.81px;text-align:right;color:#000;z-index:8;white-space:nowrap;box-sizing:border-box;padding-right:21px;letter-spacing:-0.060px;">-</div>
<div style="position:absolute;left:425.50px;top:553.80px;width:55.50px;height:18.81px;line-height:18.81px;text-align:left;color:#FFFFFF;z-index:8;white-space:nowrap;box-sizing:border-box;padding-left:12.5px;letter-spacing:-0.216px;">35°</div>
<div style="position:absolute;left:481.00px;top:553.80px;width:59.50px;height:18.81px;line-height:18.81px;text-align:left;color:#9C5700;z-index:8;white-space:nowrap;box-sizing:border-box;padding-left:12px;letter-spacing:-0.216px;">40°</div>
<div style="position:absolute;left:540.50px;top:553.80px;width:72.00px;height:18.81px;line-height:18.81px;text-align:right;color:#9C5700;z-index:8;white-space:nowrap;box-sizing:border-box;padding-right:3px;letter-spacing:-0.106px;">04:25</div>
<div style="position:absolute;left:684.50px;top:553.80px;width:72.00px;height:18.81px;line-height:18.81px;text-align:right;color:#9C5700;z-index:8;white-space:nowrap;box-sizing:border-box;padding-right:3px;letter-spacing:-0.106px;">05:26</div>
<div style="position:absolute;left:756.50px;top:553.80px;width:54.00px;height:18.81px;line-height:18.81px;text-align:right;color:#000;z-index:8;white-space:nowrap;box-sizing:border-box;padding-right:6.5px;letter-spacing:-0.160px;">60</div>
<div style="position:absolute;left:919.50px;top:553.80px;width:43.00px;height:18.81px;line-height:18.81px;text-align:right;color:#FFFFFF;z-index:8;white-space:nowrap;box-sizing:border-box;padding-right:3px;letter-spacing:-0.617px;">99%</div>
<div style="position:absolute;left:962.50px;top:553.80px;width:52.00px;height:18.81px;line-height:18.81px;text-align:right;color:#FFFFFF;z-index:8;white-space:nowrap;box-sizing:border-box;padding-right:3px;letter-spacing:-0.216px;">22°</div>
<div style="position:absolute;left:1014.50px;top:553.80px;width:52.00px;height:18.81px;line-height:18.81px;text-align:right;color:#9C5700;z-index:8;white-space:nowrap;box-sizing:border-box;padding-right:3px;letter-spacing:-0.202px;">199°</div>
<div style="position:absolute;left:1066.50px;top:553.80px;width:51.50px;height:18.81px;line-height:18.81px;text-align:right;color:#9C5700;z-index:8;white-space:nowrap;box-sizing:border-box;padding-right:3px;letter-spacing:-0.216px;">86°</div>
<div style="position:absolute;left:161.00px;top:572.61px;width:36.50px;height:18.81px;line-height:18.81px;text-align:right;color:#000;z-index:8;white-space:nowrap;box-sizing:border-box;padding-right:3px;letter-spacing:-0.160px;">22</div>
<div style="position:absolute;left:197.50px;top:572.61px;width:188.00px;height:18.81px;line-height:18.81px;text-align:left;color:#000;z-index:8;white-space:nowrap;box-sizing:border-box;padding-left:3px;letter-spacing:-0.352px;">NGC 1055 and M77 (G)</div>
<div style="position:absolute;left:1118.00px;top:572.61px;width:155.50px;height:18.81px;line-height:18.81px;text-align:left;color:#000;z-index:8;white-space:nowrap;box-sizing:border-box;padding-left:3px;letter-spacing:-0.352px;overflow:hidden;">NGC 1055 and M77 (G)</div>
<div style="position:absolute;left:1355.50px;top:572.61px;width:52.00px;height:18.81px;line-height:18.81px;text-align:right;color:#000;z-index:8;white-space:nowrap;box-sizing:border-box;padding-right:21px;letter-spacing:-0.060px;">-</div>
<div style="position:absolute;left:1407.50px;top:572.61px;width:52.00px;height:18.81px;line-height:18.81px;text-align:right;color:#000;z-index:8;white-space:nowrap;box-sizing:border-box;padding-right:21px;letter-spacing:-0.060px;">-</div>
<div style="position:absolute;left:1459.50px;top:572.61px;width:52.00px;height:18.81px;line-height:18.81px;text-align:right;color:#000;z-index:8;white-space:nowrap;box-sizing:border-box;padding-right:21px;letter-spacing:-0.060px;">-</div>
<div style="position:absolute;left:425.50px;top:572.61px;width:55.50px;height:18.81px;line-height:18.81px;text-align:left;color:#000;z-index:8;white-space:nowrap;box-sizing:border-box;padding-left:14px;letter-spacing:-0.060px;">-</div>
<div style="position:absolute;left:481.00px;top:572.61px;width:59.50px;height:18.81px;line-height:18.81px;text-align:left;color:#000;z-index:8;white-space:nowrap;box-sizing:border-box;padding-left:14px;letter-spacing:-0.060px;">-</div>
<div style="position:absolute;left:756.50px;top:572.61px;width:54.00px;height:18.81px;line-height:18.81px;text-align:center;color:#000;z-index:8;white-space:nowrap;box-sizing:border-box;padding-left:9px;letter-spacing:-0.060px;">-</div>
<div style="position:absolute;left:962.50px;top:572.61px;width:52.00px;height:18.81px;line-height:18.81px;text-align:right;color:#000;z-index:8;white-space:nowrap;box-sizing:border-box;padding-right:3px;letter-spacing:-0.060px;">-</div>
<div style="position:absolute;left:1014.50px;top:572.61px;width:52.00px;height:18.81px;line-height:18.81px;text-align:right;color:#000;z-index:8;white-space:nowrap;box-sizing:border-box;padding-right:3px;letter-spacing:-0.060px;">-</div>
<div style="position:absolute;left:1066.50px;top:572.61px;width:51.50px;height:18.81px;line-height:18.81px;text-align:right;color:#000;z-index:8;white-space:nowrap;box-sizing:border-box;padding-right:3px;letter-spacing:-0.060px;">-</div>
<div style="position:absolute;left:161.00px;top:591.42px;width:36.50px;height:18.81px;line-height:18.81px;text-align:right;color:#000;z-index:8;white-space:nowrap;box-sizing:border-box;padding-right:3px;letter-spacing:-0.160px;">23</div>
<div style="position:absolute;left:197.50px;top:591.42px;width:188.00px;height:18.81px;line-height:18.81px;text-align:left;color:#000;z-index:8;white-space:nowrap;box-sizing:border-box;padding-left:3px;letter-spacing:-0.385px;">IC 1848 (Soul)</div>
<div style="position:absolute;left:1118.00px;top:591.42px;width:155.50px;height:18.81px;line-height:18.81px;text-align:left;color:#000;z-index:8;white-space:nowrap;box-sizing:border-box;padding-left:3px;letter-spacing:-0.385px;overflow:hidden;">IC 1848 (Soul)</div>
<div style="position:absolute;left:1355.50px;top:591.42px;width:52.00px;height:18.81px;line-height:18.81px;text-align:right;color:#000;z-index:8;white-space:nowrap;box-sizing:border-box;padding-right:21px;letter-spacing:-0.060px;">-</div>
<div style="position:absolute;left:1407.50px;top:591.42px;width:52.00px;height:18.81px;line-height:18.81px;text-align:right;color:#000;z-index:8;white-space:nowrap;box-sizing:border-box;padding-right:21px;letter-spacing:-0.060px;">-</div>
<div style="position:absolute;left:1459.50px;top:591.42px;width:52.00px;height:18.81px;line-height:18.81px;text-align:right;color:#000;z-index:8;white-space:nowrap;box-sizing:border-box;padding-right:21px;letter-spacing:-0.060px;">-</div>
<div style="position:absolute;left:425.50px;top:591.42px;width:55.50px;height:18.81px;line-height:18.81px;text-align:left;color:#FFFFFF;z-index:8;white-space:nowrap;box-sizing:border-box;padding-left:12.5px;letter-spacing:-0.216px;">35°</div>
<div style="position:absolute;left:481.00px;top:591.42px;width:59.50px;height:18.81px;line-height:18.81px;text-align:left;color:#9C5700;z-index:8;white-space:nowrap;box-sizing:border-box;padding-left:12px;letter-spacing:-0.216px;">46°</div>
<div style="position:absolute;left:540.50px;top:591.42px;width:72.00px;height:18.81px;line-height:18.81px;text-align:right;color:#006100;z-index:8;white-space:nowrap;box-sizing:border-box;padding-right:3px;letter-spacing:-0.106px;">02:22</div>
<div style="position:absolute;left:684.50px;top:591.42px;width:72.00px;height:18.81px;line-height:18.81px;text-align:right;color:#006100;z-index:8;white-space:nowrap;box-sizing:border-box;padding-right:3px;letter-spacing:-0.106px;">05:26</div>
<div style="position:absolute;left:756.50px;top:591.42px;width:54.00px;height:18.81px;line-height:18.81px;text-align:right;color:#000;z-index:8;white-space:nowrap;box-sizing:border-box;padding-right:6.5px;letter-spacing:-0.160px;">184</div>
<div style="position:absolute;left:919.50px;top:591.42px;width:43.00px;height:18.81px;line-height:18.81px;text-align:right;color:#FFFFFF;z-index:8;white-space:nowrap;box-sizing:border-box;padding-right:3px;letter-spacing:-0.617px;">99%</div>
<div style="position:absolute;left:962.50px;top:591.42px;width:52.00px;height:18.81px;line-height:18.81px;text-align:right;color:#FFFFFF;z-index:8;white-space:nowrap;box-sizing:border-box;padding-right:3px;letter-spacing:-0.216px;">23°</div>
<div style="position:absolute;left:1014.50px;top:591.42px;width:52.00px;height:18.81px;line-height:18.81px;text-align:right;color:#9C5700;z-index:8;white-space:nowrap;box-sizing:border-box;padding-right:3px;letter-spacing:-0.202px;">169°</div>
<div style="position:absolute;left:1066.50px;top:591.42px;width:51.50px;height:18.81px;line-height:18.81px;text-align:right;color:#9C5700;z-index:8;white-space:nowrap;box-sizing:border-box;padding-right:3px;letter-spacing:-0.202px;">107°</div>
<div style="position:absolute;left:161.00px;top:610.23px;width:36.50px;height:18.81px;line-height:18.81px;text-align:right;color:#000;z-index:8;white-space:nowrap;box-sizing:border-box;padding-right:3px;letter-spacing:-0.160px;">24</div>
<div style="position:absolute;left:197.50px;top:610.23px;width:188.00px;height:18.81px;line-height:18.81px;text-align:left;color:#000;z-index:8;white-space:nowrap;box-sizing:border-box;padding-left:3px;letter-spacing:-0.226px;">LDN 1357 / 1358</div>
<div style="position:absolute;left:1118.00px;top:610.23px;width:155.50px;height:18.81px;line-height:18.81px;text-align:left;color:#000;z-index:8;white-space:nowrap;box-sizing:border-box;padding-left:3px;letter-spacing:-0.226px;overflow:hidden;">LDN 1357 / 1358</div>
<div style="position:absolute;left:1355.50px;top:610.23px;width:52.00px;height:18.81px;line-height:18.81px;text-align:right;color:#000;z-index:8;white-space:nowrap;box-sizing:border-box;padding-right:21px;letter-spacing:-0.060px;">-</div>
<div style="position:absolute;left:1407.50px;top:610.23px;width:52.00px;height:18.81px;line-height:18.81px;text-align:right;color:#000;z-index:8;white-space:nowrap;box-sizing:border-box;padding-right:21px;letter-spacing:-0.060px;">-</div>
<div style="position:absolute;left:1459.50px;top:610.23px;width:52.00px;height:18.81px;line-height:18.81px;text-align:right;color:#000;z-index:8;white-space:nowrap;box-sizing:border-box;padding-right:21px;letter-spacing:-0.060px;">-</div>
<div style="position:absolute;left:425.50px;top:610.23px;width:55.50px;height:18.81px;line-height:18.81px;text-align:left;color:#FFFFFF;z-index:8;white-space:nowrap;box-sizing:border-box;padding-left:12.5px;letter-spacing:-0.216px;">35°</div>
<div style="position:absolute;left:481.00px;top:610.23px;width:59.50px;height:18.81px;line-height:18.81px;text-align:left;color:#9C5700;z-index:8;white-space:nowrap;box-sizing:border-box;padding-left:12px;letter-spacing:-0.216px;">45°</div>
<div style="position:absolute;left:540.50px;top:610.23px;width:72.00px;height:18.81px;line-height:18.81px;text-align:right;color:#006100;z-index:8;white-space:nowrap;box-sizing:border-box;padding-right:3px;letter-spacing:-0.106px;">01:34</div>
<div style="position:absolute;left:684.50px;top:610.23px;width:72.00px;height:18.81px;line-height:18.81px;text-align:right;color:#006100;z-index:8;white-space:nowrap;box-sizing:border-box;padding-right:3px;letter-spacing:-0.106px;">05:26</div>
<div style="position:absolute;left:756.50px;top:610.23px;width:54.00px;height:18.81px;line-height:18.81px;text-align:right;color:#000;z-index:8;white-space:nowrap;box-sizing:border-box;padding-right:6.5px;letter-spacing:-0.160px;">232</div>
<div style="position:absolute;left:919.50px;top:610.23px;width:43.00px;height:18.81px;line-height:18.81px;text-align:right;color:#FFFFFF;z-index:8;white-space:nowrap;box-sizing:border-box;padding-right:3px;letter-spacing:-0.617px;">99%</div>
<div style="position:absolute;left:962.50px;top:610.23px;width:52.00px;height:18.81px;line-height:18.81px;text-align:right;color:#FFFFFF;z-index:8;white-space:nowrap;box-sizing:border-box;padding-right:3px;letter-spacing:-0.216px;">20°</div>
<div style="position:absolute;left:1014.50px;top:610.23px;width:52.00px;height:18.81px;line-height:18.81px;text-align:right;color:#9C5700;z-index:8;white-space:nowrap;box-sizing:border-box;padding-right:3px;letter-spacing:-0.202px;">157°</div>
<div style="position:absolute;left:1066.50px;top:610.23px;width:51.50px;height:18.81px;line-height:18.81px;text-align:right;color:#9C5700;z-index:8;white-space:nowrap;box-sizing:border-box;padding-right:3px;letter-spacing:-0.202px;">109°</div>
<div style="position:absolute;left:161.00px;top:629.04px;width:36.50px;height:18.81px;line-height:18.81px;text-align:right;color:#000;z-index:8;white-space:nowrap;box-sizing:border-box;padding-right:3px;letter-spacing:-0.160px;">25</div>
<div style="position:absolute;left:197.50px;top:629.04px;width:188.00px;height:18.81px;line-height:18.81px;text-align:left;color:#000;z-index:8;white-space:nowrap;box-sizing:border-box;padding-left:3px;letter-spacing:-0.538px;">LBN762</div>
<div style="position:absolute;left:1118.00px;top:629.04px;width:155.50px;height:18.81px;line-height:18.81px;text-align:left;color:#000;z-index:8;white-space:nowrap;box-sizing:border-box;padding-left:3px;letter-spacing:-0.538px;overflow:hidden;">LBN762</div>
<div style="position:absolute;left:1355.50px;top:629.04px;width:52.00px;height:18.81px;line-height:18.81px;text-align:right;color:#000;z-index:8;white-space:nowrap;box-sizing:border-box;padding-right:21px;letter-spacing:-0.060px;">-</div>
<div style="position:absolute;left:1407.50px;top:629.04px;width:52.00px;height:18.81px;line-height:18.81px;text-align:right;color:#000;z-index:8;white-space:nowrap;box-sizing:border-box;padding-right:21px;letter-spacing:-0.060px;">-</div>
<div style="position:absolute;left:1459.50px;top:629.04px;width:52.00px;height:18.81px;line-height:18.81px;text-align:right;color:#000;z-index:8;white-space:nowrap;box-sizing:border-box;padding-right:21px;letter-spacing:-0.060px;">-</div>
<div style="position:absolute;left:425.50px;top:629.04px;width:55.50px;height:18.81px;line-height:18.81px;text-align:left;color:#FFFFFF;z-index:8;white-space:nowrap;box-sizing:border-box;padding-left:12.5px;letter-spacing:-0.216px;">35°</div>
<div style="position:absolute;left:481.00px;top:629.04px;width:59.50px;height:18.81px;line-height:18.81px;text-align:left;color:#FFFFFF;z-index:8;white-space:nowrap;box-sizing:border-box;padding-left:12px;letter-spacing:-0.216px;">37°</div>
<div style="position:absolute;left:540.50px;top:629.04px;width:72.00px;height:18.81px;line-height:18.81px;text-align:right;color:#FFFFFF;z-index:8;white-space:nowrap;box-sizing:border-box;padding-right:3px;letter-spacing:-0.106px;">05:04</div>
<div style="position:absolute;left:684.50px;top:629.04px;width:72.00px;height:18.81px;line-height:18.81px;text-align:right;color:#FFFFFF;z-index:8;white-space:nowrap;box-sizing:border-box;padding-right:3px;letter-spacing:-0.106px;">05:26</div>
<div style="position:absolute;left:756.50px;top:629.04px;width:54.00px;height:18.81px;line-height:18.81px;text-align:right;color:#000;z-index:8;white-space:nowrap;box-sizing:border-box;padding-right:6.5px;letter-spacing:-0.160px;">21</div>
<div style="position:absolute;left:919.50px;top:629.04px;width:43.00px;height:18.81px;line-height:18.81px;text-align:right;color:#FFFFFF;z-index:8;white-space:nowrap;box-sizing:border-box;padding-right:3px;letter-spacing:-0.617px;">98%</div>
<div style="position:absolute;left:962.50px;top:629.04px;width:52.00px;height:18.81px;line-height:18.81px;text-align:right;color:#FFFFFF;z-index:8;white-space:nowrap;box-sizing:border-box;padding-right:3px;letter-spacing:-0.216px;">19°</div>
<div style="position:absolute;left:1014.50px;top:629.04px;width:52.00px;height:18.81px;line-height:18.81px;text-align:right;color:#9C5700;z-index:8;white-space:nowrap;box-sizing:border-box;padding-right:3px;letter-spacing:-0.202px;">208°</div>
<div style="position:absolute;left:1066.50px;top:629.04px;width:51.50px;height:18.81px;line-height:18.81px;text-align:right;color:#9C5700;z-index:8;white-space:nowrap;box-sizing:border-box;padding-right:3px;letter-spacing:-0.216px;">93°</div>
<div style="position:absolute;left:161.00px;top:647.85px;width:36.50px;height:18.81px;line-height:18.81px;text-align:right;color:#000;z-index:8;white-space:nowrap;box-sizing:border-box;padding-right:3px;letter-spacing:-0.160px;">26</div>
<div style="position:absolute;left:197.50px;top:647.85px;width:188.00px;height:18.81px;line-height:18.81px;text-align:left;color:#000;z-index:8;white-space:nowrap;box-sizing:border-box;padding-left:3px;letter-spacing:-0.897px;">HFG1</div>
<div style="position:absolute;left:1118.00px;top:647.85px;width:155.50px;height:18.81px;line-height:18.81px;text-align:left;color:#000;z-index:8;white-space:nowrap;box-sizing:border-box;padding-left:3px;letter-spacing:-0.897px;overflow:hidden;">HFG1</div>
<div style="position:absolute;left:1355.50px;top:647.85px;width:52.00px;height:18.81px;line-height:18.81px;text-align:right;color:#000;z-index:8;white-space:nowrap;box-sizing:border-box;padding-right:21px;letter-spacing:-0.060px;">-</div>
<div style="position:absolute;left:1407.50px;top:647.85px;width:52.00px;height:18.81px;line-height:18.81px;text-align:right;color:#000;z-index:8;white-space:nowrap;box-sizing:border-box;padding-right:21px;letter-spacing:-0.060px;">-</div>
<div style="position:absolute;left:1459.50px;top:647.85px;width:52.00px;height:18.81px;line-height:18.81px;text-align:right;color:#000;z-index:8;white-space:nowrap;box-sizing:border-box;padding-right:21px;letter-spacing:-0.060px;">-</div>
<div style="position:absolute;left:425.50px;top:647.85px;width:55.50px;height:18.81px;line-height:18.81px;text-align:left;color:#FFFFFF;z-index:8;white-space:nowrap;box-sizing:border-box;padding-left:12.5px;letter-spacing:-0.216px;">35°</div>
<div style="position:absolute;left:481.00px;top:647.85px;width:59.50px;height:18.81px;line-height:18.81px;text-align:left;color:#9C5700;z-index:8;white-space:nowrap;box-sizing:border-box;padding-left:12px;letter-spacing:-0.216px;">45°</div>
<div style="position:absolute;left:540.50px;top:647.85px;width:72.00px;height:18.81px;line-height:18.81px;text-align:right;color:#006100;z-index:8;white-space:nowrap;box-sizing:border-box;padding-right:3px;letter-spacing:-0.106px;">02:10</div>
<div style="position:absolute;left:684.50px;top:647.85px;width:72.00px;height:18.81px;line-height:18.81px;text-align:right;color:#006100;z-index:8;white-space:nowrap;box-sizing:border-box;padding-right:3px;letter-spacing:-0.106px;">05:26</div>
<div style="position:absolute;left:756.50px;top:647.85px;width:54.00px;height:18.81px;line-height:18.81px;text-align:right;color:#000;z-index:8;white-space:nowrap;box-sizing:border-box;padding-right:6.5px;letter-spacing:-0.160px;">195</div>
<div style="position:absolute;left:919.50px;top:647.85px;width:43.00px;height:18.81px;line-height:18.81px;text-align:right;color:#FFFFFF;z-index:8;white-space:nowrap;box-sizing:border-box;padding-right:3px;letter-spacing:-0.617px;">99%</div>
<div style="position:absolute;left:962.50px;top:647.85px;width:52.00px;height:18.81px;line-height:18.81px;text-align:right;color:#FFFFFF;z-index:8;white-space:nowrap;box-sizing:border-box;padding-right:3px;letter-spacing:-0.216px;">22°</div>
<div style="position:absolute;left:1014.50px;top:647.85px;width:52.00px;height:18.81px;line-height:18.81px;text-align:right;color:#9C5700;z-index:8;white-space:nowrap;box-sizing:border-box;padding-right:3px;letter-spacing:-0.202px;">166°</div>
<div style="position:absolute;left:1066.50px;top:647.85px;width:51.50px;height:18.81px;line-height:18.81px;text-align:right;color:#9C5700;z-index:8;white-space:nowrap;box-sizing:border-box;padding-right:3px;letter-spacing:-0.202px;">109°</div>
<div style="position:absolute;left:161.00px;top:666.66px;width:36.50px;height:18.81px;line-height:18.81px;text-align:right;color:#000;z-index:8;white-space:nowrap;box-sizing:border-box;padding-right:3px;letter-spacing:-0.160px;">27</div>
<div style="position:absolute;left:197.50px;top:666.66px;width:188.00px;height:18.81px;line-height:18.81px;text-align:left;color:#000;z-index:8;white-space:nowrap;box-sizing:border-box;padding-left:3px;letter-spacing:-0.399px;">Sh2-200</div>
<div style="position:absolute;left:1118.00px;top:666.66px;width:155.50px;height:18.81px;line-height:18.81px;text-align:left;color:#000;z-index:8;white-space:nowrap;box-sizing:border-box;padding-left:3px;letter-spacing:-0.399px;overflow:hidden;">Sh2-200</div>
<div style="position:absolute;left:1355.50px;top:666.66px;width:52.00px;height:18.81px;line-height:18.81px;text-align:right;color:#000;z-index:8;white-space:nowrap;box-sizing:border-box;padding-right:21px;letter-spacing:-0.060px;">-</div>
<div style="position:absolute;left:1407.50px;top:666.66px;width:52.00px;height:18.81px;line-height:18.81px;text-align:right;color:#000;z-index:8;white-space:nowrap;box-sizing:border-box;padding-right:21px;letter-spacing:-0.060px;">-</div>
<div style="position:absolute;left:1459.50px;top:666.66px;width:52.00px;height:18.81px;line-height:18.81px;text-align:right;color:#000;z-index:8;white-space:nowrap;box-sizing:border-box;padding-right:21px;letter-spacing:-0.060px;">-</div>
<div style="position:absolute;left:425.50px;top:666.66px;width:55.50px;height:18.81px;line-height:18.81px;text-align:left;color:#FFFFFF;z-index:8;white-space:nowrap;box-sizing:border-box;padding-left:12.5px;letter-spacing:-0.216px;">35°</div>
<div style="position:absolute;left:481.00px;top:666.66px;width:59.50px;height:18.81px;line-height:18.81px;text-align:left;color:#9C5700;z-index:8;white-space:nowrap;box-sizing:border-box;padding-left:12px;letter-spacing:-0.216px;">44°</div>
<div style="position:absolute;left:540.50px;top:666.66px;width:72.00px;height:18.81px;line-height:18.81px;text-align:right;color:#006100;z-index:8;white-space:nowrap;box-sizing:border-box;padding-right:3px;letter-spacing:-0.106px;">02:31</div>
<div style="position:absolute;left:684.50px;top:666.66px;width:72.00px;height:18.81px;line-height:18.81px;text-align:right;color:#006100;z-index:8;white-space:nowrap;box-sizing:border-box;padding-right:3px;letter-spacing:-0.106px;">05:26</div>
<div style="position:absolute;left:756.50px;top:666.66px;width:54.00px;height:18.81px;line-height:18.81px;text-align:right;color:#000;z-index:8;white-space:nowrap;box-sizing:border-box;padding-right:6.5px;letter-spacing:-0.160px;">175</div>
<div style="position:absolute;left:919.50px;top:666.66px;width:43.00px;height:18.81px;line-height:18.81px;text-align:right;color:#FFFFFF;z-index:8;white-space:nowrap;box-sizing:border-box;padding-right:3px;letter-spacing:-0.617px;">99%</div>
<div style="position:absolute;left:962.50px;top:666.66px;width:52.00px;height:18.81px;line-height:18.81px;text-align:right;color:#FFFFFF;z-index:8;white-space:nowrap;box-sizing:border-box;padding-right:3px;letter-spacing:-0.216px;">23°</div>
<div style="position:absolute;left:1014.50px;top:666.66px;width:52.00px;height:18.81px;line-height:18.81px;text-align:right;color:#9C5700;z-index:8;white-space:nowrap;box-sizing:border-box;padding-right:3px;letter-spacing:-0.202px;">171°</div>
<div style="position:absolute;left:1066.50px;top:666.66px;width:51.50px;height:18.81px;line-height:18.81px;text-align:right;color:#9C5700;z-index:8;white-space:nowrap;box-sizing:border-box;padding-right:3px;letter-spacing:-0.202px;">109°</div>
<div style="position:absolute;left:161.00px;top:685.47px;width:36.50px;height:18.81px;line-height:18.81px;text-align:right;color:#000;z-index:8;white-space:nowrap;box-sizing:border-box;padding-right:3px;letter-spacing:-0.160px;">28</div>
<div style="position:absolute;left:197.50px;top:685.47px;width:188.00px;height:18.81px;line-height:18.81px;text-align:left;color:#000;z-index:8;white-space:nowrap;box-sizing:border-box;padding-left:3px;letter-spacing:-0.577px;">NGC 1272</div>
<div style="position:absolute;left:1118.00px;top:685.47px;width:155.50px;height:18.81px;line-height:18.81px;text-align:left;color:#000;z-index:8;white-space:nowrap;box-sizing:border-box;padding-left:3px;letter-spacing:-0.577px;overflow:hidden;">NGC 1272</div>
<div style="position:absolute;left:1355.50px;top:685.47px;width:52.00px;height:18.81px;line-height:18.81px;text-align:right;color:#000;z-index:8;white-space:nowrap;box-sizing:border-box;padding-right:21px;letter-spacing:-0.060px;">-</div>
<div style="position:absolute;left:1407.50px;top:685.47px;width:52.00px;height:18.81px;line-height:18.81px;text-align:right;color:#000;z-index:8;white-space:nowrap;box-sizing:border-box;padding-right:21px;letter-spacing:-0.060px;">-</div>
<div style="position:absolute;left:1459.50px;top:685.47px;width:52.00px;height:18.81px;line-height:18.81px;text-align:right;color:#000;z-index:8;white-space:nowrap;box-sizing:border-box;padding-right:21px;letter-spacing:-0.060px;">-</div>
<div style="position:absolute;left:425.50px;top:685.47px;width:55.50px;height:18.81px;line-height:18.81px;text-align:left;color:#FFFFFF;z-index:8;white-space:nowrap;box-sizing:border-box;padding-left:12.5px;letter-spacing:-0.216px;">35°</div>
<div style="position:absolute;left:481.00px;top:685.47px;width:59.50px;height:18.81px;line-height:18.81px;text-align:left;color:#9C5700;z-index:8;white-space:nowrap;box-sizing:border-box;padding-left:12px;letter-spacing:-0.216px;">42°</div>
<div style="position:absolute;left:540.50px;top:685.47px;width:72.00px;height:18.81px;line-height:18.81px;text-align:right;color:#9C5700;z-index:8;white-space:nowrap;box-sizing:border-box;padding-right:3px;letter-spacing:-0.106px;">04:01</div>
<div style="position:absolute;left:684.50px;top:685.47px;width:72.00px;height:18.81px;line-height:18.81px;text-align:right;color:#9C5700;z-index:8;white-space:nowrap;box-sizing:border-box;padding-right:3px;letter-spacing:-0.106px;">05:26</div>
<div style="position:absolute;left:756.50px;top:685.47px;width:54.00px;height:18.81px;line-height:18.81px;text-align:right;color:#000;z-index:8;white-space:nowrap;box-sizing:border-box;padding-right:6.5px;letter-spacing:-0.160px;">84</div>
<div style="position:absolute;left:919.50px;top:685.47px;width:43.00px;height:18.81px;line-height:18.81px;text-align:right;color:#FFFFFF;z-index:8;white-space:nowrap;box-sizing:border-box;padding-right:3px;letter-spacing:-0.617px;">99%</div>
<div style="position:absolute;left:962.50px;top:685.47px;width:52.00px;height:18.81px;line-height:18.81px;text-align:right;color:#FFFFFF;z-index:8;white-space:nowrap;box-sizing:border-box;padding-right:3px;letter-spacing:-0.216px;">23°</div>
<div style="position:absolute;left:1014.50px;top:685.47px;width:52.00px;height:18.81px;line-height:18.81px;text-align:right;color:#9C5700;z-index:8;white-space:nowrap;box-sizing:border-box;padding-right:3px;letter-spacing:-0.202px;">193°</div>
<div style="position:absolute;left:1066.50px;top:685.47px;width:51.50px;height:18.81px;line-height:18.81px;text-align:right;color:#9C5700;z-index:8;white-space:nowrap;box-sizing:border-box;padding-right:3px;letter-spacing:-0.202px;">105°</div>
<div style="position:absolute;left:161.00px;top:704.28px;width:36.50px;height:18.81px;line-height:18.81px;text-align:right;color:#000;z-index:8;white-space:nowrap;box-sizing:border-box;padding-right:3px;letter-spacing:-0.160px;">29</div>
<div style="position:absolute;left:197.50px;top:704.28px;width:188.00px;height:18.81px;line-height:18.81px;text-align:left;color:#000;z-index:8;white-space:nowrap;box-sizing:border-box;padding-left:3px;letter-spacing:-0.577px;">NGC 1333</div>
<div style="position:absolute;left:1118.00px;top:704.28px;width:155.50px;height:18.81px;line-height:18.81px;text-align:left;color:#000;z-index:8;white-space:nowrap;box-sizing:border-box;padding-left:3px;letter-spacing:-0.577px;overflow:hidden;">NGC 1333</div>
<div style="position:absolute;left:1355.50px;top:704.28px;width:52.00px;height:18.81px;line-height:18.81px;text-align:right;color:#000;z-index:8;white-space:nowrap;box-sizing:border-box;padding-right:21px;letter-spacing:-0.060px;">-</div>
<div style="position:absolute;left:1407.50px;top:704.28px;width:52.00px;height:18.81px;line-height:18.81px;text-align:right;color:#000;z-index:8;white-space:nowrap;box-sizing:border-box;padding-right:21px;letter-spacing:-0.060px;">-</div>
<div style="position:absolute;left:1459.50px;top:704.28px;width:52.00px;height:18.81px;line-height:18.81px;text-align:right;color:#000;z-index:8;white-space:nowrap;box-sizing:border-box;padding-right:21px;letter-spacing:-0.060px;">-</div>
<div style="position:absolute;left:425.50px;top:704.28px;width:55.50px;height:18.81px;line-height:18.81px;text-align:left;color:#FFFFFF;z-index:8;white-space:nowrap;box-sizing:border-box;padding-left:12.5px;letter-spacing:-0.216px;">35°</div>
<div style="position:absolute;left:481.00px;top:704.28px;width:59.50px;height:18.81px;line-height:18.81px;text-align:left;color:#FFFFFF;z-index:8;white-space:nowrap;box-sizing:border-box;padding-left:12px;letter-spacing:-0.216px;">39°</div>
<div style="position:absolute;left:540.50px;top:704.28px;width:72.00px;height:18.81px;line-height:18.81px;text-align:right;color:#FFFFFF;z-index:8;white-space:nowrap;box-sizing:border-box;padding-right:3px;letter-spacing:-0.106px;">04:45</div>
<div style="position:absolute;left:684.50px;top:704.28px;width:72.00px;height:18.81px;line-height:18.81px;text-align:right;color:#FFFFFF;z-index:8;white-space:nowrap;box-sizing:border-box;padding-right:3px;letter-spacing:-0.106px;">05:26</div>
<div style="position:absolute;left:756.50px;top:704.28px;width:54.00px;height:18.81px;line-height:18.81px;text-align:right;color:#000;z-index:8;white-space:nowrap;box-sizing:border-box;padding-right:6.5px;letter-spacing:-0.160px;">41</div>
<div style="position:absolute;left:919.50px;top:704.28px;width:43.00px;height:18.81px;line-height:18.81px;text-align:right;color:#FFFFFF;z-index:8;white-space:nowrap;box-sizing:border-box;padding-right:3px;letter-spacing:-0.617px;">99%</div>
<div style="position:absolute;left:962.50px;top:704.28px;width:52.00px;height:18.81px;line-height:18.81px;text-align:right;color:#FFFFFF;z-index:8;white-space:nowrap;box-sizing:border-box;padding-right:3px;letter-spacing:-0.216px;">20°</div>
<div style="position:absolute;left:1014.50px;top:704.28px;width:52.00px;height:18.81px;line-height:18.81px;text-align:right;color:#9C5700;z-index:8;white-space:nowrap;box-sizing:border-box;padding-right:3px;letter-spacing:-0.202px;">204°</div>
<div style="position:absolute;left:1066.50px;top:704.28px;width:51.50px;height:18.81px;line-height:18.81px;text-align:right;color:#9C5700;z-index:8;white-space:nowrap;box-sizing:border-box;padding-right:3px;letter-spacing:-0.202px;">104°</div>
<div style="position:absolute;left:810.50px;top:196.41px;width:55.00px;height:18.81px;line-height:18.81px;text-align:left;color:#FFFFFF;z-index:8;white-space:nowrap;box-sizing:border-box;padding-left:6.5px;letter-spacing:-1.382px;">X</div>
<div style="position:absolute;left:810.50px;top:215.22px;width:55.00px;height:18.81px;line-height:18.81px;text-align:left;color:#9C5700;z-index:8;white-space:nowrap;box-sizing:border-box;padding-left:6.5px;letter-spacing:-1.382px;">X</div>
<div style="position:absolute;left:810.50px;top:234.03px;width:55.00px;height:18.81px;line-height:18.81px;text-align:left;color:#9C5700;z-index:8;white-space:nowrap;box-sizing:border-box;padding-left:6.5px;letter-spacing:-1.382px;">X</div>
<div style="position:absolute;left:865.50px;top:177.60px;width:54.00px;height:18.81px;line-height:18.81px;text-align:left;color:#006100;z-index:8;white-space:nowrap;box-sizing:border-box;padding-left:5.5px;letter-spacing:-1.382px;">X</div>
<div style="position:absolute;left:865.50px;top:252.84px;width:54.00px;height:18.81px;line-height:18.81px;text-align:left;color:#006100;z-index:8;white-space:nowrap;box-sizing:border-box;padding-left:5.5px;letter-spacing:-1.382px;">X</div>
<div style="position:absolute;left:0.00px;top:0.00px;width:1500.00px;height:26.00px;background:#F4F4F4;z-index:20;"></div>
<div style="position:absolute;left:0.00px;top:0.00px;width:1500.00px;height:1.00px;background:#E6E6E6;z-index:21;"></div>
<div style="position:absolute;left:0.00px;top:1.00px;width:1500.00px;height:1.00px;background:#D0D0D0;z-index:21;"></div>
<div style="position:absolute;left:0.00px;top:25.00px;width:1500.00px;height:1.00px;background:#CFCFCF;z-index:21;"></div>
<div style="position:absolute;left:0.00px;top:26.00px;width:24.00px;height:700.00px;background:#F8F8F8;z-index:20;"></div>
<div style="position:absolute;left:23.00px;top:0.00px;width:1.00px;height:726.00px;background:#CFCFCF;z-index:21;"></div>
<div style="position:absolute;left:125.00px;top:2.00px;width:1.00px;height:23.00px;background:#E2E2E2;z-index:21;"></div>
<div style="position:absolute;left:161.00px;top:2.00px;width:1.00px;height:23.00px;background:#E2E2E2;z-index:21;"></div>
<div style="position:absolute;left:197.00px;top:2.00px;width:1.00px;height:23.00px;background:#E2E2E2;z-index:21;"></div>
<div style="position:absolute;left:385.00px;top:2.00px;width:1.00px;height:23.00px;background:#E2E2E2;z-index:21;"></div>
<div style="position:absolute;left:425.00px;top:2.00px;width:1.00px;height:23.00px;background:#E2E2E2;z-index:21;"></div>
<div style="position:absolute;left:481.00px;top:2.00px;width:1.00px;height:23.00px;background:#E2E2E2;z-index:21;"></div>
<div style="position:absolute;left:540.00px;top:2.00px;width:1.00px;height:23.00px;background:#E2E2E2;z-index:21;"></div>
<div style="position:absolute;left:612.00px;top:2.00px;width:1.00px;height:23.00px;background:#E2E2E2;z-index:21;"></div>
<div style="position:absolute;left:684.00px;top:2.00px;width:1.00px;height:23.00px;background:#E2E2E2;z-index:21;"></div>
<div style="position:absolute;left:756.00px;top:2.00px;width:1.00px;height:23.00px;background:#E2E2E2;z-index:21;"></div>
<div style="position:absolute;left:810.00px;top:2.00px;width:1.00px;height:23.00px;background:#E2E2E2;z-index:21;"></div>
<div style="position:absolute;left:865.00px;top:2.00px;width:1.00px;height:23.00px;background:#E2E2E2;z-index:21;"></div>
<div style="position:absolute;left:919.00px;top:2.00px;width:1.00px;height:23.00px;background:#E2E2E2;z-index:21;"></div>
<div style="position:absolute;left:962.00px;top:2.00px;width:1.00px;height:23.00px;background:#E2E2E2;z-index:21;"></div>
<div style="position:absolute;left:1014.00px;top:2.00px;width:1.00px;height:23.00px;background:#E2E2E2;z-index:21;"></div>
<div style="position:absolute;left:1066.00px;top:2.00px;width:1.00px;height:23.00px;background:#E2E2E2;z-index:21;"></div>
<div style="position:absolute;left:1118.00px;top:2.00px;width:1.00px;height:23.00px;background:#E2E2E2;z-index:21;"></div>
<div style="position:absolute;left:1273.00px;top:2.00px;width:1.00px;height:23.00px;background:#E2E2E2;z-index:21;"></div>
<div style="position:absolute;left:1355.00px;top:2.00px;width:1.00px;height:23.00px;background:#E2E2E2;z-index:21;"></div>
<div style="position:absolute;left:1407.00px;top:2.00px;width:1.00px;height:23.00px;background:#E2E2E2;z-index:21;"></div>
<div style="position:absolute;left:1459.00px;top:2.00px;width:1.00px;height:23.00px;background:#E2E2E2;z-index:21;"></div>
<svg style="position:absolute;left:0;top:0;z-index:22" width="24" height="25"><polygon points="21,7 21,23 5,23" fill="#DCDCDC"/></svg>
<div style="position:absolute;left:23.50px;top:3px;width:102.00px;height:24px;line-height:24px;text-align:center;color:#217346;z-index:23;font-size:11.8px;-webkit-text-stroke:0.3px #217346">A</div>
<div style="position:absolute;left:125.50px;top:3px;width:35.50px;height:24px;line-height:24px;text-align:center;color:#000;z-index:23;font-size:11.8px;-webkit-text-stroke:0.3px #000">B</div>
<div style="position:absolute;left:161.00px;top:3px;width:36.50px;height:24px;line-height:24px;text-align:center;color:#000;z-index:23;font-size:11.8px;-webkit-text-stroke:0.3px #000">C</div>
<div style="position:absolute;left:197.50px;top:3px;width:188.00px;height:24px;line-height:24px;text-align:center;color:#000;z-index:23;font-size:11.8px;-webkit-text-stroke:0.3px #000">D</div>
<div style="position:absolute;left:385.50px;top:3px;width:40.00px;height:24px;line-height:24px;text-align:center;color:#000;z-index:23;font-size:11.8px;-webkit-text-stroke:0.3px #000">E</div>
<div style="position:absolute;left:425.50px;top:3px;width:55.50px;height:24px;line-height:24px;text-align:center;color:#000;z-index:23;font-size:11.8px;-webkit-text-stroke:0.3px #000">F</div>
<div style="position:absolute;left:481.00px;top:3px;width:59.50px;height:24px;line-height:24px;text-align:center;color:#000;z-index:23;font-size:11.8px;-webkit-text-stroke:0.3px #000">G</div>
<div style="position:absolute;left:540.50px;top:3px;width:72.00px;height:24px;line-height:24px;text-align:center;color:#000;z-index:23;font-size:11.8px;-webkit-text-stroke:0.3px #000">H</div>
<div style="position:absolute;left:612.50px;top:3px;width:72.00px;height:24px;line-height:24px;text-align:center;color:#000;z-index:23;font-size:11.8px;-webkit-text-stroke:0.3px #000">I</div>
<div style="position:absolute;left:684.50px;top:3px;width:72.00px;height:24px;line-height:24px;text-align:center;color:#000;z-index:23;font-size:11.8px;-webkit-text-stroke:0.3px #000">J</div>
<div style="position:absolute;left:756.50px;top:3px;width:54.00px;height:24px;line-height:24px;text-align:center;color:#000;z-index:23;font-size:11.8px;-webkit-text-stroke:0.3px #000">K</div>
<div style="position:absolute;left:810.50px;top:3px;width:55.00px;height:24px;line-height:24px;text-align:center;color:#000;z-index:23;font-size:11.8px;-webkit-text-stroke:0.3px #000">L</div>
<div style="position:absolute;left:865.50px;top:3px;width:54.00px;height:24px;line-height:24px;text-align:center;color:#000;z-index:23;font-size:11.8px;-webkit-text-stroke:0.3px #000">M</div>
<div style="position:absolute;left:919.50px;top:3px;width:43.00px;height:24px;line-height:24px;text-align:center;color:#000;z-index:23;font-size:11.8px;-webkit-text-stroke:0.3px #000">N</div>
<div style="position:absolute;left:962.50px;top:3px;width:52.00px;height:24px;line-height:24px;text-align:center;color:#000;z-index:23;font-size:11.8px;-webkit-text-stroke:0.3px #000">O</div>
<div style="position:absolute;left:1014.50px;top:3px;width:52.00px;height:24px;line-height:24px;text-align:center;color:#000;z-index:23;font-size:11.8px;-webkit-text-stroke:0.3px #000">P</div>
<div style="position:absolute;left:1066.50px;top:3px;width:51.50px;height:24px;line-height:24px;text-align:center;color:#000;z-index:23;font-size:11.8px;-webkit-text-stroke:0.3px #000">Q</div>
<div style="position:absolute;left:1118.00px;top:3px;width:155.50px;height:24px;line-height:24px;text-align:center;color:#000;z-index:23;font-size:11.8px;-webkit-text-stroke:0.3px #000">U</div>
<div style="position:absolute;left:1273.50px;top:3px;width:82.00px;height:24px;line-height:24px;text-align:center;color:#000;z-index:23;font-size:11.8px;-webkit-text-stroke:0.3px #000">V</div>
<div style="position:absolute;left:1355.50px;top:3px;width:52.00px;height:24px;line-height:24px;text-align:center;color:#000;z-index:23;font-size:11.8px;-webkit-text-stroke:0.3px #000">W</div>
<div style="position:absolute;left:1407.50px;top:3px;width:52.00px;height:24px;line-height:24px;text-align:center;color:#000;z-index:23;font-size:11.8px;-webkit-text-stroke:0.3px #000">X</div>
<div style="position:absolute;left:1459.50px;top:3px;width:52.00px;height:24px;line-height:24px;text-align:center;color:#000;z-index:23;font-size:11.8px;-webkit-text-stroke:0.3px #000">Y</div>
<div style="position:absolute;left:1117.00px;top:2.00px;width:3.00px;height:24.00px;background:#217346;z-index:24;"></div>
<div style="position:absolute;left:24.00px;top:24.00px;width:102.00px;height:3.00px;background:#217346;z-index:24;"></div>
<div style="position:absolute;left:0;top:27.30px;width:23px;height:18.90px;line-height:18.90px;text-align:center;color:#000;z-index:23;font-size:11.8px;-webkit-text-stroke:0.3px #000">1</div>
<div style="position:absolute;left:0;top:46.20px;width:23px;height:18.90px;line-height:18.90px;text-align:center;color:#000;z-index:23;font-size:11.8px;-webkit-text-stroke:0.3px #000">2</div>
<div style="position:absolute;left:0;top:65.10px;width:23px;height:19.00px;line-height:19.00px;text-align:center;color:#000;z-index:23;font-size:11.8px;-webkit-text-stroke:0.3px #000">3</div>
<div style="position:absolute;left:0;top:84.10px;width:23px;height:19.00px;line-height:19.00px;text-align:center;color:#000;z-index:23;font-size:11.8px;-webkit-text-stroke:0.3px #000">4</div>
<div style="position:absolute;left:0;top:103.10px;width:23px;height:18.70px;line-height:18.70px;text-align:center;color:#000;z-index:23;font-size:11.8px;-webkit-text-stroke:0.3px #000">5</div>
<div style="position:absolute;left:0;top:140.60px;width:23px;height:18.80px;line-height:18.80px;text-align:center;color:#000;z-index:23;font-size:11.8px;-webkit-text-stroke:0.3px #000">10</div>
<div style="position:absolute;left:0;top:159.40px;width:23px;height:18.70px;line-height:18.70px;text-align:center;color:#000;z-index:23;font-size:11.8px;-webkit-text-stroke:0.3px #000">11</div>
<div style="position:absolute;left:0;top:178.10px;width:23px;height:18.81px;line-height:18.81px;text-align:center;color:#000;z-index:23;font-size:11.8px;-webkit-text-stroke:0.3px #000">12</div>
<div style="position:absolute;left:0;top:196.91px;width:23px;height:18.81px;line-height:18.81px;text-align:center;color:#000;z-index:23;font-size:11.8px;-webkit-text-stroke:0.3px #000">13</div>
<div style="position:absolute;left:0;top:215.72px;width:23px;height:18.81px;line-height:18.81px;text-align:center;color:#000;z-index:23;font-size:11.8px;-webkit-text-stroke:0.3px #000">14</div>
<div style="position:absolute;left:0;top:234.53px;width:23px;height:18.81px;line-height:18.81px;text-align:center;color:#000;z-index:23;font-size:11.8px;-webkit-text-stroke:0.3px #000">15</div>
<div style="position:absolute;left:0;top:253.34px;width:23px;height:18.81px;line-height:18.81px;text-align:center;color:#000;z-index:23;font-size:11.8px;-webkit-text-stroke:0.3px #000">16</div>
<div style="position:absolute;left:0;top:272.15px;width:23px;height:18.81px;line-height:18.81px;text-align:center;color:#000;z-index:23;font-size:11.8px;-webkit-text-stroke:0.3px #000">17</div>
<div style="position:absolute;left:0;top:290.96px;width:23px;height:18.81px;line-height:18.81px;text-align:center;color:#000;z-index:23;font-size:11.8px;-webkit-text-stroke:0.3px #000">18</div>
<div style="position:absolute;left:0;top:309.77px;width:23px;height:18.81px;line-height:18.81px;text-align:center;color:#000;z-index:23;font-size:11.8px;-webkit-text-stroke:0.3px #000">19</div>
<div style="position:absolute;left:0;top:328.58px;width:23px;height:18.81px;line-height:18.81px;text-align:center;color:#217346;z-index:23;font-size:11.8px;-webkit-text-stroke:0.3px #217346">20</div>
<div style="position:absolute;left:0;top:347.39px;width:23px;height:18.81px;line-height:18.81px;text-align:center;color:#000;z-index:23;font-size:11.8px;-webkit-text-stroke:0.3px #000">21</div>
<div style="position:absolute;left:0;top:366.20px;width:23px;height:18.81px;line-height:18.81px;text-align:center;color:#000;z-index:23;font-size:11.8px;-webkit-text-stroke:0.3px #000">22</div>
<div style="position:absolute;left:0;top:385.01px;width:23px;height:18.81px;line-height:18.81px;text-align:center;color:#000;z-index:23;font-size:11.8px;-webkit-text-stroke:0.3px #000">23</div>
<div style="position:absolute;left:0;top:403.82px;width:23px;height:18.81px;line-height:18.81px;text-align:center;color:#000;z-index:23;font-size:11.8px;-webkit-text-stroke:0.3px #000">24</div>
<div style="position:absolute;left:0;top:422.63px;width:23px;height:18.81px;line-height:18.81px;text-align:center;color:#000;z-index:23;font-size:11.8px;-webkit-text-stroke:0.3px #000">25</div>
<div style="position:absolute;left:0;top:441.44px;width:23px;height:18.81px;line-height:18.81px;text-align:center;color:#000;z-index:23;font-size:11.8px;-webkit-text-stroke:0.3px #000">26</div>
<div style="position:absolute;left:0;top:460.25px;width:23px;height:18.81px;line-height:18.81px;text-align:center;color:#000;z-index:23;font-size:11.8px;-webkit-text-stroke:0.3px #000">27</div>
<div style="position:absolute;left:0;top:479.06px;width:23px;height:18.81px;line-height:18.81px;text-align:center;color:#000;z-index:23;font-size:11.8px;-webkit-text-stroke:0.3px #000">28</div>
<div style="position:absolute;left:0;top:497.87px;width:23px;height:18.81px;line-height:18.81px;text-align:center;color:#000;z-index:23;font-size:11.8px;-webkit-text-stroke:0.3px #000">29</div>
<div style="position:absolute;left:0;top:516.68px;width:23px;height:18.81px;line-height:18.81px;text-align:center;color:#000;z-index:23;font-size:11.8px;-webkit-text-stroke:0.3px #000">30</div>
<div style="position:absolute;left:0;top:535.49px;width:23px;height:18.81px;line-height:18.81px;text-align:center;color:#000;z-index:23;font-size:11.8px;-webkit-text-stroke:0.3px #000">31</div>
<div style="position:absolute;left:0;top:554.30px;width:23px;height:18.81px;line-height:18.81px;text-align:center;color:#000;z-index:23;font-size:11.8px;-webkit-text-stroke:0.3px #000">32</div>
<div style="position:absolute;left:0;top:573.11px;width:23px;height:18.81px;line-height:18.81px;text-align:center;color:#000;z-index:23;font-size:11.8px;-webkit-text-stroke:0.3px #000">33</div>
<div style="position:absolute;left:0;top:591.92px;width:23px;height:18.81px;line-height:18.81px;text-align:center;color:#000;z-index:23;font-size:11.8px;-webkit-text-stroke:0.3px #000">34</div>
<div style="position:absolute;left:0;top:610.73px;width:23px;height:18.81px;line-height:18.81px;text-align:center;color:#000;z-index:23;font-size:11.8px;-webkit-text-stroke:0.3px #000">35</div>
<div style="position:absolute;left:0;top:629.54px;width:23px;height:18.81px;line-height:18.81px;text-align:center;color:#000;z-index:23;font-size:11.8px;-webkit-text-stroke:0.3px #000">36</div>
<div style="position:absolute;left:0;top:648.35px;width:23px;height:18.81px;line-height:18.81px;text-align:center;color:#000;z-index:23;font-size:11.8px;-webkit-text-stroke:0.3px #000">37</div>
<div style="position:absolute;left:0;top:667.16px;width:23px;height:18.81px;line-height:18.81px;text-align:center;color:#000;z-index:23;font-size:11.8px;-webkit-text-stroke:0.3px #000">38</div>
<div style="position:absolute;left:0;top:685.97px;width:23px;height:18.81px;line-height:18.81px;text-align:center;color:#000;z-index:23;font-size:11.8px;-webkit-text-stroke:0.3px #000">39</div>
<div style="position:absolute;left:0;top:704.78px;width:23px;height:18.81px;line-height:18.81px;text-align:center;color:#000;z-index:23;font-size:11.8px;-webkit-text-stroke:0.3px #000">40</div>
<div style="position:absolute;left:0.00px;top:44.00px;width:23.00px;height:1.00px;background:#E0E0E0;z-index:21;"></div>
<div style="position:absolute;left:0.00px;top:63.00px;width:23.00px;height:1.00px;background:#E0E0E0;z-index:21;"></div>
<div style="position:absolute;left:0.00px;top:82.00px;width:23.00px;height:1.00px;background:#E0E0E0;z-index:21;"></div>
<div style="position:absolute;left:0.00px;top:101.00px;width:23.00px;height:1.00px;background:#E0E0E0;z-index:21;"></div>
<div style="position:absolute;left:0.00px;top:120.00px;width:23.00px;height:1.00px;background:#E0E0E0;z-index:21;"></div>
<div style="position:absolute;left:0.00px;top:125.00px;width:23.00px;height:1.00px;background:#E0E0E0;z-index:21;"></div>
<div style="position:absolute;left:0.00px;top:129.00px;width:23.00px;height:1.00px;background:#E0E0E0;z-index:21;"></div>
<div style="position:absolute;left:0.00px;top:134.00px;width:23.00px;height:1.00px;background:#E0E0E0;z-index:21;"></div>
<div style="position:absolute;left:0.00px;top:138.00px;width:23.00px;height:1.00px;background:#E0E0E0;z-index:21;"></div>
<div style="position:absolute;left:0.00px;top:157.00px;width:23.00px;height:1.00px;background:#E0E0E0;z-index:21;"></div>
<div style="position:absolute;left:0.00px;top:176.00px;width:23.00px;height:1.00px;background:#E0E0E0;z-index:21;"></div>
<div style="position:absolute;left:0.00px;top:195.00px;width:23.00px;height:1.00px;background:#E0E0E0;z-index:21;"></div>
<div style="position:absolute;left:0.00px;top:213.00px;width:23.00px;height:1.00px;background:#E0E0E0;z-index:21;"></div>
<div style="position:absolute;left:0.00px;top:232.00px;width:23.00px;height:1.00px;background:#E0E0E0;z-index:21;"></div>
<div style="position:absolute;left:0.00px;top:251.00px;width:23.00px;height:1.00px;background:#E0E0E0;z-index:21;"></div>
<div style="position:absolute;left:0.00px;top:270.00px;width:23.00px;height:1.00px;background:#E0E0E0;z-index:21;"></div>
<div style="position:absolute;left:0.00px;top:289.00px;width:23.00px;height:1.00px;background:#E0E0E0;z-index:21;"></div>
<div style="position:absolute;left:0.00px;top:307.00px;width:23.00px;height:1.00px;background:#E0E0E0;z-index:21;"></div>
<div style="position:absolute;left:0.00px;top:326.00px;width:23.00px;height:1.00px;background:#E0E0E0;z-index:21;"></div>
<div style="position:absolute;left:0.00px;top:345.00px;width:23.00px;height:1.00px;background:#E0E0E0;z-index:21;"></div>
<div style="position:absolute;left:0.00px;top:364.00px;width:23.00px;height:1.00px;background:#E0E0E0;z-index:21;"></div>
<div style="position:absolute;left:0.00px;top:383.00px;width:23.00px;height:1.00px;background:#E0E0E0;z-index:21;"></div>
<div style="position:absolute;left:0.00px;top:402.00px;width:23.00px;height:1.00px;background:#E0E0E0;z-index:21;"></div>
<div style="position:absolute;left:0.00px;top:420.00px;width:23.00px;height:1.00px;background:#E0E0E0;z-index:21;"></div>
<div style="position:absolute;left:0.00px;top:439.00px;width:23.00px;height:1.00px;background:#E0E0E0;z-index:21;"></div>
<div style="position:absolute;left:0.00px;top:458.00px;width:23.00px;height:1.00px;background:#E0E0E0;z-index:21;"></div>
<div style="position:absolute;left:0.00px;top:477.00px;width:23.00px;height:1.00px;background:#E0E0E0;z-index:21;"></div>
<div style="position:absolute;left:0.00px;top:496.00px;width:23.00px;height:1.00px;background:#E0E0E0;z-index:21;"></div>
<div style="position:absolute;left:0.00px;top:514.00px;width:23.00px;height:1.00px;background:#E0E0E0;z-index:21;"></div>
<div style="position:absolute;left:0.00px;top:533.00px;width:23.00px;height:1.00px;background:#E0E0E0;z-index:21;"></div>
<div style="position:absolute;left:0.00px;top:552.00px;width:23.00px;height:1.00px;background:#E0E0E0;z-index:21;"></div>
<div style="position:absolute;left:0.00px;top:571.00px;width:23.00px;height:1.00px;background:#E0E0E0;z-index:21;"></div>
<div style="position:absolute;left:0.00px;top:590.00px;width:23.00px;height:1.00px;background:#E0E0E0;z-index:21;"></div>
<div style="position:absolute;left:0.00px;top:608.00px;width:23.00px;height:1.00px;background:#E0E0E0;z-index:21;"></div>
<div style="position:absolute;left:0.00px;top:627.00px;width:23.00px;height:1.00px;background:#E0E0E0;z-index:21;"></div>
<div style="position:absolute;left:0.00px;top:646.00px;width:23.00px;height:1.00px;background:#E0E0E0;z-index:21;"></div>
<div style="position:absolute;left:0.00px;top:665.00px;width:23.00px;height:1.00px;background:#E0E0E0;z-index:21;"></div>
<div style="position:absolute;left:0.00px;top:684.00px;width:23.00px;height:1.00px;background:#E0E0E0;z-index:21;"></div>
<div style="position:absolute;left:0.00px;top:702.00px;width:23.00px;height:1.00px;background:#E0E0E0;z-index:21;"></div>
<div style="position:absolute;left:0.00px;top:721.00px;width:23.00px;height:1.00px;background:#E0E0E0;z-index:21;"></div>
<div style="position:absolute;left:9.00px;top:121.00px;width:5.00px;height:1.00px;background:#333;z-index:23;"></div>
<div style="position:absolute;left:0.00px;top:176.00px;width:1500.00px;height:1.00px;background:#A8A8A8;z-index:30;"></div>
<div style="position:absolute;left:22.00px;top:325.28px;width:101.00px;height:17.81px;border:2px solid #217346;z-index:25;box-sizing:content-box"></div>
<div style="position:absolute;left:122.00px;top:341.00px;width:7.00px;height:1.00px;background:#FFFFFF;z-index:26;"></div>
<div style="position:absolute;left:122.00px;top:341.00px;width:1.00px;height:7.00px;background:#FFFFFF;z-index:26;"></div>
<div style="position:absolute;left:123.00px;top:342.00px;width:5.00px;height:6.00px;background:#217346;z-index:27;"></div>
</body></html>
